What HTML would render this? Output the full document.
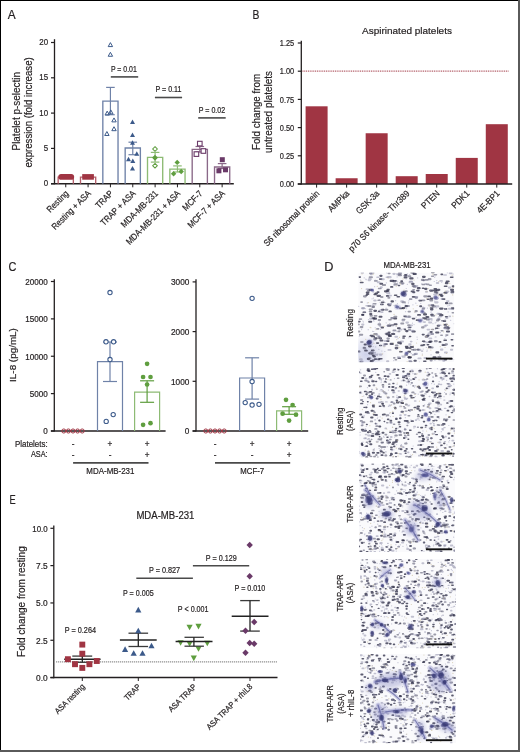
<!DOCTYPE html>
<html><head><meta charset="utf-8"><style>
html,body{margin:0;padding:0;background:#fff;}
svg{display:block;will-change:transform;}
text{font-family:"Liberation Sans", sans-serif;fill:#231f20;stroke:#231f20;stroke-width:0.2px;}
</style></head><body>
<svg width="520" height="752" viewBox="0 0 520 752">
<rect x="0" y="0" width="520" height="752" fill="#fff"/>
<text x="7.8" y="18.6" font-size="13.3" textLength="7.9" lengthAdjust="spacingAndGlyphs">A</text>
<line x1="54.5" y1="39.2" x2="54.5" y2="184.3" stroke="#231f20" stroke-width="1.3"/>
<line x1="51" y1="183.7" x2="54.5" y2="183.7" stroke="#231f20" stroke-width="1.2"/>
<text x="48.1" y="186.3" font-size="8.8" text-anchor="end" textLength="4.4" lengthAdjust="spacingAndGlyphs">0</text>
<line x1="51" y1="148.4" x2="54.5" y2="148.4" stroke="#231f20" stroke-width="1.2"/>
<text x="48.1" y="151" font-size="8.8" text-anchor="end" textLength="4.4" lengthAdjust="spacingAndGlyphs">5</text>
<line x1="51" y1="113.1" x2="54.5" y2="113.1" stroke="#231f20" stroke-width="1.2"/>
<text x="48.1" y="115.7" font-size="8.8" text-anchor="end" textLength="8.8" lengthAdjust="spacingAndGlyphs">10</text>
<line x1="51" y1="77.8" x2="54.5" y2="77.8" stroke="#231f20" stroke-width="1.2"/>
<text x="48.1" y="80.4" font-size="8.8" text-anchor="end" textLength="8.8" lengthAdjust="spacingAndGlyphs">15</text>
<line x1="51" y1="42.5" x2="54.5" y2="42.5" stroke="#231f20" stroke-width="1.2"/>
<text x="48.1" y="45.1" font-size="8.8" text-anchor="end" textLength="8.8" lengthAdjust="spacingAndGlyphs">20</text>
<text transform="translate(20.2 111.3) rotate(-90)" font-size="10.4" text-anchor="middle" textLength="78.4" lengthAdjust="spacingAndGlyphs">Platelet p-selectin</text>
<text transform="translate(32.4 112.4) rotate(-90)" font-size="10.4" text-anchor="middle" textLength="110.2" lengthAdjust="spacingAndGlyphs">expression (fold increase)</text>
<line x1="51" y1="183.7" x2="233.8" y2="183.7" stroke="#231f20" stroke-width="1.5"/>
<line x1="65.75" y1="183.7" x2="65.75" y2="187.3" stroke="#231f20" stroke-width="1"/>
<text transform="translate(69.15 194.1) rotate(-45)" font-size="9" text-anchor="end" textLength="26.85" lengthAdjust="spacingAndGlyphs">Resting</text>
<line x1="88.09" y1="183.7" x2="88.09" y2="187.3" stroke="#231f20" stroke-width="1"/>
<text transform="translate(91.49 194.1) rotate(-45)" font-size="9" text-anchor="end" textLength="51.29" lengthAdjust="spacingAndGlyphs">Resting + ASA</text>
<line x1="110.43" y1="183.7" x2="110.43" y2="187.3" stroke="#231f20" stroke-width="1"/>
<text transform="translate(113.83 194.1) rotate(-45)" font-size="9" text-anchor="end" textLength="21.12" lengthAdjust="spacingAndGlyphs">TRAP</text>
<line x1="132.77" y1="183.7" x2="132.77" y2="187.3" stroke="#231f20" stroke-width="1"/>
<text transform="translate(136.17 194.1) rotate(-45)" font-size="9" text-anchor="end" textLength="45.42" lengthAdjust="spacingAndGlyphs">TRAP + ASA</text>
<line x1="155.11" y1="183.7" x2="155.11" y2="187.3" stroke="#231f20" stroke-width="1"/>
<text transform="translate(158.51 194.1) rotate(-45)" font-size="9" text-anchor="end" textLength="47.97" lengthAdjust="spacingAndGlyphs">MDA-MB-231</text>
<line x1="177.45" y1="183.7" x2="177.45" y2="187.3" stroke="#231f20" stroke-width="1"/>
<text transform="translate(180.85 194.1) rotate(-45)" font-size="9" text-anchor="end" textLength="72.41" lengthAdjust="spacingAndGlyphs">MDA-MB-231 + ASA</text>
<line x1="199.79" y1="183.7" x2="199.79" y2="187.3" stroke="#231f20" stroke-width="1"/>
<text transform="translate(203.19 194.1) rotate(-45)" font-size="9" text-anchor="end" textLength="24.2" lengthAdjust="spacingAndGlyphs">MCF-7</text>
<line x1="222.13" y1="183.7" x2="222.13" y2="187.3" stroke="#231f20" stroke-width="1"/>
<text transform="translate(225.53 194.1) rotate(-45)" font-size="9" text-anchor="end" textLength="48.64" lengthAdjust="spacingAndGlyphs">MCF-7 + ASA</text>
<path d="M58.15 183.7 V177.1 H73.35 V183.7" fill="none" stroke="#b5606c" stroke-width="1.35"/>
<path d="M58.2 176.9 Q58.6 174.1 61 174.1 H71.4 Q73.8 174.1 74.2 176.9 Q73.8 179.7 71.4 179.7 H61 Q58.6 179.7 58.2 176.9Z" fill="#a03543"/>
<path d="M80.49 183.7 V177.1 H95.69 V183.7" fill="none" stroke="#b5606c" stroke-width="1.35"/>
<rect x="82.2" y="174.1" width="11.7" height="5.6" fill="#a03543"/>
<path d="M102.83 183.7 V101.1 H118.03 V183.7" fill="none" stroke="#6f82a8" stroke-width="1.35"/>
<line x1="110.43" y1="114.7" x2="110.43" y2="87.4" stroke="#6f82a8" stroke-width="1.2"/>
<line x1="106.13" y1="114.7" x2="114.73" y2="114.7" stroke="#6f82a8" stroke-width="1.2"/>
<line x1="106.13" y1="87.4" x2="114.73" y2="87.4" stroke="#6f82a8" stroke-width="1.2"/>
<polygon points="110.4,42.62 112.6,46.58 108.2,46.58" fill="none" stroke="#3c5a8a" stroke-width="1" stroke-linejoin="miter"/>
<polygon points="110.4,52.32 112.6,56.28 108.2,56.28" fill="none" stroke="#3c5a8a" stroke-width="1" stroke-linejoin="miter"/>
<polygon points="107.2,111.12 109.4,115.08 105,115.08" fill="none" stroke="#3c5a8a" stroke-width="1" stroke-linejoin="miter"/>
<polygon points="110.8,109.92 113,113.88 108.6,113.88" fill="none" stroke="#3c5a8a" stroke-width="1" stroke-linejoin="miter"/>
<polygon points="114,117.92 116.2,121.88 111.8,121.88" fill="none" stroke="#3c5a8a" stroke-width="1" stroke-linejoin="miter"/>
<polygon points="114,126.72 116.2,130.68 111.8,130.68" fill="none" stroke="#3c5a8a" stroke-width="1" stroke-linejoin="miter"/>
<polygon points="106.9,131.52 109.1,135.48 104.7,135.48" fill="none" stroke="#3c5a8a" stroke-width="1" stroke-linejoin="miter"/>
<path d="M125.17 183.7 V148 H140.37 V183.7" fill="none" stroke="#6f82a8" stroke-width="1.35"/>
<line x1="132.77" y1="154.7" x2="132.77" y2="142.2" stroke="#6f82a8" stroke-width="1.2"/>
<line x1="128.47" y1="154.7" x2="137.07" y2="154.7" stroke="#6f82a8" stroke-width="1.2"/>
<line x1="128.47" y1="142.2" x2="137.07" y2="142.2" stroke="#6f82a8" stroke-width="1.2"/>
<polygon points="132.5,119.4 135,123.9 130,123.9" fill="#3c5a8a"/>
<polygon points="132.5,132.5 135,137 130,137" fill="#3c5a8a"/>
<polygon points="132.5,140.3 135,144.8 130,144.8" fill="#3c5a8a"/>
<polygon points="136.8,151.3 139.3,155.8 134.3,155.8" fill="#3c5a8a"/>
<polygon points="128.5,156.7 131,161.2 126,161.2" fill="#3c5a8a"/>
<polygon points="132.8,158.5 135.3,163 130.3,163" fill="#3c5a8a"/>
<polygon points="132.5,166.1 135,170.6 130,170.6" fill="#3c5a8a"/>
<path d="M147.51 183.7 V157.4 H162.71 V183.7" fill="none" stroke="#8dbb74" stroke-width="1.35"/>
<line x1="155.11" y1="162.1" x2="155.11" y2="152.4" stroke="#8dbb74" stroke-width="1.2"/>
<line x1="150.81" y1="162.1" x2="159.41" y2="162.1" stroke="#8dbb74" stroke-width="1.2"/>
<line x1="150.81" y1="152.4" x2="159.41" y2="152.4" stroke="#8dbb74" stroke-width="1.2"/>
<polygon points="155,146.7 157.3,149 155,151.3 152.7,149" fill="#fff" stroke="#5f9e3f" stroke-width="1.05" stroke-linejoin="miter"/>
<polygon points="155,155.5 157.2,157.7 155,159.9 152.8,157.7" fill="#5f9e3f" stroke="#5f9e3f" stroke-width="1.05" stroke-linejoin="miter"/>
<polygon points="155,163.4 157.3,165.7 155,168 152.7,165.7" fill="#fff" stroke="#5f9e3f" stroke-width="1.05" stroke-linejoin="miter"/>
<path d="M169.85 183.7 V169.1 H185.05 V183.7" fill="none" stroke="#8dbb74" stroke-width="1.35"/>
<line x1="177.45" y1="172" x2="177.45" y2="165.9" stroke="#8dbb74" stroke-width="1.2"/>
<line x1="173.15" y1="172" x2="181.75" y2="172" stroke="#8dbb74" stroke-width="1.2"/>
<line x1="173.15" y1="165.9" x2="181.75" y2="165.9" stroke="#8dbb74" stroke-width="1.2"/>
<polygon points="177.2,159.7 179.9,162.4 177.2,165.1 174.5,162.4" fill="#5f9e3f"/>
<polygon points="173.6,171.1 176.3,173.8 173.6,176.5 170.9,173.8" fill="#5f9e3f"/>
<polygon points="181.2,168.8 183.9,171.5 181.2,174.2 178.5,171.5" fill="#5f9e3f"/>
<path d="M192.19 183.7 V149.3 H207.39 V183.7" fill="none" stroke="#8a6888" stroke-width="1.35"/>
<line x1="199.79" y1="152" x2="199.79" y2="146.5" stroke="#8a6888" stroke-width="1.2"/>
<line x1="195.49" y1="152" x2="204.09" y2="152" stroke="#8a6888" stroke-width="1.2"/>
<line x1="195.49" y1="146.5" x2="204.09" y2="146.5" stroke="#8a6888" stroke-width="1.2"/>
<rect x="197.5" y="141.3" width="4.6" height="4.6" fill="#fff" stroke="#6a3a68" stroke-width="1.1"/>
<rect x="201.1" y="148.7" width="4.6" height="4.6" fill="#fff" stroke="#6a3a68" stroke-width="1.1"/>
<rect x="194.1" y="151.8" width="4.6" height="4.6" fill="#fff" stroke="#6a3a68" stroke-width="1.1"/>
<path d="M214.53 183.7 V167 H229.73 V183.7" fill="none" stroke="#8a6888" stroke-width="1.35"/>
<line x1="222.13" y1="168.5" x2="222.13" y2="163.6" stroke="#8a6888" stroke-width="1.2"/>
<line x1="217.83" y1="168.5" x2="226.43" y2="168.5" stroke="#8a6888" stroke-width="1.2"/>
<line x1="217.83" y1="163.6" x2="226.43" y2="163.6" stroke="#8a6888" stroke-width="1.2"/>
<rect x="219.8" y="157.2" width="5" height="5" fill="#6a3a68"/>
<rect x="216.4" y="168.3" width="5" height="5" fill="#6a3a68"/>
<rect x="223" y="167.3" width="5" height="5" fill="#6a3a68"/>
<text x="110.9" y="71.5" font-size="8.4" fill="#2a2a2a" stroke="none" textLength="25.9" lengthAdjust="spacingAndGlyphs">P = 0.01</text>
<line x1="110.8" y1="76.9" x2="138.2" y2="76.9" stroke="#4a4a4a" stroke-width="1.6"/>
<text x="155.4" y="92.2" font-size="8.4" fill="#2a2a2a" stroke="none" textLength="26.1" lengthAdjust="spacingAndGlyphs">P = 0.11</text>
<line x1="154.9" y1="97.5" x2="182.1" y2="97.5" stroke="#4a4a4a" stroke-width="1.6"/>
<text x="198.7" y="112.7" font-size="8.4" fill="#2a2a2a" stroke="none" textLength="26.5" lengthAdjust="spacingAndGlyphs">P = 0.02</text>
<line x1="198.2" y1="117.9" x2="225.7" y2="117.9" stroke="#4a4a4a" stroke-width="1.6"/>
<text x="252.6" y="18.6" font-size="13.3" textLength="6.9" lengthAdjust="spacingAndGlyphs">B</text>
<text x="407" y="33.9" font-size="9.9" text-anchor="middle" textLength="89.9" lengthAdjust="spacingAndGlyphs">Aspirinated platelets</text>
<line x1="301.3" y1="40.8" x2="301.3" y2="184.6" stroke="#231f20" stroke-width="1.3"/>
<line x1="297.8" y1="184" x2="301.3" y2="184" stroke="#231f20" stroke-width="1.2"/>
<text x="294.2" y="187.1" font-size="8.6" text-anchor="end" textLength="14.4" lengthAdjust="spacingAndGlyphs">0.00</text>
<line x1="297.8" y1="155.8" x2="301.3" y2="155.8" stroke="#231f20" stroke-width="1.2"/>
<text x="294.2" y="158.9" font-size="8.6" text-anchor="end" textLength="14.4" lengthAdjust="spacingAndGlyphs">0.25</text>
<line x1="297.8" y1="127.6" x2="301.3" y2="127.6" stroke="#231f20" stroke-width="1.2"/>
<text x="294.2" y="130.7" font-size="8.6" text-anchor="end" textLength="14.4" lengthAdjust="spacingAndGlyphs">0.50</text>
<line x1="297.8" y1="99.4" x2="301.3" y2="99.4" stroke="#231f20" stroke-width="1.2"/>
<text x="294.2" y="102.5" font-size="8.6" text-anchor="end" textLength="14.4" lengthAdjust="spacingAndGlyphs">0.75</text>
<line x1="297.8" y1="71.2" x2="301.3" y2="71.2" stroke="#231f20" stroke-width="1.2"/>
<text x="294.2" y="74.3" font-size="8.6" text-anchor="end" textLength="14.4" lengthAdjust="spacingAndGlyphs">1.00</text>
<line x1="297.8" y1="43" x2="301.3" y2="43" stroke="#231f20" stroke-width="1.2"/>
<text x="294.2" y="46.1" font-size="8.6" text-anchor="end" textLength="14.4" lengthAdjust="spacingAndGlyphs">1.25</text>
<text transform="translate(259.8 112) rotate(-90)" font-size="10.4" text-anchor="middle" textLength="76.2" lengthAdjust="spacingAndGlyphs">Fold change from</text>
<text transform="translate(271.7 112) rotate(-90)" font-size="10.4" text-anchor="middle" textLength="82" lengthAdjust="spacingAndGlyphs">untreated platelets</text>
<line x1="302.5" y1="71.2" x2="508.5" y2="71.2" stroke="#a03543" stroke-width="1.3" stroke-dasharray="1 0.8" opacity="0.85"/>
<rect x="305.6" y="106.3" width="22" height="77.7" fill="#a03543"/>
<line x1="316.6" y1="184" x2="316.6" y2="187.6" stroke="#231f20" stroke-width="1"/>
<text transform="translate(320 194) rotate(-45)" font-size="9" text-anchor="end" textLength="74.7" lengthAdjust="spacingAndGlyphs">S6 ribosomal protein</text>
<rect x="335.63" y="178.25" width="22" height="5.75" fill="#a03543"/>
<line x1="346.63" y1="184" x2="346.63" y2="187.6" stroke="#231f20" stroke-width="1"/>
<text transform="translate(350.03 194) rotate(-45)" font-size="9" text-anchor="end" textLength="26.25" lengthAdjust="spacingAndGlyphs">AMPka</text>
<rect x="365.66" y="133.25" width="22" height="50.75" fill="#a03543"/>
<line x1="376.66" y1="184" x2="376.66" y2="187.6" stroke="#231f20" stroke-width="1"/>
<text transform="translate(380.06 194) rotate(-45)" font-size="9" text-anchor="end" textLength="28.97" lengthAdjust="spacingAndGlyphs">GSK-3a</text>
<rect x="395.69" y="176.2" width="22" height="7.8" fill="#a03543"/>
<line x1="406.69" y1="184" x2="406.69" y2="187.6" stroke="#231f20" stroke-width="1"/>
<text transform="translate(410.09 194) rotate(-45)" font-size="9" text-anchor="end" textLength="82.26" lengthAdjust="spacingAndGlyphs">p70 S6 kinase- Thr389</text>
<rect x="425.72" y="174" width="22" height="10" fill="#a03543"/>
<line x1="436.72" y1="184" x2="436.72" y2="187.6" stroke="#231f20" stroke-width="1"/>
<text transform="translate(440.12 194) rotate(-45)" font-size="9" text-anchor="end" textLength="21.72" lengthAdjust="spacingAndGlyphs">PTEN</text>
<rect x="455.75" y="157.9" width="22" height="26.1" fill="#a03543"/>
<line x1="466.75" y1="184" x2="466.75" y2="187.6" stroke="#231f20" stroke-width="1"/>
<text transform="translate(470.15 194) rotate(-45)" font-size="9" text-anchor="end" textLength="21.28" lengthAdjust="spacingAndGlyphs">PDK1</text>
<rect x="485.78" y="124.2" width="22" height="59.8" fill="#a03543"/>
<line x1="496.78" y1="184" x2="496.78" y2="187.6" stroke="#231f20" stroke-width="1"/>
<text transform="translate(500.18 194) rotate(-45)" font-size="9" text-anchor="end" textLength="28.07" lengthAdjust="spacingAndGlyphs">4E-BP1</text>
<line x1="297.8" y1="184" x2="512.2" y2="184" stroke="#231f20" stroke-width="1.5"/>
<text x="8.4" y="270.6" font-size="13.3" textLength="7.9" lengthAdjust="spacingAndGlyphs">C</text>
<text transform="translate(16.3 355) rotate(-90)" font-size="9.6" text-anchor="middle" textLength="53.8" lengthAdjust="spacingAndGlyphs">IL-8 (pg/mL)</text>
<text x="47.6" y="446.5" font-size="8.6" text-anchor="end" textLength="32.6" lengthAdjust="spacingAndGlyphs">Platelets:</text>
<text x="47.6" y="457.4" font-size="8.6" text-anchor="end" textLength="16.7" lengthAdjust="spacingAndGlyphs">ASA:</text>
<line x1="54.3" y1="279.2" x2="54.3" y2="431.6" stroke="#231f20" stroke-width="1.3"/>
<line x1="50.9" y1="431" x2="54.3" y2="431" stroke="#231f20" stroke-width="1.2"/>
<text x="47.7" y="434.4" font-size="8.4" text-anchor="end" textLength="4.5" lengthAdjust="spacingAndGlyphs">0</text>
<line x1="50.9" y1="393.62" x2="54.3" y2="393.62" stroke="#231f20" stroke-width="1.2"/>
<text x="47.7" y="397.02" font-size="8.4" text-anchor="end" textLength="18" lengthAdjust="spacingAndGlyphs">5000</text>
<line x1="50.9" y1="356.25" x2="54.3" y2="356.25" stroke="#231f20" stroke-width="1.2"/>
<text x="47.7" y="359.65" font-size="8.4" text-anchor="end" textLength="22.5" lengthAdjust="spacingAndGlyphs">10000</text>
<line x1="50.9" y1="318.88" x2="54.3" y2="318.88" stroke="#231f20" stroke-width="1.2"/>
<text x="47.7" y="322.27" font-size="8.4" text-anchor="end" textLength="22.5" lengthAdjust="spacingAndGlyphs">15000</text>
<line x1="50.9" y1="281.5" x2="54.3" y2="281.5" stroke="#231f20" stroke-width="1.2"/>
<text x="47.7" y="284.9" font-size="8.4" text-anchor="end" textLength="22.5" lengthAdjust="spacingAndGlyphs">20000</text>
<line x1="50.9" y1="431" x2="165.6" y2="431" stroke="#231f20" stroke-width="1.5"/>
<circle cx="63.8" cy="431" r="2.05" fill="none" stroke="#a03543" stroke-width="1"/>
<circle cx="68.4" cy="431" r="2.05" fill="none" stroke="#a03543" stroke-width="1"/>
<circle cx="73" cy="431" r="2.05" fill="none" stroke="#a03543" stroke-width="1"/>
<circle cx="77.6" cy="431" r="2.05" fill="none" stroke="#a03543" stroke-width="1"/>
<circle cx="82.2" cy="431" r="2.05" fill="none" stroke="#a03543" stroke-width="1"/>
<path d="M97.5 431 V361.7 H122.5 V431" fill="none" stroke="#6f82a8" stroke-width="1.2"/>
<line x1="110" y1="381.5" x2="110" y2="342" stroke="#6f82a8" stroke-width="1.2"/>
<line x1="103" y1="381.5" x2="117" y2="381.5" stroke="#6f82a8" stroke-width="1.2"/>
<line x1="103" y1="342" x2="117" y2="342" stroke="#6f82a8" stroke-width="1.2"/>
<circle cx="110" cy="292.5" r="2.15" fill="#fff" stroke="#3c5a8a" stroke-width="1.05"/>
<circle cx="106" cy="341.75" r="2.15" fill="#fff" stroke="#3c5a8a" stroke-width="1.05"/>
<circle cx="113.6" cy="341.75" r="2.15" fill="#fff" stroke="#3c5a8a" stroke-width="1.05"/>
<circle cx="110" cy="359.5" r="2.15" fill="#fff" stroke="#3c5a8a" stroke-width="1.05"/>
<circle cx="106.2" cy="421.4" r="2.15" fill="#fff" stroke="#3c5a8a" stroke-width="1.05"/>
<circle cx="113.2" cy="414.6" r="2.15" fill="#fff" stroke="#3c5a8a" stroke-width="1.05"/>
<path d="M134.6 431 V392.2 H159.6 V431" fill="none" stroke="#8dbb74" stroke-width="1.2"/>
<line x1="147.1" y1="402.3" x2="147.1" y2="380.8" stroke="#5f9e3f" stroke-width="1.2"/>
<line x1="140.1" y1="402.3" x2="154.1" y2="402.3" stroke="#5f9e3f" stroke-width="1.2"/>
<line x1="140.1" y1="380.8" x2="154.1" y2="380.8" stroke="#5f9e3f" stroke-width="1.2"/>
<circle cx="147.1" cy="363.8" r="2.35" fill="#5f9e3f"/>
<circle cx="143.1" cy="377" r="2.35" fill="#5f9e3f"/>
<circle cx="150.5" cy="377" r="2.35" fill="#5f9e3f"/>
<circle cx="147.1" cy="384.5" r="2.35" fill="#5f9e3f"/>
<circle cx="143.1" cy="424.8" r="2.35" fill="#5f9e3f"/>
<circle cx="150.5" cy="423.2" r="2.35" fill="#5f9e3f"/>
<text x="73" y="447.3" font-size="8.2" text-anchor="middle">-</text>
<text x="73" y="457.5" font-size="8.2" text-anchor="middle">-</text>
<text x="110" y="447.3" font-size="8.2" text-anchor="middle">+</text>
<text x="110" y="457.5" font-size="8.2" text-anchor="middle">-</text>
<text x="147.1" y="447.3" font-size="8.2" text-anchor="middle">+</text>
<text x="147.1" y="457.5" font-size="8.2" text-anchor="middle">+</text>
<line x1="73.1" y1="462.9" x2="148.5" y2="462.9" stroke="#4a4a4a" stroke-width="1.6"/>
<text x="110.4" y="473.9" font-size="8.4" text-anchor="middle" textLength="48.06" lengthAdjust="spacingAndGlyphs">MDA-MB-231</text>
<line x1="196" y1="279.2" x2="196" y2="431.6" stroke="#231f20" stroke-width="1.3"/>
<line x1="192.6" y1="431" x2="196" y2="431" stroke="#231f20" stroke-width="1.2"/>
<text x="189.4" y="434.4" font-size="8.4" text-anchor="end" textLength="4.6" lengthAdjust="spacingAndGlyphs">0</text>
<line x1="192.6" y1="381.3" x2="196" y2="381.3" stroke="#231f20" stroke-width="1.2"/>
<text x="189.4" y="384.7" font-size="8.4" text-anchor="end" textLength="18.4" lengthAdjust="spacingAndGlyphs">1000</text>
<line x1="192.6" y1="331.6" x2="196" y2="331.6" stroke="#231f20" stroke-width="1.2"/>
<text x="189.4" y="335" font-size="8.4" text-anchor="end" textLength="18.4" lengthAdjust="spacingAndGlyphs">2000</text>
<line x1="192.6" y1="281.9" x2="196" y2="281.9" stroke="#231f20" stroke-width="1.2"/>
<text x="189.4" y="285.3" font-size="8.4" text-anchor="end" textLength="18.4" lengthAdjust="spacingAndGlyphs">3000</text>
<line x1="192.6" y1="431" x2="308.2" y2="431" stroke="#231f20" stroke-width="1.5"/>
<circle cx="205.8" cy="431" r="2.05" fill="none" stroke="#a03543" stroke-width="1"/>
<circle cx="210.4" cy="431" r="2.05" fill="none" stroke="#a03543" stroke-width="1"/>
<circle cx="215" cy="431" r="2.05" fill="none" stroke="#a03543" stroke-width="1"/>
<circle cx="219.6" cy="431" r="2.05" fill="none" stroke="#a03543" stroke-width="1"/>
<circle cx="224.2" cy="431" r="2.05" fill="none" stroke="#a03543" stroke-width="1"/>
<path d="M239.6 431 V378 H264.6 V431" fill="none" stroke="#6f82a8" stroke-width="1.2"/>
<line x1="252.1" y1="399.1" x2="252.1" y2="357.8" stroke="#6f82a8" stroke-width="1.2"/>
<line x1="245.1" y1="399.1" x2="259.1" y2="399.1" stroke="#6f82a8" stroke-width="1.2"/>
<line x1="245.1" y1="357.8" x2="259.1" y2="357.8" stroke="#6f82a8" stroke-width="1.2"/>
<circle cx="252.1" cy="298.3" r="2.15" fill="#fff" stroke="#3c5a8a" stroke-width="1.05"/>
<circle cx="252.1" cy="381.5" r="2.15" fill="#fff" stroke="#3c5a8a" stroke-width="1.05"/>
<circle cx="245.2" cy="402.6" r="2.15" fill="#fff" stroke="#3c5a8a" stroke-width="1.05"/>
<circle cx="252.1" cy="405" r="2.15" fill="#fff" stroke="#3c5a8a" stroke-width="1.05"/>
<circle cx="259" cy="404.3" r="2.15" fill="#fff" stroke="#3c5a8a" stroke-width="1.05"/>
<path d="M276.6 431 V410.9 H301.6 V431" fill="none" stroke="#8dbb74" stroke-width="1.2"/>
<line x1="289.1" y1="414.3" x2="289.1" y2="406.7" stroke="#5f9e3f" stroke-width="1.2"/>
<line x1="282.1" y1="414.3" x2="296.1" y2="414.3" stroke="#5f9e3f" stroke-width="1.2"/>
<line x1="282.1" y1="406.7" x2="296.1" y2="406.7" stroke="#5f9e3f" stroke-width="1.2"/>
<circle cx="286" cy="399.8" r="2.35" fill="#5f9e3f"/>
<circle cx="292.6" cy="405" r="2.35" fill="#5f9e3f"/>
<circle cx="282.6" cy="413.7" r="2.35" fill="#5f9e3f"/>
<circle cx="296" cy="414.7" r="2.35" fill="#5f9e3f"/>
<circle cx="289.1" cy="420.6" r="2.35" fill="#5f9e3f"/>
<text x="215" y="447.3" font-size="8.2" text-anchor="middle">-</text>
<text x="215" y="457.5" font-size="8.2" text-anchor="middle">-</text>
<text x="252.1" y="447.3" font-size="8.2" text-anchor="middle">+</text>
<text x="252.1" y="457.5" font-size="8.2" text-anchor="middle">-</text>
<text x="289.1" y="447.3" font-size="8.2" text-anchor="middle">+</text>
<text x="289.1" y="457.5" font-size="8.2" text-anchor="middle">+</text>
<line x1="215" y1="462.9" x2="290.2" y2="462.9" stroke="#4a4a4a" stroke-width="1.6"/>
<text x="252.2" y="473.9" font-size="8.4" text-anchor="middle" textLength="23.74" lengthAdjust="spacingAndGlyphs">MCF-7</text>
<text x="9.6" y="504" font-size="13.3" textLength="6.2" lengthAdjust="spacingAndGlyphs">E</text>
<text x="165.4" y="519.3" font-size="10.2" text-anchor="middle" textLength="58" lengthAdjust="spacingAndGlyphs">MDA-MB-231</text>
<text transform="translate(25 601.6) rotate(-90)" font-size="10" text-anchor="middle" textLength="110.6" lengthAdjust="spacingAndGlyphs">Fold change from resting</text>
<line x1="53.8" y1="525.6" x2="53.8" y2="678.2" stroke="#231f20" stroke-width="1.3"/>
<line x1="50.4" y1="677.6" x2="53.8" y2="677.6" stroke="#231f20" stroke-width="1.2"/>
<text x="47.7" y="680.9" font-size="8.4" text-anchor="end" textLength="11.6" lengthAdjust="spacingAndGlyphs">0.0</text>
<line x1="50.4" y1="640.27" x2="53.8" y2="640.27" stroke="#231f20" stroke-width="1.2"/>
<text x="47.7" y="643.57" font-size="8.4" text-anchor="end" textLength="11.6" lengthAdjust="spacingAndGlyphs">2.5</text>
<line x1="50.4" y1="602.95" x2="53.8" y2="602.95" stroke="#231f20" stroke-width="1.2"/>
<text x="47.7" y="606.25" font-size="8.4" text-anchor="end" textLength="11.6" lengthAdjust="spacingAndGlyphs">5.0</text>
<line x1="50.4" y1="565.62" x2="53.8" y2="565.62" stroke="#231f20" stroke-width="1.2"/>
<text x="47.7" y="568.92" font-size="8.4" text-anchor="end" textLength="11.6" lengthAdjust="spacingAndGlyphs">7.5</text>
<line x1="50.4" y1="528.3" x2="53.8" y2="528.3" stroke="#231f20" stroke-width="1.2"/>
<text x="47.7" y="531.6" font-size="8.4" text-anchor="end" textLength="15.4" lengthAdjust="spacingAndGlyphs">10.0</text>
<line x1="50.4" y1="677.6" x2="277.5" y2="677.6" stroke="#231f20" stroke-width="1.5"/>
<line x1="56.2" y1="661.9" x2="277" y2="661.9" stroke="#777" stroke-width="1.1" stroke-dasharray="1 1"/>
<line x1="82.3" y1="677.6" x2="82.3" y2="681" stroke="#231f20" stroke-width="1"/>
<text transform="translate(85.3 687.2) rotate(-45)" font-size="8.2" text-anchor="end" textLength="38.56" lengthAdjust="spacingAndGlyphs">ASA resting</text>
<line x1="138.3" y1="677.6" x2="138.3" y2="681" stroke="#231f20" stroke-width="1"/>
<text transform="translate(141.3 687.2) rotate(-45)" font-size="8.2" text-anchor="end" textLength="19.68" lengthAdjust="spacingAndGlyphs">TRAP</text>
<line x1="194" y1="677.6" x2="194" y2="681" stroke="#231f20" stroke-width="1"/>
<text transform="translate(197 687.2) rotate(-45)" font-size="8.2" text-anchor="end" textLength="35.96" lengthAdjust="spacingAndGlyphs">ASA TRAP</text>
<line x1="250" y1="677.6" x2="250" y2="681" stroke="#231f20" stroke-width="1"/>
<text transform="translate(253 687.2) rotate(-45)" font-size="8.2" text-anchor="end" textLength="61.06" lengthAdjust="spacingAndGlyphs">ASA TRAP + rhIL8</text>
<line x1="72.3" y1="656.1" x2="92.2" y2="656.1" stroke="#3a3a3a" stroke-width="1.3"/>
<line x1="72.3" y1="662.3" x2="92.2" y2="662.3" stroke="#3a3a3a" stroke-width="1.3"/>
<line x1="82.3" y1="656.1" x2="82.3" y2="662.3" stroke="#222" stroke-width="1.3"/>
<line x1="64.2" y1="659.2" x2="100.6" y2="659.2" stroke="#222" stroke-width="1.5"/>
<rect x="79.35" y="641.65" width="5.9" height="5.9" fill="#a03543"/>
<rect x="79.35" y="650.75" width="5.9" height="5.9" fill="#a03543"/>
<rect x="64.95" y="656.25" width="5.9" height="5.9" fill="#a03543"/>
<rect x="93.85" y="658.05" width="5.9" height="5.9" fill="#a03543"/>
<rect x="72.05" y="661.25" width="5.9" height="5.9" fill="#a03543"/>
<rect x="86.45" y="661.25" width="5.9" height="5.9" fill="#a03543"/>
<rect x="79.35" y="664.95" width="5.9" height="5.9" fill="#a03543"/>
<line x1="128.5" y1="633.2" x2="148.1" y2="633.2" stroke="#3a3a3a" stroke-width="1.3"/>
<line x1="128.5" y1="646.5" x2="148.1" y2="646.5" stroke="#3a3a3a" stroke-width="1.3"/>
<line x1="138.3" y1="633.2" x2="138.3" y2="646.5" stroke="#222" stroke-width="1.3"/>
<line x1="119.9" y1="640" x2="156.7" y2="640" stroke="#222" stroke-width="1.5"/>
<polygon points="138.3,606.85 141.4,612.43 135.2,612.43" fill="#3c5a8a"/>
<polygon points="138.3,627.65 141.4,633.23 135.2,633.23" fill="#3c5a8a"/>
<polygon points="151.5,642.65 154.6,648.23 148.4,648.23" fill="#3c5a8a"/>
<polygon points="125.1,646.35 128.2,651.93 122,651.93" fill="#3c5a8a"/>
<polygon points="133.7,650.15 136.8,655.73 130.6,655.73" fill="#3c5a8a"/>
<polygon points="142.5,650.15 145.6,655.73 139.4,655.73" fill="#3c5a8a"/>
<polygon points="189.6,630.35 192.7,624.77 186.5,624.77" fill="#5f9e3f"/>
<polygon points="198.5,629.45 201.6,623.87 195.4,623.87" fill="#5f9e3f"/>
<polygon points="180.6,645.85 183.7,640.27 177.5,640.27" fill="#5f9e3f"/>
<polygon points="189.6,646.75 192.7,641.17 186.5,641.17" fill="#5f9e3f"/>
<polygon points="207.3,646.35 210.4,640.77 204.2,640.77" fill="#5f9e3f"/>
<polygon points="198.5,651.75 201.6,646.17 195.4,646.17" fill="#5f9e3f"/>
<polygon points="193.8,661.15 196.9,655.57 190.7,655.57" fill="#5f9e3f"/>
<line x1="184.5" y1="637.3" x2="203.9" y2="637.3" stroke="#3a3a3a" stroke-width="1.3"/>
<line x1="184.5" y1="646.2" x2="203.9" y2="646.2" stroke="#3a3a3a" stroke-width="1.3"/>
<line x1="193.9" y1="637.3" x2="193.9" y2="646.2" stroke="#222" stroke-width="1.3"/>
<line x1="175.6" y1="641.5" x2="212.5" y2="641.5" stroke="#222" stroke-width="1.5"/>
<line x1="240.2" y1="600.6" x2="259.8" y2="600.6" stroke="#3a3a3a" stroke-width="1.3"/>
<line x1="240.2" y1="631.1" x2="259.8" y2="631.1" stroke="#3a3a3a" stroke-width="1.3"/>
<line x1="250" y1="600.6" x2="250" y2="631.1" stroke="#222" stroke-width="1.3"/>
<line x1="231.7" y1="616.2" x2="268.5" y2="616.2" stroke="#222" stroke-width="1.5"/>
<polygon points="249.7,541.8 252.9,545 249.7,548.2 246.5,545" fill="#6a3a68"/>
<polygon points="249.7,573.1 252.9,576.3 249.7,579.5 246.5,576.3" fill="#6a3a68"/>
<polygon points="254.2,618.8 257.4,622 254.2,625.2 251,622" fill="#6a3a68"/>
<polygon points="245.5,627.5 248.7,630.7 245.5,633.9 242.3,630.7" fill="#6a3a68"/>
<polygon points="249.7,639.8 252.9,643 249.7,646.2 246.5,643" fill="#6a3a68"/>
<polygon points="254.2,640.6 257.4,643.8 254.2,647 251,643.8" fill="#6a3a68"/>
<polygon points="245.5,649.5 248.7,652.7 245.5,655.9 242.3,652.7" fill="#6a3a68"/>
<text x="64.8" y="632.5" font-size="8.4" fill="#2a2a2a" stroke="none" textLength="31.2" lengthAdjust="spacingAndGlyphs">P = 0.264</text>
<text x="123" y="596" font-size="8.4" fill="#2a2a2a" stroke="none" textLength="30.6" lengthAdjust="spacingAndGlyphs">P = 0.005</text>
<text x="177.8" y="612.3" font-size="8.4" fill="#2a2a2a" stroke="none" textLength="30.8" lengthAdjust="spacingAndGlyphs">P &lt; 0.001</text>
<text x="234.5" y="591.1" font-size="8.4" fill="#2a2a2a" stroke="none" textLength="30.8" lengthAdjust="spacingAndGlyphs">P = 0.010</text>
<text x="148.9" y="573" font-size="8.4" fill="#2a2a2a" stroke="none" textLength="31.2" lengthAdjust="spacingAndGlyphs">P = 0.827</text>
<line x1="136.3" y1="578.2" x2="192.9" y2="578.2" stroke="#4a4a4a" stroke-width="1.5"/>
<text x="205.8" y="560.5" font-size="8.4" fill="#2a2a2a" stroke="none" textLength="30.9" lengthAdjust="spacingAndGlyphs">P = 0.129</text>
<line x1="192.9" y1="565.7" x2="249.2" y2="565.7" stroke="#4a4a4a" stroke-width="1.5"/>
<text x="324.2" y="271.4" font-size="13.3" textLength="9.2" lengthAdjust="spacingAndGlyphs">D</text>
<text x="407" y="267.6" font-size="8.6" text-anchor="middle" textLength="47.2" lengthAdjust="spacingAndGlyphs">MDA-MB-231</text>
<defs><filter id="fb" x="-5%" y="-5%" width="110%" height="110%"><feGaussianBlur stdDeviation="0.5"/></filter><filter id="fh" x="-50%" y="-50%" width="200%" height="200%"><feGaussianBlur stdDeviation="2.2"/></filter><filter id="fc" x="-50%" y="-50%" width="200%" height="200%"><feGaussianBlur stdDeviation="0.65"/></filter><radialGradient id="haze" cx="0.5" cy="0.5" r="0.5"><stop offset="0" stop-color="#aab0dc" stop-opacity="0.55"/><stop offset="1" stop-color="#aab0dc" stop-opacity="0"/></radialGradient></defs>
<clipPath id="cp1"><rect x="358.2" y="272.4" width="96" height="89.8"/></clipPath>
<g clip-path="url(#cp1)">
<rect x="358.2" y="272.4" width="96" height="89.8" fill="#fafafc"/>
<ellipse cx="366.2" cy="354.2" rx="22" ry="20" fill="url(#haze)"/>
<g filter="url(#fb)">
<path d="M408.5 327.5h2.2M388.8 336.1h2.4M422.4 334.6h1.6M379.7 279.1h2.0M374.2 294.4h1.9M359.3 277.1h1.0M398.3 358.3h2.0M450.6 277.3h2.2M452.0 345.8h1.2M390.1 336.1h1.0M435.6 328.2h2.3M366.1 295.3h1.0M400.1 343.7h1.0M381.6 302.2h2.3M360.5 282.5h2.4M430.5 308.0h2.3M417.4 349.6h1.5M363.2 312.2h2.2M427.4 299.2h1.7M409.6 336.5h1.0M423.5 344.9h1.0M443.4 321.1h2.1M362.0 314.9h1.6M398.4 285.5h1.1M422.6 341.3h1.8M372.6 355.4h1.5M405.6 346.6h2.0M446.4 281.4h2.5M444.3 324.9h2.1M386.9 341.1h1.9M404.5 329.4h0.9M444.5 286.3h2.3M379.7 345.5h1.7M423.8 361.2h2.0M376.7 343.1h1.7M394.6 295.3h2.1M447.8 328.7h0.9M447.4 327.7h2.1M393.4 280.8h2.2M422.5 288.3h1.2M397.2 296.7h2.1M403.1 336.3h2.0M444.1 340.2h2.2M378.7 311.4h1.0M364.9 350.8h2.2M388.4 332.3h1.5M445.6 316.8h1.6M412.6 296.9h2.2M424.2 318.8h1.9M412.5 318.6h2.0M399.9 308.4h2.4M419.2 300.6h2.3M399.8 351.8h2.2M430.8 309.6h1.9M402.9 338.0h1.3M451.3 339.7h1.2M371.7 350.4h2.1M387.2 289.6h1.8M431.8 272.5h2.1M416.9 290.6h1.9M387.8 304.2h1.0M441.2 274.4h1.2M357.6 321.6h2.3M449.9 358.8h2.3M404.2 316.4h1.9M379.5 358.8h2.4M422.9 318.0h1.9M380.8 304.4h2.2M427.3 344.8h1.3M360.1 362.0h1.9" stroke="#34344c" stroke-width="1.6" stroke-linecap="round" opacity="0.8" fill="none"/>
<path d="M418.0 314.9h2.1M409.3 348.1h1.3M371.9 336.4h2.2M420.1 306.3h1.1M408.2 351.8h1.9M444.9 308.9h1.5M413.1 292.3h1.3M444.7 327.5h2.3M437.6 325.8h1.5M369.1 321.8h2.2M444.4 292.8h2.3M394.5 324.2h2.1M421.2 345.4h1.5M391.0 286.9h1.4M439.6 294.6h2.0M401.2 281.2h1.0M414.4 360.7h1.5M431.1 314.8h1.7M429.0 342.0h1.5M402.8 308.0h1.6M385.0 344.1h1.9M373.4 356.5h1.6M372.5 318.2h2.0M442.6 299.1h1.9M436.1 332.5h2.3M437.9 289.7h1.5M428.2 296.4h1.8M378.2 359.2h1.2M411.6 291.4h1.9M381.6 327.5h1.5M381.9 309.7h1.7M374.5 338.3h2.3M387.0 291.0h1.5M380.4 340.5h2.0M386.8 295.9h1.5M379.5 316.7h2.1M413.5 273.5h1.3M410.6 347.0h2.5M416.6 320.1h2.2M397.9 328.3h1.9M379.2 338.2h1.9M375.4 293.4h1.8M388.7 335.5h1.8M442.5 345.0h1.5M451.8 291.9h2.4M439.5 341.9h1.0M436.6 290.3h1.9M374.8 359.1h1.5M389.4 311.4h1.5M408.4 357.2h2.5M380.3 283.7h1.9M377.5 292.1h1.1M403.6 291.7h1.5M446.9 331.5h2.2M362.2 314.8h1.0M357.7 351.5h1.7M370.5 335.6h2.2" stroke="#34344c" stroke-width="1.9" stroke-linecap="round" opacity="0.8" fill="none"/>
<path d="M424.1 314.4h1.9M394.2 318.5h1.9M441.1 295.8h1.3M429.9 341.5h1.6M440.2 315.2h2.2M369.5 289.8h1.7M434.3 290.6h1.8M388.0 325.7h2.3M452.8 286.3h1.2M395.7 348.1h1.6M451.1 289.9h1.9M367.0 293.9h1.3M385.0 291.3h1.7M392.0 334.0h2.2M405.6 306.2h1.3M388.3 334.4h1.2M406.2 347.8h1.6M370.7 361.1h2.0M426.4 317.2h1.8M430.8 298.7h1.4M430.6 332.0h1.1M413.7 274.0h2.1M431.8 305.3h1.5M390.7 343.9h2.1M390.7 280.9h2.5M412.6 331.5h2.1M417.9 288.2h1.7M445.9 283.2h1.5M398.2 342.7h2.4M429.0 347.2h1.5M434.5 289.0h1.6M391.6 301.4h1.3M374.4 310.8h1.6M406.2 331.1h1.2M436.5 352.4h1.7M369.3 353.3h2.5M364.7 344.5h1.1M405.2 275.0h1.1M377.5 295.8h2.4M367.9 358.9h1.1M412.2 283.9h1.3M410.3 278.4h2.2M444.8 359.4h1.3M423.0 276.8h1.7M425.1 288.8h1.4M370.2 314.1h1.1M369.2 346.2h1.3M374.0 318.7h2.0M451.9 308.3h1.9M440.1 308.6h2.4M433.5 357.4h2.0M404.7 277.4h1.7M430.2 290.6h2.3M380.4 275.8h1.1M386.7 334.2h0.9M408.8 357.4h1.6M446.0 303.2h1.2M427.5 335.5h1.0M366.8 292.6h1.6" stroke="#34344c" stroke-width="2.2" stroke-linecap="round" opacity="0.8" fill="none"/>
<path d="M440.9 335.2h1.3M423.4 341.6h1.6M372.2 307.2h1.9M431.7 276.3h1.7M378.6 288.5h2.3M389.0 319.8h2.0M360.9 342.0h1.9M411.6 349.7h1.6M395.3 359.7h1.2M426.8 284.4h1.9M374.7 280.9h2.3M400.0 282.9h1.9M398.2 331.4h1.4M444.0 345.2h1.6M429.6 285.2h1.6M378.1 300.3h1.9M393.8 357.9h1.0M388.4 273.4h1.4M446.0 335.1h1.7M398.8 343.0h2.2M365.0 350.1h1.5M423.2 280.4h0.9M434.2 274.7h2.3M369.5 309.4h2.5M373.9 339.6h2.0M434.6 292.4h2.2M452.3 312.7h1.2M426.1 335.9h2.2M441.3 330.7h1.5M441.7 320.8h1.6M378.3 336.9h1.6M363.5 347.5h1.5M422.3 300.4h2.0M374.4 315.9h2.2M422.2 284.5h2.5M409.4 361.6h2.3M446.5 326.8h1.9M431.8 329.5h1.6M373.5 303.8h2.3M402.4 319.6h2.3M445.1 324.4h1.9M388.3 305.4h2.2M376.9 328.9h1.7M393.1 281.7h2.2M413.0 289.8h1.3" stroke="#5a5a72" stroke-width="1.6" stroke-linecap="round" opacity="0.6" fill="none"/>
<path d="M408.4 276.2h2.0M361.1 302.1h1.0M425.2 279.9h2.4M412.6 286.0h2.1M357.7 324.4h1.1M411.3 272.7h2.0M363.6 348.3h1.8M401.2 323.5h2.1M359.6 319.1h1.7M431.7 315.7h2.4M430.6 360.6h1.1M394.3 316.8h2.1M369.6 277.3h2.4M395.8 345.5h1.7M370.4 315.7h1.6M398.8 275.3h2.3M431.1 347.5h1.6M413.6 349.8h2.3M402.4 283.3h1.1M402.5 302.2h2.4M395.0 280.9h1.3M378.6 320.0h1.6M451.8 334.1h2.0M385.6 333.8h1.5M389.2 305.2h1.0M388.3 297.7h1.1M408.8 329.9h1.5M370.6 352.4h2.3M382.8 285.0h2.4M408.5 311.6h1.5M404.3 275.6h2.1M446.3 327.5h1.5M438.5 319.4h1.0M369.9 273.3h1.5M359.9 334.8h2.4M385.4 309.7h2.0M414.5 354.1h1.4M449.3 303.4h2.4M446.8 328.4h1.8M405.9 291.3h0.9M393.4 330.4h2.1M422.7 308.7h1.4M436.4 293.0h1.2M409.8 299.1h1.7" stroke="#5a5a72" stroke-width="1.9" stroke-linecap="round" opacity="0.6" fill="none"/>
<path d="M399.3 273.4h1.4M406.7 306.0h2.1M438.3 357.1h2.1M357.1 331.5h2.2M394.5 284.4h2.2M391.9 325.2h1.3M391.4 318.2h1.4M360.8 327.1h1.5M413.7 286.7h1.8M378.6 324.4h1.5M430.4 300.5h1.7M398.6 274.1h1.9M435.3 291.9h1.3M426.8 319.5h1.8M387.5 338.6h1.3M431.5 334.0h1.5M368.0 290.7h1.3M372.9 360.0h1.1M372.9 306.4h1.0M422.1 327.4h1.3M371.6 353.6h1.1M445.7 344.3h1.2M423.5 312.8h1.1M434.9 341.2h1.8M425.7 336.8h1.8M421.9 279.9h1.4M439.2 314.1h1.8M415.6 311.2h1.1M369.0 346.3h1.6M381.1 297.0h1.3M405.3 354.9h1.7M428.8 279.2h1.6M415.7 297.7h1.1M369.8 311.5h1.4M433.1 306.4h1.8M451.3 292.3h2.2M424.3 296.3h2.3M408.5 316.7h1.1M368.4 306.0h2.2M374.3 334.2h2.4M387.4 333.3h1.6M364.0 296.3h1.8M369.2 358.4h1.1M408.2 325.3h1.3M437.0 320.3h1.5" stroke="#5a5a72" stroke-width="2.2" stroke-linecap="round" opacity="0.6" fill="none"/>
<path d="M401.6 284.2h1.2M410.6 341.6h1.1M438.5 325.2h2.3M423.7 322.1h1.5M410.6 325.4h1.6M443.8 275.0h2.4M439.7 316.6h1.6M386.3 277.3h1.7M421.6 351.1h1.0M409.9 281.2h2.2M449.1 316.4h1.2M366.1 305.7h1.9M391.5 317.7h1.9M389.0 295.6h2.2M379.5 325.9h1.0M377.0 277.2h1.7M425.2 325.3h2.2M409.5 317.0h1.2M362.0 308.4h1.9M446.6 301.1h2.2M402.2 320.6h1.9M387.4 325.8h2.0M412.6 354.9h2.0M397.0 274.6h1.4M363.9 312.4h1.0M395.2 305.3h1.6" stroke="#8a8aa6" stroke-width="1.6" stroke-linecap="round" opacity="0.5" fill="none"/>
<path d="M418.4 358.4h2.3M444.9 352.5h2.0M373.5 352.8h1.6M425.3 283.9h0.9M368.8 279.3h2.0M443.2 360.8h1.2M409.2 344.1h1.4M450.9 349.8h1.3M427.5 329.6h2.0M377.1 335.6h1.8M446.4 318.0h1.1M425.9 291.8h1.2M448.9 308.8h2.4M388.4 349.9h2.2M361.6 272.7h1.5M380.5 309.9h1.6M370.8 274.3h1.1M366.5 289.2h1.8M429.1 322.5h2.1M426.3 342.4h1.0M443.9 328.1h0.9M383.6 345.9h1.2M381.5 279.2h2.3M399.7 329.6h1.7M395.3 336.7h1.8M436.8 283.0h1.5M409.2 360.9h1.7M380.8 287.2h1.1M437.3 313.7h1.9M440.2 280.9h1.8M381.0 312.1h1.6M429.4 338.4h1.9M424.3 326.3h1.5M400.9 341.5h2.1M409.2 344.9h1.4M411.6 330.8h1.9M441.9 359.5h1.7M367.7 344.9h2.3M384.5 341.0h2.1M422.6 307.9h1.9M375.6 354.7h1.8M424.4 358.0h1.7M368.6 280.2h1.4M377.7 282.2h1.8M437.7 318.8h1.6" stroke="#8a8aa6" stroke-width="1.9" stroke-linecap="round" opacity="0.5" fill="none"/>
<path d="M379.9 354.6h1.6M449.8 273.1h1.8M429.2 319.2h2.4M446.3 291.7h1.7M402.9 356.7h1.7M362.2 324.6h1.1M406.3 316.9h1.6M361.0 361.7h1.7M439.1 359.4h1.1M393.5 273.8h1.1M415.1 297.1h2.1M436.1 306.4h2.1M428.6 333.5h2.3M441.7 298.9h0.9M383.8 344.3h2.2M441.0 349.7h1.3M414.3 286.4h1.8M387.3 293.2h1.9M388.2 277.2h2.4M370.2 318.7h1.4M397.9 357.4h1.8M435.3 302.3h2.2M387.1 361.3h1.1M445.1 328.5h2.2M415.1 353.9h1.9M415.0 286.0h2.3M362.3 308.2h1.7M370.8 352.4h0.9M418.2 349.8h2.1M399.0 272.7h2.1M371.5 272.9h1.9M406.5 322.6h1.4M434.2 294.6h2.4M409.6 282.2h2.4M360.0 359.4h1.7M401.3 301.4h1.6M389.1 304.0h1.9M374.3 300.5h1.3M449.0 287.7h1.3M428.8 305.3h2.1" stroke="#8a8aa6" stroke-width="2.2" stroke-linecap="round" opacity="0.5" fill="none"/>
<path d="M363.4 322.0h0.1M454.1 323.7h0.1M408.8 300.8h0.1M436.7 280.6h0.1M446.6 326.9h0.1M368.8 360.5h0.1M414.0 324.6h0.1M445.4 308.6h0.1M420.7 303.5h0.1M365.3 308.6h0.1M386.3 282.9h0.1M403.1 328.9h0.1M386.1 322.8h0.1M414.9 273.1h0.1M442.1 293.4h0.1M368.2 329.7h0.1M421.7 283.6h0.1M411.0 326.7h0.1M373.4 298.1h0.1M403.9 315.4h0.1M373.3 351.2h0.1M412.4 323.2h0.1M434.2 281.5h0.1M375.6 346.9h0.1M450.6 320.3h0.1M375.2 327.8h0.1M453.1 274.0h0.1M378.8 349.4h0.1M377.9 353.8h0.1M432.9 323.7h0.1M380.1 338.2h0.1M395.6 300.7h0.1M430.9 312.2h0.1M409.5 274.7h0.1M373.5 320.5h0.1M386.7 272.8h0.1M442.7 344.1h0.1M415.8 303.2h0.1M447.3 272.7h0.1M406.2 288.5h0.1M423.5 312.7h0.1M396.3 349.2h0.1M373.7 331.5h0.1M386.1 308.2h0.1M409.8 348.1h0.1M375.6 304.9h0.1M372.5 304.2h0.1M384.8 351.5h0.1M373.2 346.5h0.1M397.1 276.9h0.1M440.3 332.6h0.1M429.9 335.2h0.1M445.7 336.4h0.1M427.4 308.1h0.1M426.3 347.5h0.1M431.9 320.7h0.1M372.9 361.8h0.1M419.4 362.0h0.1M448.0 332.6h0.1M397.6 281.9h0.1M370.1 353.9h0.1M454.0 339.7h0.1M441.7 282.5h0.1M374.4 338.5h0.1M435.6 329.5h0.1M385.0 302.5h0.1M427.1 350.1h0.1M432.2 334.2h0.1M431.9 313.4h0.1M408.4 302.9h0.1M408.2 327.7h0.1M371.6 344.4h0.1M407.3 273.8h0.1M419.1 315.8h0.1M396.8 273.6h0.1M360.6 351.8h0.1M383.1 300.7h0.1M373.6 291.5h0.1M428.9 317.0h0.1M380.7 345.6h0.1M407.5 275.7h0.1M380.4 326.8h0.1M449.6 305.3h0.1M396.9 331.7h0.1M371.4 290.0h0.1M386.9 325.6h0.1M435.9 336.9h0.1M377.6 312.1h0.1M452.4 358.9h0.1M417.0 337.1h0.1M423.0 306.9h0.1M448.1 311.9h0.1M361.5 329.6h0.1M374.6 286.7h0.1M401.8 356.1h0.1M408.4 330.3h0.1M379.4 322.1h0.1M417.6 277.9h0.1M430.4 289.8h0.1M428.9 320.8h0.1M394.1 285.4h0.1M431.9 304.9h0.1M454.1 359.6h0.1M412.9 304.8h0.1M358.6 306.4h0.1M381.8 351.0h0.1M394.7 330.9h0.1M450.2 291.4h0.1M434.6 277.5h0.1M431.5 360.2h0.1M361.5 361.5h0.1M366.2 279.7h0.1M402.1 292.1h0.1M408.4 306.2h0.1M368.4 319.7h0.1M450.6 290.6h0.1M372.6 331.3h0.1M425.0 300.4h0.1M369.7 277.9h0.1M423.1 349.1h0.1M366.0 343.4h0.1M449.5 327.4h0.1M407.3 284.3h0.1M408.5 352.7h0.1M391.2 303.5h0.1M405.2 303.8h0.1M411.2 353.4h0.1M422.8 311.4h0.1M362.8 321.0h0.1M435.2 322.9h0.1M398.9 341.6h0.1M404.1 328.8h0.1M373.1 292.4h0.1M379.5 299.7h0.1M435.1 276.0h0.1M373.6 339.2h0.1M358.8 328.0h0.1M390.7 303.8h0.1M410.3 330.3h0.1M380.5 329.3h0.1M443.8 360.6h0.1M359.3 336.2h0.1M406.1 279.0h0.1M374.6 354.7h0.1M447.7 305.9h0.1M359.4 352.2h0.1M438.5 316.9h0.1M415.0 312.5h0.1M365.8 279.2h0.1M405.5 311.7h0.1M431.0 354.8h0.1M439.1 328.4h0.1M436.2 322.0h0.1M393.2 332.2h0.1M439.5 355.0h0.1M397.4 303.7h0.1M364.2 277.8h0.1M408.8 337.8h0.1M431.4 310.7h0.1M417.2 339.3h0.1M360.5 280.1h0.1M395.1 282.8h0.1M393.7 360.6h0.1M398.0 338.6h0.1M434.6 301.1h0.1M367.3 302.9h0.1M446.1 336.0h0.1M422.3 354.0h0.1M436.2 307.9h0.1M389.7 323.7h0.1M381.3 304.2h0.1M409.8 326.6h0.1M406.6 308.7h0.1M373.9 321.1h0.1M416.0 317.2h0.1M359.8 351.7h0.1M429.6 340.6h0.1M375.1 280.0h0.1M367.7 342.2h0.1M410.1 299.3h0.1M397.5 283.7h0.1M434.9 360.3h0.1M394.0 305.5h0.1M372.0 298.8h0.1M444.8 338.5h0.1M380.0 302.3h0.1M445.0 319.3h0.1M419.1 300.1h0.1M426.9 351.3h0.1M448.8 305.0h0.1M396.0 326.5h0.1M452.9 276.2h0.1M435.2 337.0h0.1" stroke="#a7a7c0" stroke-width="1.2" stroke-linecap="round" opacity="0.6" fill="none"/>
<path d="M370.1 327.3h0.1M452.8 316.2h0.1M432.0 329.5h0.1M445.2 291.2h0.1M452.7 287.8h0.1M443.5 331.8h0.1M430.8 350.1h0.1M403.0 278.9h0.1M373.2 274.2h0.1M429.3 305.7h0.1M362.0 274.0h0.1M438.6 281.5h0.1M440.2 346.7h0.1M410.9 356.5h0.1M377.2 286.3h0.1M396.7 339.6h0.1M359.9 357.0h0.1M446.5 353.4h0.1M400.5 284.1h0.1M373.9 343.4h0.1M374.0 334.3h0.1M413.1 345.7h0.1M388.0 277.9h0.1M428.2 288.6h0.1M361.1 281.0h0.1M396.2 286.2h0.1M400.1 350.9h0.1M448.7 325.4h0.1M426.7 298.7h0.1M416.5 343.0h0.1M398.9 347.3h0.1M394.0 314.4h0.1M428.2 348.2h0.1M426.8 291.3h0.1M444.4 293.7h0.1M375.9 329.6h0.1M446.8 324.4h0.1M399.4 337.4h0.1M432.8 274.2h0.1M435.8 315.1h0.1M417.1 305.5h0.1M384.1 346.8h0.1M443.4 324.2h0.1M383.9 326.4h0.1M414.0 280.0h0.1M407.1 361.7h0.1M438.6 295.3h0.1M404.0 290.2h0.1M403.5 309.5h0.1M449.7 283.4h0.1M410.2 349.3h0.1M382.6 353.8h0.1M396.6 325.8h0.1M445.0 347.5h0.1M365.7 339.4h0.1M422.3 355.2h0.1M414.4 312.0h0.1M426.2 336.7h0.1M368.5 302.7h0.1M361.5 288.6h0.1M452.1 275.2h0.1M393.5 343.0h0.1M452.6 294.9h0.1M413.2 308.8h0.1M370.8 327.7h0.1" stroke="#c9bd98" stroke-width="1.2" stroke-linecap="round" opacity="0.6" fill="none"/>
</g>
<g filter="url(#fc)">
</g><g filter="url(#fh)">
</g><g filter="url(#fc)">
<ellipse cx="403.5" cy="293.8" rx="3.78" ry="3.51" fill="#9a9ccc" opacity="0.3"/>
<ellipse cx="369.9" cy="342.3" rx="3.78" ry="3.51" fill="#9a9ccc" opacity="0.3"/>
<ellipse cx="397.6" cy="307.2" rx="3.51" ry="2.7" fill="#9a9ccc" opacity="0.3"/>
<ellipse cx="420.3" cy="320.5" rx="3.24" ry="2.7" fill="#9a9ccc" opacity="0.3"/>
<ellipse cx="436.2" cy="297.7" rx="2.97" ry="2.43" fill="#9a9ccc" opacity="0.3"/>
<ellipse cx="422.3" cy="311.6" rx="2.43" ry="2.16" fill="#9a9ccc" opacity="0.3"/>
<ellipse cx="406.5" cy="353.2" rx="2.43" ry="2.16" fill="#9a9ccc" opacity="0.3"/>
<ellipse cx="372" cy="290" rx="2.16" ry="1.89" fill="#9a9ccc" opacity="0.3"/>
<ellipse cx="404.23" cy="294.62" rx="2.47" ry="2.3" fill="#363873" opacity="0.54"/>
<ellipse cx="403.24" cy="293.42" rx="2.46" ry="2.28" fill="#363873" opacity="0.54"/>
<ellipse cx="402.67" cy="293.96" rx="2.17" ry="2.02" fill="#363873" opacity="0.54"/>
<ellipse cx="368.88" cy="342.77" rx="2.43" ry="2.25" fill="#363873" opacity="0.54"/>
<ellipse cx="369.84" cy="341.9" rx="2.37" ry="2.2" fill="#363873" opacity="0.54"/>
<ellipse cx="369" cy="342.45" rx="2.33" ry="2.16" fill="#363873" opacity="0.54"/>
<ellipse cx="396.67" cy="306.45" rx="1.96" ry="1.51" fill="#4d4f90" opacity="0.41"/>
<ellipse cx="397.62" cy="307.35" rx="1.87" ry="1.44" fill="#4d4f90" opacity="0.41"/>
<ellipse cx="397.6" cy="307.23" rx="1.86" ry="1.43" fill="#4d4f90" opacity="0.41"/>
<ellipse cx="419.82" cy="320.78" rx="1.8" ry="1.5" fill="#4d4f90" opacity="0.43"/>
<ellipse cx="420.32" cy="321.08" rx="1.57" ry="1.31" fill="#4d4f90" opacity="0.43"/>
<ellipse cx="421.11" cy="319.98" rx="1.62" ry="1.35" fill="#4d4f90" opacity="0.43"/>
<ellipse cx="435.42" cy="297.06" rx="2.04" ry="1.67" fill="#4d4f90" opacity="0.43"/>
<ellipse cx="436.38" cy="298.25" rx="2.15" ry="1.76" fill="#4d4f90" opacity="0.43"/>
<ellipse cx="435.42" cy="297.76" rx="2.1" ry="1.71" fill="#4d4f90" opacity="0.43"/>
<ellipse cx="421.89" cy="312.11" rx="1.62" ry="1.44" fill="#4d4f90" opacity="0.43"/>
<ellipse cx="422.13" cy="311.04" rx="1.59" ry="1.42" fill="#4d4f90" opacity="0.43"/>
<ellipse cx="422.71" cy="311.26" rx="1.27" ry="1.13" fill="#4d4f90" opacity="0.43"/>
<ellipse cx="406.28" cy="353.15" rx="1.47" ry="1.3" fill="#4d4f90" opacity="0.43"/>
<ellipse cx="406.6" cy="353.58" rx="1.69" ry="1.5" fill="#4d4f90" opacity="0.43"/>
<ellipse cx="407.1" cy="353.1" rx="1.24" ry="1.11" fill="#4d4f90" opacity="0.43"/>
<ellipse cx="372.21" cy="290.26" rx="1.49" ry="1.31" fill="#4d4f90" opacity="0.46"/>
<ellipse cx="372.37" cy="290.2" rx="1.52" ry="1.33" fill="#4d4f90" opacity="0.46"/>
<ellipse cx="372.02" cy="289.94" rx="1.19" ry="1.04" fill="#4d4f90" opacity="0.46"/>
</g>
</g>
<rect x="425.9" y="357.65" width="26.3" height="1.9" fill="#111"/>
<text transform="translate(353.3 322.9) rotate(-90)" font-size="9" text-anchor="middle" textLength="27.6" lengthAdjust="spacingAndGlyphs">Resting</text>
<clipPath id="cp2"><rect x="359" y="368" width="96" height="89.5"/></clipPath>
<g clip-path="url(#cp2)">
<rect x="359" y="368" width="96" height="89.5" fill="#fafafc"/>
<g filter="url(#fb)">
<path d="M398.0 369.8h0.8M379.4 436.7h0.5M451.3 412.6h1.3M436.3 393.8h1.0M444.7 448.0h1.1M364.0 407.4h0.5M390.7 447.2h1.5M434.9 431.7h0.6M432.9 420.8h1.5M367.9 453.3h1.6M437.2 417.0h1.6M435.7 434.6h1.7M452.8 456.1h0.5M422.2 450.8h1.0M404.5 393.6h1.5M451.2 381.3h1.5M366.5 424.5h0.7M394.7 408.6h1.3M384.9 381.4h0.7M418.0 414.7h0.7M362.0 445.2h0.7M375.4 423.5h0.5M442.7 454.7h0.9M371.5 369.3h1.7M421.1 417.8h1.5M449.3 406.9h1.1M448.5 438.1h1.0M437.5 397.6h0.5M370.2 432.0h0.7M429.3 412.2h1.0M411.5 448.8h1.1M412.7 397.6h1.4M372.8 406.8h1.6M390.7 449.3h1.4M375.7 381.5h0.9M387.0 437.3h1.0M436.1 420.5h0.8M392.9 383.5h1.0M385.7 379.0h0.5M431.6 392.3h0.8M390.0 455.6h1.1M389.8 432.2h1.5M435.6 375.9h1.3M431.6 443.5h1.5M432.6 401.3h0.9M393.9 369.2h1.4M408.0 439.3h0.7M411.0 397.8h1.6M440.8 445.2h1.3M420.7 454.6h1.4M399.5 426.7h1.1M384.2 421.5h0.4M358.7 372.1h0.9M382.8 405.8h1.4M440.1 439.6h1.3M408.4 381.5h0.8M359.8 392.8h0.9M422.5 438.6h1.0M451.5 449.7h0.5M419.0 388.1h1.4M394.4 407.4h1.4M409.6 430.3h1.4M378.8 378.0h1.2M447.1 453.7h1.4M369.4 430.6h0.8M382.3 384.9h1.3M419.0 436.8h1.3M420.9 427.5h1.6M379.4 406.2h1.5M373.5 414.8h0.9M371.3 375.5h1.2M382.6 404.1h0.5M362.8 401.6h0.5M407.7 435.1h1.1M367.5 401.8h0.6M408.5 410.3h0.8M422.2 399.6h1.1M360.6 381.2h1.4M405.2 453.3h0.9M395.8 456.7h0.4M448.6 417.0h1.3" stroke="#34344c" stroke-width="1.4" stroke-linecap="round" opacity="0.8" fill="none"/>
<path d="M438.8 393.6h1.7M423.0 399.9h1.3M377.1 452.8h1.6M366.3 446.2h1.0M454.2 443.1h1.4M362.1 417.2h0.4M422.1 415.9h0.5M418.5 432.5h1.6M447.0 403.0h0.8M430.8 413.0h0.6M367.6 369.2h1.4M448.8 373.3h0.7M395.1 430.5h0.9M432.7 392.6h1.0M442.9 423.9h1.5M395.9 428.6h0.6M383.8 414.4h1.2M382.7 414.7h0.9M377.5 374.8h1.2M384.5 376.2h1.4M406.3 448.9h0.6M431.4 429.5h0.5M423.1 439.2h1.2M369.8 391.8h1.6M403.4 380.4h0.5M453.3 375.6h0.7M376.4 433.0h1.5M430.8 455.0h1.3M451.9 435.9h0.9M388.9 386.9h0.6M395.9 440.1h1.6M423.6 421.6h0.8M361.6 444.6h1.0M452.4 393.1h1.4M404.6 420.8h0.7M393.9 446.4h0.7M446.5 388.3h0.6M414.3 407.5h1.5M390.3 420.5h1.1M447.4 410.7h1.1M383.2 452.7h0.7M365.9 407.3h0.8M377.8 396.4h1.5M422.5 436.5h0.8M382.0 403.7h1.1M425.3 455.4h1.3M445.8 375.9h1.0M392.2 444.1h1.5M367.4 370.3h1.3M423.4 398.6h1.4M398.8 397.1h1.5M371.7 394.1h0.7M442.0 436.1h1.0M411.4 421.2h1.7M418.0 386.8h1.4M388.9 442.4h1.3M395.5 453.2h1.3M426.2 391.8h1.5M441.4 369.7h1.2M390.9 453.5h0.9M404.7 450.9h1.2M387.7 419.3h0.9M398.9 431.1h1.6M421.9 435.7h1.3M402.3 403.2h0.9M378.5 434.3h0.8M425.6 425.5h0.9M429.4 368.0h1.5M410.1 371.4h0.5M392.0 390.2h1.1M390.8 454.3h1.3M360.9 403.5h1.6M426.2 387.8h1.1M406.3 378.3h1.0M392.3 390.4h1.5M392.7 413.2h0.5M428.9 374.3h0.7M431.3 454.3h1.3M432.7 381.3h0.7M431.3 427.6h0.8M364.7 391.5h1.3M436.6 410.8h1.3M381.4 455.2h1.3M443.9 443.3h0.7M405.1 375.9h1.5M428.2 390.4h0.5" stroke="#34344c" stroke-width="1.7" stroke-linecap="round" opacity="0.8" fill="none"/>
<path d="M372.8 452.7h1.2M370.4 396.9h0.7M442.3 455.5h1.5M400.0 386.4h1.4M403.0 377.3h1.4M398.5 422.2h1.1M429.2 449.9h0.9M435.4 395.0h0.6M364.5 430.7h1.5M365.8 412.3h1.5M372.8 405.6h1.3M369.5 395.8h0.9M406.7 432.9h1.5M361.8 429.7h1.4M374.3 368.9h1.0M450.8 401.1h1.5M437.2 402.5h1.6M361.7 443.6h0.4M410.4 395.8h1.2M451.6 428.5h0.5M367.9 432.2h0.8M453.2 453.8h0.5M396.5 375.1h1.3M392.3 387.1h1.2M400.0 418.3h0.6M443.0 437.6h0.5M371.5 410.7h1.2M401.2 402.7h1.5M362.2 377.9h1.1M360.2 414.4h1.0M376.5 368.2h0.7M403.2 371.5h0.5M445.9 420.6h0.6M366.2 457.3h1.1M422.1 441.1h1.5M417.5 406.5h1.5M396.9 402.4h1.6M382.5 432.7h1.0M402.6 368.0h1.4M448.3 433.6h1.0M417.3 408.8h1.3M422.4 454.7h0.7M444.5 373.5h0.5M434.7 395.2h1.2M396.0 419.1h0.7M419.6 410.4h0.7M393.1 442.4h1.6M371.1 417.5h1.4M452.5 378.3h0.8M379.2 420.5h0.5M395.7 441.8h1.1M378.2 431.7h0.6M428.4 446.9h1.3M436.9 386.6h1.1M438.7 409.2h1.6M375.4 414.9h1.5M396.6 400.5h0.6M367.4 411.9h0.6M439.1 396.2h1.7M367.9 455.1h1.6M401.6 411.7h1.3M420.4 445.0h0.9M424.0 449.3h1.6M387.9 376.5h0.6M447.6 451.6h1.4M431.1 438.2h0.5M371.6 435.9h1.7M422.1 395.8h1.7M407.7 373.9h0.9M419.3 370.7h1.4M453.4 389.8h1.4M450.4 378.6h0.7M372.2 381.2h1.6M427.6 448.2h0.5M450.6 406.3h1.3M408.9 457.3h1.6M453.4 369.1h0.4M370.2 444.2h1.2M376.7 398.4h0.6M403.9 437.9h0.6M369.8 377.1h1.5M386.9 440.6h0.8M369.5 441.6h0.7M406.4 421.0h1.3M379.3 426.4h1.0M368.4 371.1h1.2M442.2 372.7h1.1M435.1 450.9h1.7M420.3 449.2h0.5M366.3 394.2h0.5M380.8 451.5h1.1M369.2 385.7h0.5M413.2 378.9h1.0M375.7 434.2h1.7M400.9 449.3h0.6M408.3 374.0h1.0M443.3 369.1h0.8" stroke="#34344c" stroke-width="2" stroke-linecap="round" opacity="0.8" fill="none"/>
<path d="M377.5 457.2h0.6M435.1 374.0h0.9M425.3 427.2h0.6M405.2 411.1h1.7M361.4 425.5h1.4M376.5 389.1h0.7M366.3 442.2h1.1M393.1 370.2h0.9M426.1 448.7h1.2M403.8 432.8h1.2M437.1 408.3h1.0M408.1 415.7h1.6M445.8 394.0h0.6M416.5 434.3h0.8M443.5 420.1h1.4M373.2 411.1h1.2M386.7 422.8h1.2M426.5 368.7h0.6M421.8 391.1h1.3M430.7 416.9h1.4M388.4 443.6h0.4M389.7 439.5h1.3M431.9 373.0h0.6M392.7 396.9h1.0M372.2 433.7h1.5M417.5 427.3h0.8M381.7 442.6h1.0M371.3 439.5h0.5M407.9 379.9h0.8M415.1 377.5h1.0M434.6 420.1h1.1M399.4 401.6h0.5M434.1 397.0h1.6M381.0 438.2h0.8M384.9 382.2h1.5M407.0 425.5h0.7M373.3 449.9h0.8M428.1 454.1h0.7M365.1 446.4h1.7M393.5 424.3h1.2M432.8 411.5h1.2M401.3 387.8h0.6M438.3 403.5h0.6M390.3 379.9h0.7M447.2 383.7h1.6M403.5 406.6h0.9M384.0 371.7h0.4M404.1 433.5h0.7M381.0 401.9h1.2M397.5 378.3h1.3M377.3 431.0h0.4M421.0 427.8h1.3M403.7 389.2h1.3" stroke="#5a5a72" stroke-width="1.4" stroke-linecap="round" opacity="0.6" fill="none"/>
<path d="M374.4 368.5h0.5M452.0 371.2h1.2M399.0 424.5h0.7M367.6 413.1h1.5M454.1 394.6h1.6M404.8 429.4h0.9M422.0 433.9h0.4M374.3 412.4h0.7M388.9 384.2h0.8M454.6 379.3h0.5M454.0 409.2h0.4M370.6 421.4h1.7M404.4 408.0h1.1M427.7 439.3h0.5M453.4 420.0h0.8M411.4 382.8h0.8M446.1 419.3h1.4M448.8 386.4h1.0M425.0 454.5h0.7M404.8 435.5h0.8M359.7 386.3h1.4M380.3 439.7h1.1M399.8 431.8h1.1M410.7 409.9h1.5M372.3 392.9h1.6M383.9 406.4h0.4M443.9 419.2h0.8M437.0 449.5h1.3M417.7 416.4h1.5M396.0 418.4h0.7M368.2 451.4h0.4M382.8 386.8h0.6M391.3 402.2h0.8M395.7 387.9h0.7M428.6 390.1h0.7M383.6 392.0h1.2M362.8 417.3h0.7M421.1 395.2h1.4M437.5 424.9h1.0M418.1 445.2h0.7M370.2 456.5h1.3M423.4 405.8h0.4M406.0 456.7h1.3M434.5 392.3h0.7M385.2 434.6h1.3M375.1 428.9h1.4M414.8 374.0h1.0M426.9 379.0h0.6M367.8 397.5h1.3M450.2 378.8h0.9M394.8 432.3h0.8M440.5 377.7h0.9M376.2 426.2h1.6M432.4 400.2h1.0M431.9 416.9h1.0M412.6 371.3h0.4M412.1 392.4h1.6M413.0 385.8h0.6M360.6 420.9h1.4M427.5 406.9h1.2M438.4 425.1h1.2M363.2 455.6h0.7" stroke="#5a5a72" stroke-width="1.7" stroke-linecap="round" opacity="0.6" fill="none"/>
<path d="M368.3 381.9h0.5M365.2 380.5h1.4M430.2 456.2h1.3M390.4 421.9h0.9M399.0 448.7h1.4M413.9 452.1h1.2M376.1 455.1h0.5M443.8 423.9h0.9M362.6 431.1h0.8M378.4 439.3h1.1M380.4 397.1h0.5M407.9 422.4h0.7M380.4 450.4h0.6M381.1 447.0h1.2M405.1 443.6h1.5M453.5 428.4h0.6M361.0 400.0h1.2M386.5 369.1h1.2M383.7 447.0h1.5M393.7 403.4h0.9M395.3 435.5h1.5M418.2 386.4h0.8M452.8 410.8h1.4M428.3 404.7h0.9M374.1 456.8h0.9M387.7 397.6h1.1M419.6 388.2h0.4M399.5 435.1h1.7M428.5 434.9h0.7M367.2 392.5h1.6M442.5 372.3h1.6M387.4 442.7h1.6M364.0 375.5h1.0M423.3 384.0h0.8M392.6 432.3h0.6M379.1 445.9h0.7M435.9 402.5h1.1M405.8 404.6h1.0M363.0 422.2h1.4M427.4 375.4h1.1M385.3 455.6h1.0M387.2 370.0h1.6M441.8 425.0h1.5M427.7 454.6h0.6M449.5 447.1h1.0M422.0 449.6h1.0M381.4 442.5h1.7M444.8 368.3h0.8M437.7 403.4h1.6M453.2 379.1h1.4M373.6 385.3h0.7M385.4 393.6h1.0M431.5 447.1h1.6M386.7 415.3h1.6M430.0 428.4h1.5" stroke="#5a5a72" stroke-width="2" stroke-linecap="round" opacity="0.6" fill="none"/>
<path d="M385.6 401.9h1.5M397.9 431.6h1.1M398.3 391.0h0.9M444.5 408.4h1.3M444.4 441.6h1.1M429.2 396.5h0.6M414.3 393.7h1.4M383.8 447.1h0.6M362.1 424.5h0.8M407.8 373.2h0.5M365.1 438.1h1.3M392.1 430.6h1.6M404.2 397.1h0.8M428.5 416.7h0.9M447.9 386.4h1.2M414.5 401.0h1.4M374.8 419.9h0.7M392.9 432.5h0.8M440.6 384.5h1.0M395.1 388.7h0.8M359.9 373.1h1.1M417.2 418.9h1.6M427.0 440.8h0.9M403.5 447.3h0.5M399.6 453.8h1.5M430.5 438.3h1.6M433.4 423.6h0.7M410.1 380.0h1.4M450.8 385.7h0.6M429.6 441.6h1.5M400.3 432.8h1.0M393.8 391.9h0.6M443.9 427.6h1.2M440.1 373.2h1.1M443.9 400.1h0.9M424.6 393.9h1.4M362.4 452.8h1.5M404.5 398.0h1.0M365.2 429.0h0.4M385.6 451.9h0.5M380.9 389.6h1.1M409.5 411.3h0.8M367.7 443.5h0.5M427.3 372.5h0.7M424.8 379.7h1.6M360.1 391.8h0.7M365.7 378.4h1.0" stroke="#8a8aa6" stroke-width="1.4" stroke-linecap="round" opacity="0.5" fill="none"/>
<path d="M369.3 377.8h1.2M388.0 441.1h0.9M363.7 430.5h1.0M393.8 392.5h0.9M445.3 436.7h0.7M408.1 405.7h0.7M404.6 414.8h1.2M404.9 399.0h1.5M414.0 426.7h1.2M392.7 457.0h0.7M419.4 371.9h1.1M375.5 423.8h1.3M391.5 402.1h1.4M433.7 425.3h0.7M406.6 398.5h0.8M432.9 377.1h0.4M411.5 370.3h1.1M418.8 455.7h1.2M449.4 368.9h1.0M392.5 372.1h1.6M423.1 415.5h1.3M432.1 388.3h1.1M438.6 384.2h0.6M389.5 373.8h0.9M401.1 412.0h1.3M408.8 376.1h0.6M440.8 404.6h0.5M385.3 428.4h0.9M454.1 445.7h1.1M371.8 389.7h0.5M402.1 446.8h0.9M407.8 452.3h0.8M399.9 406.4h1.2M415.6 420.1h0.8M444.4 376.3h1.1M452.2 440.6h1.3M451.9 372.9h1.2M430.4 423.6h0.6M368.3 438.9h0.9M401.5 400.5h1.2M367.1 381.2h1.2M364.1 438.3h1.4M388.3 368.8h0.9M379.1 394.0h0.4M400.8 445.7h0.8M377.5 398.6h0.6M378.8 402.3h1.3M365.6 434.5h1.1" stroke="#8a8aa6" stroke-width="1.7" stroke-linecap="round" opacity="0.5" fill="none"/>
<path d="M426.6 437.4h1.5M429.6 408.3h0.8M432.5 433.7h1.7M422.5 410.1h1.3M407.1 374.5h1.4M368.2 435.5h1.6M407.2 382.0h1.7M422.7 379.7h1.5M449.3 401.2h1.1M448.5 384.1h0.9M389.5 405.5h0.7M435.8 411.5h1.3M397.4 397.8h0.9M442.3 429.1h0.7M390.9 437.1h0.7M376.7 441.7h1.1M403.0 375.9h1.5M362.0 422.4h0.8M382.3 391.0h0.8M404.7 429.6h0.6M441.5 378.2h0.9M373.5 368.7h1.0M390.5 423.1h1.1M452.8 377.6h1.1M405.2 437.3h1.2M379.8 379.3h1.5M391.6 450.3h0.5M420.4 391.9h1.4M400.2 415.3h0.6M419.1 441.3h1.5M441.4 451.0h1.7M439.1 442.4h1.3M429.2 403.6h1.4M435.4 456.5h0.6M454.2 431.1h0.9M442.4 379.0h1.2M435.4 408.1h0.8M393.0 392.4h0.5" stroke="#8a8aa6" stroke-width="2" stroke-linecap="round" opacity="0.5" fill="none"/>
<path d="M359.0 453.3h0.1M400.5 430.7h0.1M402.5 431.1h0.1M384.2 449.3h0.1M381.8 443.4h0.1M432.7 422.5h0.1M375.7 372.4h0.1M396.9 395.4h0.1M375.6 431.5h0.1M450.2 455.3h0.1M392.4 427.2h0.1M401.4 444.7h0.1M376.9 428.8h0.1M367.5 404.7h0.1M437.4 368.7h0.1M367.3 413.4h0.1M424.6 404.8h0.1M405.5 380.8h0.1M383.6 436.4h0.1M361.9 423.0h0.1M415.7 385.8h0.1M385.7 454.2h0.1M380.0 390.8h0.1M414.5 378.4h0.1M421.7 416.1h0.1M367.4 387.6h0.1M389.6 413.2h0.1M388.3 443.4h0.1M415.3 396.6h0.1M446.6 380.3h0.1M429.1 428.1h0.1M441.3 431.7h0.1M397.7 368.2h0.1M387.2 446.7h0.1M394.6 437.1h0.1M383.7 382.0h0.1M374.2 448.6h0.1M397.0 384.5h0.1M410.3 455.0h0.1M383.4 402.0h0.1M443.8 447.5h0.1M408.0 434.9h0.1M388.4 390.1h0.1M404.6 428.4h0.1M401.0 454.5h0.1M410.7 384.6h0.1M438.0 403.8h0.1M418.2 394.2h0.1M398.2 427.9h0.1M384.0 437.4h0.1M439.0 418.6h0.1M453.9 406.4h0.1M367.2 439.6h0.1M423.1 383.8h0.1M418.5 436.7h0.1M413.0 421.0h0.1M410.9 419.9h0.1M396.6 444.7h0.1M377.3 418.6h0.1M439.1 381.6h0.1M371.5 434.1h0.1M390.3 416.6h0.1M445.8 371.0h0.1M438.0 400.5h0.1M409.6 405.0h0.1M374.8 395.3h0.1M428.5 372.4h0.1M413.9 428.1h0.1M406.5 399.2h0.1M439.2 406.1h0.1M442.2 380.2h0.1M441.9 410.5h0.1M381.4 380.9h0.1M374.2 406.3h0.1M413.1 446.0h0.1M360.1 432.4h0.1M383.4 387.6h0.1M448.8 441.9h0.1M424.7 451.6h0.1M362.9 415.5h0.1M440.8 446.6h0.1M453.6 389.2h0.1M386.3 416.4h0.1M361.6 393.1h0.1M412.9 373.7h0.1M420.9 440.7h0.1M444.0 396.7h0.1M448.8 388.6h0.1M448.8 425.5h0.1M380.1 416.8h0.1M360.6 369.8h0.1M402.8 380.1h0.1M406.4 442.3h0.1M429.2 417.8h0.1M442.0 371.8h0.1M359.4 451.8h0.1M408.8 383.8h0.1M403.9 451.3h0.1M363.7 396.1h0.1M401.3 380.8h0.1M439.2 398.0h0.1M419.2 371.9h0.1M434.3 384.2h0.1M415.9 452.8h0.1M442.9 430.3h0.1M406.5 385.2h0.1M391.6 404.5h0.1M438.7 412.0h0.1M367.0 454.7h0.1M405.8 435.4h0.1M405.3 417.7h0.1M380.4 453.7h0.1M444.8 389.7h0.1M393.8 449.8h0.1M364.4 415.9h0.1M427.1 420.7h0.1M383.4 378.6h0.1M437.1 456.9h0.1M440.8 398.6h0.1M425.2 400.4h0.1M439.1 411.7h0.1M453.2 407.7h0.1M381.6 448.6h0.1M406.9 422.8h0.1M366.8 457.5h0.1M360.1 435.0h0.1M411.9 383.2h0.1M366.2 426.5h0.1M440.9 378.8h0.1M422.9 430.9h0.1M424.5 455.9h0.1M422.9 444.5h0.1M371.6 380.9h0.1M449.5 440.5h0.1M373.2 375.0h0.1M372.1 379.7h0.1M396.5 432.3h0.1M394.4 378.6h0.1M427.2 440.8h0.1M362.9 442.1h0.1M446.0 414.8h0.1M409.5 378.5h0.1M411.4 455.5h0.1M444.5 392.5h0.1M395.5 371.1h0.1M419.1 420.3h0.1M400.7 446.2h0.1M388.4 406.4h0.1M381.1 382.6h0.1M384.0 393.5h0.1M388.7 436.0h0.1M450.2 393.1h0.1M453.7 384.1h0.1M441.2 409.9h0.1M432.8 392.0h0.1M406.1 377.2h0.1M450.0 394.7h0.1M384.9 393.0h0.1M437.9 405.9h0.1M414.5 387.1h0.1M377.1 435.5h0.1M380.7 433.9h0.1M396.7 397.1h0.1M446.9 444.8h0.1M430.5 414.6h0.1M377.7 417.2h0.1M362.0 457.1h0.1M450.2 384.7h0.1M434.1 392.6h0.1M372.7 453.7h0.1M379.1 448.4h0.1M431.6 383.6h0.1M434.8 414.4h0.1M389.9 439.3h0.1M443.6 378.2h0.1M426.2 391.1h0.1" stroke="#a7a7c0" stroke-width="1.2" stroke-linecap="round" opacity="0.6" fill="none"/>
<path d="M428.5 406.7h0.1M402.9 402.5h0.1M362.2 396.5h0.1M425.1 410.0h0.1M409.4 372.0h0.1M448.5 416.4h0.1M430.9 442.5h0.1M398.0 456.1h0.1M422.6 456.1h0.1M390.7 412.6h0.1M412.1 410.0h0.1M376.9 442.1h0.1M450.5 429.9h0.1M397.2 383.1h0.1M445.6 390.2h0.1M452.3 454.0h0.1M432.7 427.3h0.1M376.1 387.8h0.1M386.4 396.0h0.1M421.1 428.5h0.1M397.5 401.8h0.1M419.0 379.9h0.1M423.6 379.2h0.1M373.2 413.7h0.1M417.1 373.8h0.1M383.2 391.1h0.1M414.6 409.7h0.1M387.9 379.6h0.1M395.6 408.8h0.1M429.0 457.1h0.1M425.2 372.2h0.1M369.8 425.7h0.1M386.8 429.0h0.1M401.2 446.7h0.1M407.7 433.7h0.1M438.5 450.2h0.1M436.7 447.1h0.1M401.6 406.5h0.1M404.2 395.7h0.1M382.1 418.1h0.1M416.6 386.8h0.1M418.6 385.9h0.1M391.2 405.3h0.1M396.3 448.2h0.1M380.9 399.7h0.1M452.9 446.4h0.1M393.3 456.4h0.1M419.4 401.2h0.1M437.7 442.3h0.1M450.2 432.8h0.1M370.5 402.6h0.1M427.2 440.0h0.1M399.0 387.7h0.1M397.2 440.4h0.1M392.7 411.4h0.1M389.9 430.8h0.1M426.1 450.9h0.1M403.1 413.6h0.1M455.0 394.6h0.1M432.4 434.2h0.1M398.5 453.6h0.1M412.5 454.7h0.1M454.7 433.1h0.1M359.5 386.8h0.1M369.1 451.4h0.1M438.2 393.2h0.1M454.5 369.1h0.1M394.4 407.6h0.1M374.6 405.2h0.1M445.9 448.6h0.1M430.2 389.9h0.1M377.0 375.0h0.1M392.6 427.4h0.1M454.8 444.5h0.1M412.5 398.0h0.1M415.0 394.4h0.1M365.2 450.0h0.1M426.5 431.0h0.1M393.1 416.5h0.1M362.4 409.6h0.1M434.1 428.6h0.1" stroke="#c9bd98" stroke-width="1.2" stroke-linecap="round" opacity="0.6" fill="none"/>
</g>
<g filter="url(#fc)">
</g><g filter="url(#fh)">
</g><g filter="url(#fc)">
<ellipse cx="405.5" cy="391.3" rx="3.51" ry="2.97" fill="#9a9ccc" opacity="0.3"/>
<ellipse cx="425.7" cy="384.2" rx="2.97" ry="3.24" fill="#9a9ccc" opacity="0.3"/>
<ellipse cx="371.2" cy="397.3" rx="2.43" ry="2.43" fill="#9a9ccc" opacity="0.3"/>
<ellipse cx="425.7" cy="414.5" rx="2.7" ry="2.7" fill="#9a9ccc" opacity="0.3"/>
<ellipse cx="428.7" cy="419.5" rx="2.43" ry="2.7" fill="#9a9ccc" opacity="0.3"/>
<ellipse cx="363.1" cy="453.9" rx="2.97" ry="2.7" fill="#9a9ccc" opacity="0.3"/>
<ellipse cx="405.52" cy="390.98" rx="1.85" ry="1.57" fill="#363873" opacity="0.49"/>
<ellipse cx="405.69" cy="390.85" rx="2.38" ry="2.01" fill="#363873" opacity="0.49"/>
<ellipse cx="405.21" cy="390.84" rx="2.09" ry="1.76" fill="#363873" opacity="0.49"/>
<ellipse cx="425.04" cy="384.29" rx="1.82" ry="1.99" fill="#4d4f90" opacity="0.46"/>
<ellipse cx="425.52" cy="383.59" rx="1.8" ry="1.97" fill="#4d4f90" opacity="0.46"/>
<ellipse cx="425.52" cy="383.52" rx="1.64" ry="1.79" fill="#4d4f90" opacity="0.46"/>
<ellipse cx="371.22" cy="397.79" rx="1.78" ry="1.78" fill="#4d4f90" opacity="0.46"/>
<ellipse cx="371.4" cy="397.24" rx="1.64" ry="1.64" fill="#4d4f90" opacity="0.46"/>
<ellipse cx="371.81" cy="397.36" rx="1.4" ry="1.4" fill="#4d4f90" opacity="0.46"/>
<ellipse cx="425.93" cy="414.73" rx="1.81" ry="1.81" fill="#4d4f90" opacity="0.46"/>
<ellipse cx="425.51" cy="413.85" rx="1.63" ry="1.63" fill="#4d4f90" opacity="0.46"/>
<ellipse cx="425.98" cy="414.68" rx="1.95" ry="1.95" fill="#4d4f90" opacity="0.46"/>
<ellipse cx="428.85" cy="419.63" rx="1.34" ry="1.49" fill="#4d4f90" opacity="0.46"/>
<ellipse cx="428.8" cy="419.48" rx="1.65" ry="1.84" fill="#4d4f90" opacity="0.46"/>
<ellipse cx="428.8" cy="419.45" rx="1.66" ry="1.84" fill="#4d4f90" opacity="0.46"/>
<ellipse cx="362.99" cy="453.65" rx="1.71" ry="1.56" fill="#363873" opacity="0.51"/>
<ellipse cx="362.5" cy="453.49" rx="1.61" ry="1.47" fill="#363873" opacity="0.51"/>
<ellipse cx="363.89" cy="454.63" rx="1.97" ry="1.79" fill="#363873" opacity="0.51"/>
</g>
</g>
<rect x="425.9" y="452.55" width="26.3" height="1.9" fill="#111"/>
<text transform="translate(343.4 421.2) rotate(-90)" font-size="9" text-anchor="middle" textLength="27.6" lengthAdjust="spacingAndGlyphs">Resting</text>
<text transform="translate(352.6 420.9) rotate(-90)" font-size="9" text-anchor="middle" textLength="20.4" lengthAdjust="spacingAndGlyphs">(ASA)</text>
<clipPath id="cp3"><rect x="359" y="463.6" width="96" height="88.4"/></clipPath>
<g clip-path="url(#cp3)">
<rect x="359" y="463.6" width="96" height="88.4" fill="#fafafc"/>
<g filter="url(#fb)">
<path d="M432.8 493.4h1.3M445.1 516.3h1.3M386.7 466.2h1.1M362.1 485.7h0.8M450.5 477.4h1.4M361.8 497.9h1.5M394.6 511.5h1.6M401.9 500.8h1.2M385.4 480.0h0.7M382.3 515.5h1.7M426.7 473.5h0.7M422.6 510.8h1.5M443.2 486.2h1.4M445.3 470.9h0.5M391.2 473.9h1.4M409.8 482.5h0.5M382.8 463.9h1.3M378.8 470.4h1.6M451.8 525.5h1.3M393.5 499.7h0.8M368.2 546.7h0.6M394.3 504.9h0.6M406.0 528.2h1.4M366.9 494.7h1.6M409.7 489.8h1.2M444.7 470.6h1.5M430.1 550.9h1.1M438.4 502.0h0.8M421.5 550.6h0.6M360.0 539.5h1.3M426.4 537.1h0.9M430.9 490.8h1.4M412.4 528.0h0.7M434.3 540.3h0.5M448.0 482.8h0.8M364.8 483.2h1.5M431.2 504.0h0.9M424.1 537.0h1.3M430.1 540.0h1.1M421.0 500.1h1.7M449.5 476.1h0.6M418.7 511.9h1.2M427.8 469.8h1.3M375.8 469.6h1.3M402.1 475.9h0.4M422.1 503.6h1.3M413.4 505.1h1.1M444.3 516.8h1.5M387.2 472.0h0.5M387.6 535.5h1.4M421.4 511.0h1.2M369.4 490.4h1.1M388.9 519.6h1.1M448.9 464.7h1.5M440.7 551.2h1.2M360.8 519.8h1.2M380.8 520.9h1.5M413.5 514.7h1.1M411.6 511.3h1.7M378.3 529.9h0.9M397.2 508.7h1.6M389.6 550.1h1.2M377.4 521.1h1.4M423.8 517.3h1.0M369.5 520.4h1.6M372.2 479.4h1.0M427.0 474.9h0.6M428.4 546.1h1.1M388.9 476.7h1.3M442.6 525.0h1.6M430.0 550.4h0.5M436.8 487.6h0.9M443.8 525.3h1.7M397.5 477.3h1.6M441.7 481.7h0.6M446.0 520.8h0.7M390.1 507.3h1.2" stroke="#34344c" stroke-width="1.4" stroke-linecap="round" opacity="0.8" fill="none"/>
<path d="M382.5 513.4h1.0M417.2 510.9h0.9M446.2 532.4h0.9M374.6 546.7h0.7M410.5 524.9h0.6M366.2 482.7h0.7M426.1 537.2h1.1M364.1 507.2h0.4M398.4 468.7h1.7M413.5 495.3h0.6M377.6 468.6h0.4M443.3 503.7h0.7M387.3 468.5h1.5M408.5 502.2h1.0M396.2 480.3h1.5M369.6 519.6h1.2M378.9 530.4h1.6M374.3 518.2h0.7M374.9 541.6h0.8M363.7 476.3h0.6M423.9 509.0h0.8M374.7 470.1h1.2M417.9 535.4h1.4M449.2 516.0h1.1M427.7 488.0h1.1M368.4 504.2h1.1M373.7 479.6h0.8M368.9 503.8h0.7M436.7 470.8h1.4M417.3 525.8h1.4M369.6 549.0h1.5M375.8 543.7h1.2M415.7 541.6h1.5M404.3 500.8h0.7M448.4 496.8h1.5M383.7 509.7h1.3M432.6 528.8h1.5M361.6 472.2h1.6M394.2 535.2h0.9M365.9 488.5h1.1M364.5 483.3h1.2M406.0 473.4h0.6M424.7 470.2h1.2M430.6 487.2h1.1M450.2 503.1h1.6M433.8 508.7h1.2M404.7 522.9h1.2M377.8 481.5h0.5M358.8 546.4h0.5M374.8 471.8h0.7M450.5 530.8h1.0M437.8 503.0h1.4M399.9 493.4h1.5M375.4 487.4h1.0M438.9 518.8h1.3M440.2 472.5h0.7M377.0 548.0h0.9M403.2 540.4h0.9M438.5 492.4h0.7M442.5 476.5h1.7M391.0 547.2h0.6M422.7 506.3h0.5M389.2 549.3h1.3M403.8 502.3h1.1M381.3 531.9h1.1M431.9 490.2h1.1M374.8 490.2h1.1M378.9 501.3h1.3M422.5 487.7h1.3M403.7 534.8h1.4M380.1 492.8h0.6M363.7 495.2h1.4M429.4 479.4h0.4M446.5 539.8h1.2M379.5 476.2h1.7M405.3 467.3h0.5M369.6 482.9h1.4M360.2 551.3h1.4M408.8 492.3h1.3M414.5 513.9h1.2M381.6 479.8h1.4M374.5 545.9h0.9M421.9 499.6h1.5M370.1 477.6h1.6M359.5 475.1h0.7M362.1 495.3h1.4M362.7 505.1h1.3M384.0 522.2h1.2M389.9 534.1h1.6M397.4 523.6h0.7M381.9 549.9h1.2" stroke="#34344c" stroke-width="1.7" stroke-linecap="round" opacity="0.8" fill="none"/>
<path d="M402.5 475.0h1.3M368.9 503.2h0.6M412.7 491.8h1.2M454.1 517.3h1.0M416.1 500.3h1.1M384.2 470.6h1.5M361.7 542.7h0.7M400.1 505.9h0.5M381.4 496.5h1.3M414.5 488.2h0.6M392.3 520.6h0.9M416.5 481.6h0.6M441.0 526.3h0.7M413.5 485.5h1.2M402.3 540.2h0.7M429.7 463.9h1.0M420.8 463.9h1.7M417.9 505.2h1.2M368.3 493.8h1.1M444.9 517.8h0.7M398.1 526.4h1.4M428.4 518.9h0.7M378.8 530.1h1.2M454.5 531.4h0.5M444.7 532.0h0.6M406.0 493.1h1.5M423.8 542.4h0.5M425.9 499.5h0.8M398.1 478.9h0.9M425.9 526.7h1.6M361.7 502.1h0.6M396.6 542.0h1.7M431.0 471.8h1.1M439.4 545.5h1.3M400.3 500.2h1.4M384.8 476.7h1.6M421.7 465.0h1.0M370.9 513.2h1.3M423.5 475.1h1.4M396.6 479.4h1.5M407.2 511.9h0.5M452.8 500.4h1.4M398.4 528.0h0.9M425.7 523.6h1.5M440.5 530.9h1.3M417.5 500.9h1.3M399.0 472.5h1.6M393.7 519.0h1.2M367.5 498.3h1.4M361.7 465.5h1.1M434.9 531.5h0.8M379.0 477.1h1.3M442.8 499.1h1.6M398.9 504.6h0.6M435.0 526.7h1.6M383.4 467.2h1.2M366.7 551.9h0.9M363.2 470.1h0.6M401.1 464.4h1.3M361.8 542.9h0.6M418.0 519.2h1.0M434.4 530.5h1.3M390.5 539.7h0.8M381.4 498.9h0.4M382.0 497.0h0.7M434.5 508.3h1.5M370.3 530.8h0.8M451.0 474.1h1.3M381.1 535.7h0.8M366.8 469.1h0.7M396.4 472.7h0.8M451.6 464.7h1.5M448.6 542.0h1.0M416.0 479.6h0.8M370.6 503.6h0.9M450.3 472.1h1.2M446.7 488.9h1.1M393.3 509.8h1.4M366.3 496.4h0.7M410.1 546.0h0.9M437.9 533.0h1.4M373.3 482.8h0.8M437.7 543.4h0.8M439.8 522.8h0.5M441.1 494.2h0.8M423.0 497.2h0.8M377.5 539.3h1.4M382.9 514.0h0.6M395.5 511.1h1.0M415.6 520.2h0.4M405.7 471.3h1.3M446.5 467.0h0.4M372.8 483.4h0.5M416.0 519.1h1.1M395.3 526.8h0.8M395.7 471.4h0.8" stroke="#34344c" stroke-width="2" stroke-linecap="round" opacity="0.8" fill="none"/>
<path d="M439.2 474.7h1.5M421.0 474.7h1.4M375.7 515.2h1.4M378.0 507.0h1.1M411.8 492.0h0.9M368.7 543.8h1.1M392.8 468.3h1.3M432.5 477.5h1.5M401.3 470.6h0.8M445.9 487.1h1.7M438.8 467.1h1.4M390.6 525.0h1.3M408.9 484.0h0.8M404.7 512.6h1.3M363.7 542.5h0.6M375.0 548.8h1.4M449.8 468.3h1.5M419.6 522.6h1.0M452.7 506.7h0.7M368.5 481.2h1.7M421.5 507.8h1.1M386.0 546.7h0.6M358.6 540.8h1.5M418.0 529.8h1.3M387.2 526.8h0.7M393.7 535.8h1.4M405.1 482.1h0.6M446.2 525.3h0.7M366.8 539.4h1.6M443.3 526.0h0.7M453.5 520.6h0.5M398.9 515.7h1.3M425.4 513.7h1.1M363.3 550.3h1.0M392.3 497.7h1.6M402.2 484.7h0.5M409.9 472.7h1.2M385.4 481.1h1.4M367.5 480.8h0.9M401.6 494.3h1.0M423.5 533.1h1.4M436.5 491.8h1.4M440.0 508.5h1.0M436.6 525.6h0.7M442.3 488.0h1.4M397.0 527.1h1.0M429.6 514.3h0.8M440.2 551.3h0.6M367.4 518.5h1.1M400.6 523.1h1.6M434.5 478.2h0.9M361.0 486.0h0.6M431.3 466.0h1.0M409.5 517.1h1.7M450.4 540.7h0.5M395.6 548.8h1.0M410.0 543.0h0.7M372.5 486.1h0.5M406.6 510.7h1.2" stroke="#5a5a72" stroke-width="1.4" stroke-linecap="round" opacity="0.6" fill="none"/>
<path d="M398.3 546.7h0.9M415.3 483.2h0.7M413.2 541.4h0.7M400.0 525.8h1.7M401.0 489.3h0.9M444.7 526.5h0.9M370.2 546.4h0.7M426.7 538.1h1.4M442.9 485.0h1.1M366.6 535.9h1.2M379.0 526.0h1.6M359.0 480.5h1.7M437.7 519.8h1.3M444.8 524.5h1.6M386.3 497.7h1.5M374.8 484.7h1.2M405.1 466.2h1.4M397.8 493.1h1.1M372.0 510.5h1.7M400.4 501.1h1.1M400.7 519.3h0.7M361.6 470.1h1.5M381.7 468.9h1.5M407.7 474.2h1.3M423.0 531.7h0.8M360.2 513.0h1.0M432.6 477.8h1.0M400.8 471.1h1.3M373.5 538.7h1.6M448.7 548.2h0.4M441.0 508.1h1.1M406.6 467.6h0.5M392.8 487.4h0.4M441.9 499.7h1.6M419.4 485.6h0.8M362.5 519.6h1.0M362.0 494.6h1.7M388.7 474.7h1.1M390.4 524.4h0.9M444.6 526.8h1.3M439.6 468.2h0.4M440.3 490.3h0.9M388.0 551.8h0.6M366.6 496.3h0.7M443.3 505.3h1.3M388.9 506.6h0.6M366.1 475.9h0.4M385.5 518.4h0.8M414.4 490.0h0.5" stroke="#5a5a72" stroke-width="1.7" stroke-linecap="round" opacity="0.6" fill="none"/>
<path d="M412.1 519.0h0.8M424.8 502.4h1.2M409.7 550.1h1.1M372.2 496.0h0.8M364.3 505.4h1.2M426.8 518.5h1.3M388.9 520.3h0.9M386.5 547.1h0.8M383.7 536.4h1.2M396.0 522.3h1.6M398.4 472.3h1.2M427.5 500.3h0.8M439.1 532.8h0.5M371.2 483.6h1.6M372.3 463.9h0.9M430.3 520.7h0.4M454.2 550.6h0.6M369.2 518.5h1.7M420.1 540.1h0.4M438.9 545.3h0.6M360.8 532.9h1.1M413.5 495.4h1.7M426.3 547.9h1.2M373.4 469.3h1.2M384.0 527.1h1.2M430.3 477.2h0.4M399.5 504.9h1.5M364.0 518.8h1.7M360.9 497.6h0.4M381.2 502.7h1.1M396.4 463.8h1.5M429.7 530.2h1.6M405.4 476.6h1.2M402.2 469.8h0.4M381.0 477.5h0.4M439.9 466.1h0.6M414.0 498.9h0.8M408.5 521.6h1.4M389.7 537.3h1.6M442.0 509.1h1.6M413.6 548.6h1.5M422.2 486.3h0.9M453.6 470.4h1.1M366.0 496.4h0.4M440.1 495.6h1.5M375.5 527.3h0.4M435.9 531.8h1.6M408.9 498.9h1.4M447.0 524.4h0.9M369.0 500.0h1.3M436.0 473.2h1.4M391.8 499.3h0.9M376.4 472.6h1.5M409.0 541.7h1.6M452.9 525.3h0.6M386.8 504.1h0.8M377.9 492.9h1.1M390.4 517.9h0.5M413.5 514.5h0.9M436.2 544.3h0.9M392.4 464.7h0.5M378.3 498.4h0.5" stroke="#5a5a72" stroke-width="2" stroke-linecap="round" opacity="0.6" fill="none"/>
<path d="M447.8 469.9h0.5M435.4 542.0h1.1M413.8 490.1h0.5M390.0 550.0h1.2M429.8 502.0h0.8M374.2 551.8h1.2M444.8 511.3h1.0M453.5 547.2h1.2M368.7 496.7h1.1M367.5 521.8h0.7M375.3 546.4h0.6M411.7 478.3h1.6M364.4 468.7h0.5M364.6 485.7h1.0M392.8 535.8h1.6M384.6 472.8h0.9M387.6 543.4h0.6M390.5 470.2h1.0M400.0 474.3h1.1M437.4 524.0h1.4M440.0 549.2h0.8M420.8 505.8h1.4M454.7 518.2h0.5M380.8 520.8h0.6M437.2 536.5h1.2M403.8 491.7h0.5M435.4 494.7h1.1M380.9 478.8h0.9M438.2 539.1h0.5M373.8 480.1h0.9M367.7 477.4h0.5M393.8 474.5h1.0M402.5 531.3h1.5M444.1 464.8h1.7M434.5 537.2h1.6M400.4 475.6h0.8M385.7 513.8h0.7M418.7 505.8h1.3M385.3 496.0h1.5" stroke="#8a8aa6" stroke-width="1.4" stroke-linecap="round" opacity="0.5" fill="none"/>
<path d="M422.3 523.1h0.9M408.2 514.6h1.4M371.2 472.6h0.8M388.0 492.4h1.5M436.1 490.3h1.1M390.9 520.3h1.2M401.9 542.6h1.4M438.2 550.8h1.6M436.8 514.1h0.5M442.2 478.9h0.9M406.8 540.3h0.8M413.4 478.9h1.6M441.7 477.5h1.3M414.1 525.3h1.3M412.4 539.7h1.6M383.6 529.4h1.4M444.1 545.1h1.6M395.7 468.9h0.9M360.4 475.7h1.1M386.1 500.5h0.6M406.5 504.1h1.6M398.3 465.9h1.3M388.7 518.2h1.1M383.7 493.1h0.6M369.6 474.6h1.4M420.5 477.7h1.4M445.2 504.5h0.8M438.3 497.5h1.0M382.5 505.1h1.4M372.3 485.1h0.5M425.7 545.4h1.4M413.7 467.3h1.5M449.6 499.5h0.8M427.2 515.5h1.1M360.8 464.0h1.7M376.5 536.1h1.3M447.9 526.8h1.4M386.6 497.0h1.1" stroke="#8a8aa6" stroke-width="1.7" stroke-linecap="round" opacity="0.5" fill="none"/>
<path d="M395.1 465.1h1.3M414.4 535.0h1.6M435.9 551.4h1.7M363.4 494.3h1.1M422.1 496.8h0.8M444.3 545.9h0.7M439.8 505.2h1.4M419.7 502.9h1.0M368.9 533.1h1.3M392.1 550.7h1.4M374.0 549.1h1.5M407.1 548.9h1.3M375.5 489.2h0.8M387.7 514.6h0.8M418.4 474.2h1.5M443.4 523.3h1.1M386.8 487.5h0.7M379.8 497.6h1.0M397.7 484.4h0.5M404.3 485.5h1.6M441.1 470.2h0.4M450.9 545.6h1.4M441.4 532.8h1.3M382.0 485.6h1.3M380.4 542.9h1.4M426.6 490.0h1.4M369.2 517.8h0.7M385.5 536.5h1.5M449.3 512.3h1.2M420.7 476.6h0.7M435.3 525.3h1.4M441.2 541.8h0.6M428.2 546.8h1.5M389.5 503.0h1.7M383.5 472.2h0.8M384.4 534.6h1.1M381.6 548.1h0.5M439.9 487.2h1.5M371.4 516.4h0.8M413.5 539.2h0.7M383.4 472.6h0.9M454.7 551.0h0.6M439.2 522.7h1.4M391.4 497.7h1.3M402.3 511.0h1.1M370.6 551.5h0.4M416.6 465.8h0.6M415.2 494.4h1.3M394.5 533.6h0.9" stroke="#8a8aa6" stroke-width="2" stroke-linecap="round" opacity="0.5" fill="none"/>
<path d="M436.7 481.8h0.1M379.0 511.3h0.1M396.2 551.1h0.1M402.7 506.8h0.1M412.3 520.4h0.1M420.0 479.3h0.1M439.5 507.8h0.1M374.7 487.3h0.1M372.0 538.9h0.1M425.0 495.2h0.1M393.4 466.0h0.1M361.0 480.2h0.1M449.5 507.2h0.1M401.6 481.6h0.1M439.8 486.9h0.1M411.3 551.6h0.1M422.7 496.9h0.1M428.4 466.0h0.1M433.4 545.8h0.1M433.3 531.6h0.1M399.2 524.0h0.1M360.2 482.6h0.1M407.8 483.6h0.1M393.0 538.5h0.1M366.6 513.2h0.1M391.8 540.9h0.1M407.0 529.5h0.1M453.7 479.7h0.1M424.9 534.5h0.1M425.4 546.5h0.1M452.0 469.1h0.1M430.4 486.9h0.1M409.9 467.2h0.1M408.3 474.8h0.1M427.6 520.6h0.1M433.2 495.4h0.1M414.9 536.2h0.1M423.8 543.0h0.1M428.0 479.2h0.1M396.1 541.1h0.1M369.9 527.3h0.1M403.9 489.6h0.1M455.0 477.7h0.1M363.7 518.3h0.1M397.9 546.7h0.1M427.9 471.7h0.1M420.6 495.5h0.1M375.7 482.4h0.1M394.6 498.9h0.1M402.3 519.7h0.1M454.8 477.4h0.1M359.5 506.1h0.1M402.7 526.8h0.1M375.9 501.8h0.1M388.1 545.5h0.1M405.5 490.1h0.1M382.0 546.0h0.1M406.1 495.3h0.1M406.5 544.9h0.1M364.8 533.9h0.1M414.5 523.3h0.1M400.3 544.8h0.1M381.4 544.3h0.1M380.7 529.4h0.1M430.5 494.1h0.1M398.5 485.3h0.1M362.4 527.6h0.1M360.1 525.6h0.1M361.1 468.3h0.1M415.8 478.1h0.1M453.6 537.2h0.1M407.1 547.2h0.1M420.6 504.9h0.1M444.4 516.1h0.1M360.6 469.3h0.1M396.6 490.8h0.1M444.8 530.2h0.1M380.0 549.8h0.1M399.1 518.8h0.1M379.5 546.3h0.1M423.9 551.2h0.1M426.7 489.1h0.1M405.3 510.4h0.1M402.6 505.6h0.1M396.4 463.9h0.1M454.2 513.3h0.1M395.0 494.4h0.1M417.2 492.2h0.1M364.7 516.6h0.1M416.2 520.6h0.1M399.0 505.2h0.1M372.4 549.3h0.1M391.1 549.2h0.1M433.8 466.5h0.1M383.5 548.2h0.1M389.2 537.3h0.1M399.5 530.8h0.1M422.6 530.5h0.1M436.7 541.3h0.1M415.9 537.2h0.1M361.8 480.9h0.1M383.0 517.2h0.1M411.6 513.2h0.1M446.9 480.8h0.1M426.4 519.2h0.1M407.0 514.1h0.1M384.5 532.1h0.1M382.9 549.4h0.1M402.2 483.4h0.1M444.0 548.2h0.1M414.2 547.7h0.1M414.8 531.5h0.1M433.8 544.8h0.1M436.7 509.5h0.1M425.1 471.9h0.1M432.6 468.8h0.1M380.1 543.7h0.1M428.9 549.3h0.1M388.4 549.3h0.1M361.6 517.3h0.1M437.8 467.4h0.1M403.6 499.8h0.1M374.8 527.6h0.1M395.5 519.0h0.1M445.4 498.2h0.1M454.4 512.1h0.1M424.8 520.5h0.1M368.6 549.2h0.1M361.2 483.0h0.1M416.2 483.0h0.1M369.2 541.8h0.1M423.8 530.8h0.1M389.9 508.8h0.1M417.7 485.4h0.1M363.0 530.6h0.1M438.8 546.5h0.1M409.4 492.8h0.1M394.3 518.5h0.1M412.2 491.8h0.1M420.9 527.8h0.1M402.1 532.2h0.1M389.7 500.7h0.1M419.4 519.1h0.1M440.4 473.8h0.1M360.9 519.4h0.1M437.3 494.9h0.1M379.6 551.6h0.1M376.2 506.1h0.1M371.5 482.7h0.1M377.7 524.2h0.1M444.9 528.1h0.1M447.6 481.4h0.1M399.7 517.5h0.1M395.8 544.7h0.1M396.8 506.8h0.1M435.2 499.9h0.1M449.1 496.0h0.1M373.0 549.7h0.1M405.7 475.3h0.1M421.6 488.0h0.1M438.8 536.7h0.1M411.2 465.4h0.1M376.4 484.1h0.1M418.9 529.4h0.1M402.9 546.4h0.1M399.4 511.1h0.1M378.7 481.1h0.1M422.8 487.4h0.1M443.8 508.4h0.1M414.8 470.8h0.1M392.4 540.2h0.1M413.5 501.8h0.1M364.5 534.7h0.1M374.1 522.0h0.1M401.7 468.3h0.1M390.8 527.4h0.1M361.5 514.1h0.1M420.7 521.4h0.1M452.4 472.5h0.1M440.6 510.6h0.1M442.8 512.5h0.1M359.6 509.9h0.1M447.9 480.2h0.1M359.6 521.8h0.1M371.9 526.2h0.1M389.4 508.5h0.1M384.6 551.6h0.1" stroke="#a7a7c0" stroke-width="1.2" stroke-linecap="round" opacity="0.6" fill="none"/>
<path d="M359.1 534.2h0.1M427.7 515.7h0.1M369.5 548.5h0.1M372.8 516.3h0.1M422.1 470.4h0.1M370.6 523.4h0.1M387.2 516.8h0.1M392.5 480.6h0.1M447.1 527.1h0.1M382.6 533.9h0.1M399.3 505.4h0.1M389.5 485.4h0.1M437.9 534.1h0.1M415.9 521.4h0.1M448.4 509.0h0.1M452.8 514.2h0.1M363.2 517.8h0.1M378.9 530.6h0.1M440.6 491.9h0.1M376.4 506.0h0.1M378.2 496.4h0.1M426.4 539.9h0.1M361.5 519.5h0.1M396.4 512.0h0.1M392.4 482.3h0.1M364.2 528.7h0.1M432.4 526.0h0.1M400.1 491.3h0.1M407.4 521.4h0.1M445.5 464.2h0.1M448.7 466.3h0.1M397.5 548.3h0.1M420.3 523.5h0.1M372.4 549.6h0.1M429.5 484.5h0.1M443.8 541.3h0.1M443.1 504.4h0.1M446.7 471.6h0.1M392.6 510.1h0.1M380.7 479.2h0.1M444.1 505.7h0.1M415.6 482.5h0.1M442.8 495.2h0.1M437.2 476.1h0.1M372.4 500.6h0.1M385.0 525.7h0.1M375.6 488.7h0.1M381.8 540.6h0.1M391.0 544.9h0.1M398.5 510.2h0.1M453.1 508.9h0.1M378.9 516.9h0.1M411.6 470.5h0.1M412.6 498.1h0.1M373.1 499.8h0.1M401.0 502.0h0.1M448.5 496.8h0.1M422.8 486.2h0.1M411.3 542.2h0.1M418.9 494.7h0.1M382.9 539.0h0.1M452.8 530.9h0.1M369.4 489.3h0.1M386.6 497.2h0.1M427.6 524.5h0.1M430.4 479.7h0.1M385.1 519.7h0.1" stroke="#c9bd98" stroke-width="1.2" stroke-linecap="round" opacity="0.6" fill="none"/>
</g>
<g filter="url(#fc)">
</g><g filter="url(#fh)">
<ellipse cx="369" cy="500" rx="6" ry="8" transform="rotate(0 369 500)" fill="#8d90c6" opacity="0.42"/>
<ellipse cx="420" cy="510" rx="12" ry="9" transform="rotate(30 420 510)" fill="#8d90c6" opacity="0.42"/>
<ellipse cx="425" cy="475" rx="10" ry="5" transform="rotate(-15 425 475)" fill="#8d90c6" opacity="0.42"/>
<ellipse cx="411" cy="528" rx="7" ry="8" transform="rotate(0 411 528)" fill="#8d90c6" opacity="0.42"/>
<ellipse cx="387" cy="514" rx="7" ry="5" transform="rotate(0 387 514)" fill="#8d90c6" opacity="0.42"/>
<ellipse cx="440" cy="500" rx="5" ry="9" transform="rotate(0 440 500)" fill="#8d90c6" opacity="0.42"/>
</g><g filter="url(#fc)">
<path d="M415 505Q428.7 513.5 440 525" stroke="#9597cb" stroke-width="4.4" stroke-linecap="round" opacity="0.4" fill="none"/>
<path d="M415 505Q428.7 513.5 440 525" stroke="#45478e" stroke-width="1.32" stroke-linecap="round" opacity="0.6" fill="none"/>
<path d="M365 490Q373.4 496.6 380 505" stroke="#9597cb" stroke-width="4" stroke-linecap="round" opacity="0.4" fill="none"/>
<path d="M365 490Q373.4 496.6 380 505" stroke="#45478e" stroke-width="1.2" stroke-linecap="round" opacity="0.6" fill="none"/>
<path d="M420 470Q430.6 473.8 440 480" stroke="#9597cb" stroke-width="4" stroke-linecap="round" opacity="0.4" fill="none"/>
<path d="M420 470Q430.6 473.8 440 480" stroke="#45478e" stroke-width="1.2" stroke-linecap="round" opacity="0.6" fill="none"/>
<path d="M405 520Q412.7 529.2 418 540" stroke="#9597cb" stroke-width="4.8" stroke-linecap="round" opacity="0.4" fill="none"/>
<path d="M405 520Q412.7 529.2 418 540" stroke="#45478e" stroke-width="1.44" stroke-linecap="round" opacity="0.6" fill="none"/>
<path d="M440 490Q446.2 499.4 450 510" stroke="#9597cb" stroke-width="3.2" stroke-linecap="round" opacity="0.4" fill="none"/>
<path d="M440 490Q446.2 499.4 450 510" stroke="#45478e" stroke-width="0.96" stroke-linecap="round" opacity="0.6" fill="none"/>
<path d="M365 485Q369.4 492.1 372 500" stroke="#9597cb" stroke-width="3.2" stroke-linecap="round" opacity="0.4" fill="none"/>
<path d="M365 485Q369.4 492.1 372 500" stroke="#45478e" stroke-width="0.96" stroke-linecap="round" opacity="0.6" fill="none"/>
<ellipse cx="369.1" cy="500.4" rx="4.05" ry="5.4" fill="#9a9ccc" opacity="0.3"/>
<ellipse cx="387.3" cy="514.5" rx="4.86" ry="3.51" fill="#9a9ccc" opacity="0.3"/>
<ellipse cx="423.7" cy="508.5" rx="4.32" ry="3.51" fill="#9a9ccc" opacity="0.3"/>
<ellipse cx="397.4" cy="480.2" rx="3.24" ry="2.97" fill="#9a9ccc" opacity="0.3"/>
<ellipse cx="399.4" cy="471.1" rx="2.97" ry="2.43" fill="#9a9ccc" opacity="0.3"/>
<ellipse cx="425.7" cy="475.1" rx="4.86" ry="2.43" fill="#9a9ccc" opacity="0.3"/>
<ellipse cx="368.1" cy="516.5" rx="2.97" ry="3.51" fill="#9a9ccc" opacity="0.3"/>
<ellipse cx="370.1" cy="538.8" rx="3.24" ry="3.78" fill="#9a9ccc" opacity="0.3"/>
<ellipse cx="411.5" cy="528.7" rx="4.05" ry="4.73" fill="#9a9ccc" opacity="0.3"/>
<ellipse cx="437.8" cy="524.6" rx="2.97" ry="3.51" fill="#9a9ccc" opacity="0.3"/>
<ellipse cx="434.8" cy="496.3" rx="2.43" ry="4.59" fill="#9a9ccc" opacity="0.3"/>
<ellipse cx="452" cy="500.4" rx="2.16" ry="3.51" fill="#9a9ccc" opacity="0.3"/>
<ellipse cx="446" cy="532" rx="2.43" ry="2.43" fill="#9a9ccc" opacity="0.3"/>
<ellipse cx="369.2" cy="499.23" rx="2.57" ry="3.43" fill="#363873" opacity="0.54"/>
<ellipse cx="367.99" cy="499.78" rx="2.65" ry="3.54" fill="#363873" opacity="0.54"/>
<ellipse cx="369.96" cy="501.38" rx="2.58" ry="3.45" fill="#363873" opacity="0.54"/>
<ellipse cx="386.26" cy="514.14" rx="3.5" ry="2.53" fill="#363873" opacity="0.54"/>
<ellipse cx="387.56" cy="513.53" rx="3.54" ry="2.56" fill="#363873" opacity="0.54"/>
<ellipse cx="386.53" cy="514.57" rx="2.67" ry="1.93" fill="#363873" opacity="0.54"/>
<ellipse cx="424.66" cy="507.46" rx="2.97" ry="2.41" fill="#363873" opacity="0.54"/>
<ellipse cx="424.87" cy="508.99" rx="2.91" ry="2.36" fill="#363873" opacity="0.54"/>
<ellipse cx="424.27" cy="508.69" rx="2.71" ry="2.2" fill="#363873" opacity="0.54"/>
<ellipse cx="397.9" cy="480.18" rx="2.37" ry="2.17" fill="#363873" opacity="0.54"/>
<ellipse cx="398.06" cy="480.13" rx="2.31" ry="2.12" fill="#363873" opacity="0.54"/>
<ellipse cx="396.57" cy="479.65" rx="1.95" ry="1.79" fill="#363873" opacity="0.54"/>
<ellipse cx="399.2" cy="470.59" rx="1.87" ry="1.53" fill="#363873" opacity="0.49"/>
<ellipse cx="399.87" cy="471.07" rx="1.45" ry="1.18" fill="#363873" opacity="0.49"/>
<ellipse cx="399.91" cy="471.49" rx="2.04" ry="1.67" fill="#363873" opacity="0.49"/>
<ellipse cx="424.65" cy="475.77" rx="3.1" ry="1.55" fill="#4d4f90" opacity="0.46"/>
<ellipse cx="425.74" cy="475.52" rx="3.33" ry="1.66" fill="#4d4f90" opacity="0.46"/>
<ellipse cx="424.8" cy="474.81" rx="3.53" ry="1.76" fill="#4d4f90" opacity="0.46"/>
<ellipse cx="368.59" cy="516.88" rx="2.08" ry="2.45" fill="#363873" opacity="0.54"/>
<ellipse cx="367.6" cy="517.12" rx="2.18" ry="2.57" fill="#363873" opacity="0.54"/>
<ellipse cx="367.94" cy="516.03" rx="1.61" ry="1.9" fill="#363873" opacity="0.54"/>
<ellipse cx="370.13" cy="538.95" rx="1.82" ry="2.12" fill="#363873" opacity="0.51"/>
<ellipse cx="369.97" cy="538.11" rx="1.92" ry="2.24" fill="#363873" opacity="0.51"/>
<ellipse cx="370.18" cy="537.88" rx="2.35" ry="2.74" fill="#363873" opacity="0.51"/>
<ellipse cx="411.1" cy="529.36" rx="2.27" ry="2.64" fill="#4d4f90" opacity="0.41"/>
<ellipse cx="411.91" cy="528.29" rx="2.5" ry="2.92" fill="#4d4f90" opacity="0.41"/>
<ellipse cx="411.33" cy="530.02" rx="2.23" ry="2.6" fill="#4d4f90" opacity="0.41"/>
<ellipse cx="437.88" cy="524.38" rx="1.96" ry="2.31" fill="#363873" opacity="0.49"/>
<ellipse cx="437.88" cy="523.92" rx="1.66" ry="1.96" fill="#363873" opacity="0.49"/>
<ellipse cx="437.3" cy="524.75" rx="1.94" ry="2.29" fill="#363873" opacity="0.49"/>
<ellipse cx="435.03" cy="497.65" rx="1.31" ry="2.48" fill="#4d4f90" opacity="0.46"/>
<ellipse cx="434.33" cy="496.17" rx="1.24" ry="2.33" fill="#4d4f90" opacity="0.46"/>
<ellipse cx="435.09" cy="495.12" rx="1.64" ry="3.09" fill="#4d4f90" opacity="0.46"/>
<ellipse cx="451.65" cy="499.63" rx="1.53" ry="2.48" fill="#363873" opacity="0.49"/>
<ellipse cx="451.6" cy="501.35" rx="1.09" ry="1.77" fill="#363873" opacity="0.49"/>
<ellipse cx="451.57" cy="499.86" rx="1.42" ry="2.3" fill="#363873" opacity="0.49"/>
<ellipse cx="445.42" cy="532.34" rx="1.27" ry="1.27" fill="#4d4f90" opacity="0.46"/>
<ellipse cx="445.91" cy="531.58" rx="1.76" ry="1.76" fill="#4d4f90" opacity="0.46"/>
<ellipse cx="445.91" cy="531.88" rx="1.25" ry="1.25" fill="#4d4f90" opacity="0.46"/>
</g>
</g>
<rect x="425.9" y="548.35" width="26.3" height="1.9" fill="#111"/>
<text transform="translate(353.4 504) rotate(-90)" font-size="9" text-anchor="middle" textLength="36.8" lengthAdjust="spacingAndGlyphs">TRAP-APR</text>
<clipPath id="cp4"><rect x="360" y="559" width="96" height="89.3"/></clipPath>
<g clip-path="url(#cp4)">
<rect x="360" y="559" width="96" height="89.3" fill="#fafafc"/>
<g filter="url(#fb)">
<path d="M438.5 638.8h1.0M407.1 614.4h1.6M378.2 608.4h0.8M427.5 598.1h1.6M379.1 570.3h1.0M362.5 622.6h1.5M391.3 562.6h1.0M418.4 632.6h1.4M397.5 587.1h1.5M432.9 624.5h1.2M444.3 627.7h0.8M364.3 570.4h0.7M361.3 565.4h1.5M453.2 634.5h1.4M423.9 613.8h0.9M413.5 587.6h0.8M442.3 578.3h1.0M446.6 609.5h0.9M361.0 603.2h0.8M424.1 571.8h1.0M364.2 610.0h1.5M441.3 585.6h1.5M451.7 585.2h1.5M392.9 587.2h1.3M434.4 641.6h1.6M426.6 573.7h1.4M360.5 569.3h1.3M366.4 569.7h0.6M453.3 589.6h1.3M436.5 619.6h1.2M401.7 599.9h0.7M440.8 620.0h1.3M439.4 597.2h0.5M398.2 582.1h0.6M409.8 568.9h0.7M396.8 598.9h1.2M387.3 597.1h0.7M435.0 577.9h1.0M368.7 643.6h1.1M427.9 642.0h1.2M364.6 572.0h0.5M442.7 637.8h1.3M384.4 626.6h1.0M371.7 606.8h0.5M444.9 642.0h1.0M377.2 638.2h0.6M425.2 578.4h0.8M406.3 603.5h1.3M420.3 595.3h1.2M361.3 619.6h0.4M424.0 619.2h1.7M424.8 644.6h0.8M401.8 603.5h1.6M385.4 588.7h0.7M415.8 559.4h1.0M419.2 634.1h1.1M366.9 587.2h1.0M436.6 572.2h1.4M361.1 613.4h1.5M395.8 559.1h0.8M378.0 615.6h0.7M430.1 638.9h1.6M421.1 615.4h1.0M424.4 574.3h0.7M404.2 588.4h1.6M391.6 620.0h1.5M364.4 571.8h1.0M412.9 625.2h0.6M404.0 576.8h0.7M402.7 633.9h0.6M429.7 585.7h1.3M451.9 562.9h1.4M382.5 597.0h0.4M421.4 626.9h1.3M375.4 572.5h0.5M363.1 625.7h1.0M440.6 644.2h0.5M422.6 648.1h0.6M440.9 601.5h0.9M417.5 611.9h0.6M440.7 632.3h0.7M397.0 601.2h1.4M370.5 624.7h0.6M373.9 562.5h1.4M440.8 593.7h1.2M429.9 611.2h1.6M408.8 629.2h1.6M360.9 615.1h0.4M381.3 560.6h1.1M440.8 648.3h0.5M409.4 634.9h1.1" stroke="#34344c" stroke-width="1.4" stroke-linecap="round" opacity="0.8" fill="none"/>
<path d="M380.0 588.9h0.7M428.4 578.9h0.5M411.2 624.6h0.8M400.7 578.1h1.1M398.7 584.5h0.5M404.2 601.8h0.5M437.7 619.1h0.9M417.8 601.9h0.6M376.3 593.6h1.3M430.3 608.9h0.7M384.3 625.1h1.1M377.2 622.9h1.7M368.2 615.3h1.0M388.0 603.7h0.6M382.7 634.0h1.3M395.7 591.7h1.6M448.1 559.7h0.5M374.3 575.9h0.5M406.3 608.8h0.6M449.8 582.5h0.9M427.8 633.0h1.5M368.9 568.1h0.7M375.9 591.5h0.7M362.5 609.0h0.8M427.9 642.1h1.6M364.0 642.1h1.2M450.6 621.8h0.7M434.7 586.2h0.9M455.1 624.0h0.6M451.0 582.5h1.4M413.6 620.8h1.4M392.9 596.6h1.4M414.8 581.4h1.4M427.7 607.8h0.9M366.8 581.0h0.9M404.8 574.2h0.7M421.3 622.2h0.8M445.4 560.4h1.1M388.1 572.8h0.7M441.0 625.1h1.0M410.5 570.3h1.1M394.8 565.7h1.3M419.5 611.2h1.0M383.9 613.2h1.7M386.5 562.3h0.7M381.2 561.5h1.1M406.8 562.6h0.5M379.6 644.0h1.0M365.6 616.2h1.4M396.2 589.8h1.0M372.9 614.4h1.5M427.2 625.4h0.6M391.1 631.1h0.5M371.3 591.8h1.3M432.6 597.0h1.2M397.2 607.9h0.9M377.7 644.8h1.2M397.3 587.4h0.5M452.1 639.7h1.2M371.5 592.8h1.6M369.8 610.3h1.3M416.6 573.4h1.1M393.6 644.3h0.8M365.3 593.6h1.3M438.2 620.5h1.5M449.6 626.8h0.8M436.4 606.3h1.5M439.1 586.4h0.9M398.5 567.7h1.1M429.0 590.3h1.7M400.0 623.4h0.5M435.0 639.1h0.7M453.0 614.8h1.0M411.0 642.4h0.4M361.8 631.2h0.8M430.0 610.1h0.8M366.2 603.0h0.4M407.0 638.1h1.6M433.0 626.6h0.7M415.1 600.5h1.1M429.2 585.1h1.1M423.9 603.2h1.5M382.8 598.0h0.7M426.9 585.4h1.4M399.8 597.0h0.5" stroke="#34344c" stroke-width="1.7" stroke-linecap="round" opacity="0.8" fill="none"/>
<path d="M386.6 605.6h1.4M427.3 577.4h0.6M408.2 636.2h0.9M411.2 643.3h1.5M383.9 567.2h1.6M362.7 630.0h0.4M394.1 599.4h0.8M450.4 642.7h0.8M399.1 602.2h0.9M406.1 606.3h1.0M408.9 560.2h0.5M383.3 594.7h0.5M444.6 633.2h1.4M367.9 616.1h0.7M445.6 595.2h1.1M398.0 572.5h1.5M408.4 587.9h1.4M387.7 624.7h0.4M383.0 630.1h0.6M407.5 596.7h0.4M393.2 560.8h0.5M388.4 602.6h1.1M426.4 618.3h1.4M389.9 643.8h0.8M382.2 602.5h1.5M427.9 562.9h1.6M371.5 635.7h1.1M370.8 586.3h0.5M392.1 586.7h1.7M447.4 643.0h1.2M386.3 643.3h1.3M429.4 620.6h1.0M375.2 623.4h0.8M395.6 622.8h1.2M447.4 580.8h1.6M450.3 615.6h0.8M436.4 574.5h1.7M442.3 604.4h0.6M409.5 593.8h0.8M381.0 598.6h0.9M392.5 600.0h0.7M396.0 594.0h1.0M389.7 632.4h1.2M390.4 573.3h0.5M376.1 622.8h1.7M432.2 585.7h1.3M450.8 625.1h1.4M451.1 629.5h0.8M392.3 616.9h0.8M448.0 628.1h0.7M447.7 560.0h1.4M414.4 581.7h0.7M368.1 583.3h0.6M364.4 630.1h1.6M411.3 629.1h1.4M388.5 613.1h0.9M361.2 610.5h1.0M417.3 635.6h1.1M365.4 595.0h1.5M400.8 641.6h0.9M437.6 592.3h0.9M406.6 613.3h0.5M372.6 595.6h1.1M443.2 595.8h0.5M445.9 626.4h1.5M390.1 566.0h0.6M422.0 609.1h0.4M362.3 625.5h0.9M453.3 615.5h1.2M432.4 605.4h1.3M405.6 636.6h0.7M400.4 572.1h1.3M431.2 589.5h1.0M413.3 639.0h0.7M408.8 627.9h0.6M435.6 620.2h0.7M419.7 614.0h0.8" stroke="#34344c" stroke-width="2" stroke-linecap="round" opacity="0.8" fill="none"/>
<path d="M451.8 559.5h0.6M397.8 577.1h0.5M427.9 587.3h0.9M443.5 565.4h1.0M405.1 642.8h0.9M381.2 593.4h0.6M439.8 611.1h1.4M365.2 584.8h0.5M361.4 599.3h1.2M386.7 559.3h0.8M376.2 604.6h1.3M396.7 577.4h0.9M447.9 625.1h1.6M404.2 596.4h0.7M404.4 642.8h1.4M410.8 584.2h0.5M369.2 643.5h1.2M380.9 576.0h1.3M422.3 621.7h1.3M391.1 648.2h0.9M436.4 578.0h1.3M382.1 566.8h0.7M399.6 586.0h0.4M442.1 634.0h0.6M397.1 634.7h1.3M437.0 630.5h1.1M420.7 572.8h1.6M380.4 592.2h0.8M447.9 563.3h0.4M362.1 560.0h0.8M430.9 576.3h1.1M414.8 585.4h1.1M400.3 575.8h1.5M452.3 588.6h0.8M367.1 562.9h0.4M367.4 566.9h1.5M398.8 602.9h1.4M421.4 638.3h1.6M449.7 592.5h1.4M435.7 604.7h0.8M384.3 631.9h1.0M401.5 561.2h1.2M439.8 602.1h1.3M433.8 608.4h1.2M425.0 643.2h1.2M372.6 600.7h1.2M384.0 648.1h1.0M433.7 594.0h0.7M429.1 574.3h0.8M426.0 619.4h0.9M413.8 561.4h1.5" stroke="#5a5a72" stroke-width="1.4" stroke-linecap="round" opacity="0.6" fill="none"/>
<path d="M440.5 570.4h1.4M450.8 575.3h0.6M436.1 574.1h0.6M408.2 581.6h0.4M419.1 621.7h0.6M381.4 581.4h0.9M441.9 611.4h1.0M437.9 647.3h0.4M436.6 573.9h0.7M452.0 634.8h1.3M421.5 646.1h1.2M422.6 609.2h1.5M366.3 559.4h0.9M377.8 569.1h0.5M445.4 622.8h0.9M368.9 585.1h0.6M397.7 612.9h1.0M366.9 578.4h1.5M399.0 559.4h1.0M393.0 561.6h1.4M374.3 627.3h0.9M370.3 614.7h0.9M406.5 585.8h1.5M409.6 598.5h1.1M438.8 609.0h1.0M439.6 642.0h1.1M442.1 598.3h1.4M447.9 604.9h1.4M414.7 643.3h0.4M432.7 645.5h0.5M452.4 602.0h0.8M383.0 587.4h0.6M417.3 570.6h0.7M446.0 644.0h0.9M418.7 638.3h1.1M359.7 567.5h1.3M414.7 566.8h1.0M427.2 644.8h0.5M379.5 633.5h1.5M425.9 595.1h1.1M418.7 607.5h1.5M444.7 602.0h1.0M420.8 624.5h0.8M407.8 628.2h1.1M426.2 628.8h0.8M363.2 596.0h0.7M439.2 618.5h1.6M431.1 636.4h1.5M420.7 594.7h0.9M418.6 580.1h0.6M365.0 609.5h1.4M447.7 570.2h0.8M389.8 587.9h1.1M397.4 599.4h0.8M384.1 598.3h1.0M374.7 616.5h1.3M455.3 601.9h0.7M418.0 625.8h0.4" stroke="#5a5a72" stroke-width="1.7" stroke-linecap="round" opacity="0.6" fill="none"/>
<path d="M434.3 634.6h1.0M442.8 643.8h1.6M376.0 576.6h0.9M390.5 588.4h0.9M417.1 634.9h0.8M436.9 574.6h1.3M445.8 647.4h1.4M450.0 632.8h1.0M427.1 641.2h0.9M394.0 614.9h1.3M394.8 636.4h0.5M438.7 619.2h1.6M432.3 566.2h1.3M450.7 574.1h0.7M411.6 629.2h1.0M367.0 627.7h0.6M412.2 581.6h1.0M373.0 561.5h1.3M392.5 590.4h1.2M441.7 564.5h0.5M369.6 640.0h1.2M367.0 580.5h1.1M438.1 603.4h1.4M363.7 622.6h0.9M386.7 583.7h1.6M451.9 614.2h0.6M443.7 598.2h1.2M361.4 581.5h0.6M453.8 646.9h1.5M400.5 559.0h0.6M385.7 594.1h0.5M427.8 639.1h1.4M384.7 613.0h1.3M421.4 605.5h0.8M428.8 582.4h0.9M404.9 591.5h1.2M454.5 588.9h1.4M425.3 612.1h1.2M420.7 648.2h0.5M406.0 588.2h1.0M436.3 593.5h1.0M435.4 599.5h0.5M421.9 619.3h0.9M441.0 631.4h0.7M413.2 563.4h1.1M403.8 623.4h1.1M428.6 620.3h1.1M439.3 571.5h1.4M384.4 592.5h0.4M374.8 584.2h0.7M411.1 634.0h1.4M372.1 586.3h1.4M386.8 583.6h0.8M418.2 584.6h0.8" stroke="#5a5a72" stroke-width="2" stroke-linecap="round" opacity="0.6" fill="none"/>
<path d="M381.0 616.4h0.4M430.7 560.3h1.3M364.0 646.4h0.7M453.6 643.5h1.3M398.4 624.4h0.8M397.3 599.6h0.8M442.8 615.3h0.5M373.3 634.3h0.6M447.9 563.0h1.5M454.0 606.4h0.5M444.3 599.5h1.2M420.5 600.3h1.4M443.4 637.7h0.6M396.1 610.6h1.6M436.6 590.0h0.5M394.8 607.5h0.7M429.3 629.1h0.5M433.2 602.7h1.6M423.2 644.0h1.3M399.0 615.1h0.8M394.9 580.8h1.2M386.3 593.6h0.6M373.9 609.9h0.7M431.5 570.7h1.4M450.5 564.9h1.5M440.4 628.6h0.9M452.6 565.5h0.5M433.9 605.9h1.1M375.3 622.0h0.5M420.5 625.2h1.4M418.2 584.4h1.3M429.0 643.9h1.5M374.7 562.9h1.1M448.2 585.4h0.9M409.2 641.2h0.6M367.0 591.8h0.8M440.8 567.0h0.9M445.6 566.3h0.5M363.1 598.1h1.4M379.6 582.2h1.0M373.8 601.8h0.7M439.5 593.6h1.6M427.5 634.5h0.5M360.1 644.7h1.4" stroke="#8a8aa6" stroke-width="1.4" stroke-linecap="round" opacity="0.5" fill="none"/>
<path d="M453.9 567.6h1.6M388.5 640.7h0.9M376.0 588.4h0.7M381.9 575.6h1.4M381.5 610.8h0.6M382.4 607.0h1.3M446.8 648.0h0.7M376.9 600.1h0.4M384.8 640.6h1.4M450.9 610.7h0.7M375.9 583.7h1.4M371.2 611.1h1.2M419.8 592.1h1.4M374.4 566.9h1.1M401.0 647.7h1.4M366.2 584.0h1.3M398.0 596.3h1.6M379.2 646.1h1.0M385.5 576.2h1.0M404.7 646.5h1.3M440.9 578.4h1.0M359.7 576.3h1.5M360.0 577.9h0.8M391.4 610.2h1.3M388.8 639.3h1.6M409.2 624.1h0.5M387.8 586.6h1.7M422.3 581.3h1.6M403.3 646.1h0.5M449.8 565.0h1.4M414.2 570.7h1.4M420.7 592.8h0.5M363.0 633.7h0.4M395.9 637.0h0.9M377.2 592.5h0.8M412.9 560.8h1.6M417.8 585.7h1.4M405.0 642.9h0.7M439.8 618.4h0.6M375.3 586.7h0.8M424.9 632.0h0.4M444.2 647.8h1.5M372.0 615.9h0.7M414.8 595.7h0.7M423.0 618.4h1.4M362.4 639.8h0.9M373.5 614.9h0.5M410.6 628.4h1.0M449.9 602.9h0.7M455.4 624.0h0.4M370.3 604.3h1.2M360.1 578.0h1.2M448.7 645.8h0.6" stroke="#8a8aa6" stroke-width="1.7" stroke-linecap="round" opacity="0.5" fill="none"/>
<path d="M419.4 591.0h0.6M411.7 616.7h1.5M434.4 643.3h1.6M374.7 568.7h0.7M400.4 595.1h0.5M399.3 637.4h0.9M384.6 636.2h1.7M375.4 640.0h1.4M426.5 638.3h0.6M363.0 614.0h0.6M400.1 642.8h0.8M405.6 597.1h1.4M416.9 648.3h0.9M427.5 560.7h0.6M422.4 563.2h1.0M394.8 580.2h1.5M380.3 597.5h0.7M410.2 640.7h1.6M364.6 635.4h0.8M420.8 629.3h1.2M436.7 598.8h0.9M440.6 626.9h0.7M412.8 634.3h0.6M415.3 634.9h1.6M442.2 571.7h0.5M386.3 608.7h0.5M428.4 647.5h1.5M393.1 630.3h0.5M451.7 582.6h1.4M421.6 628.2h0.7M372.6 616.5h1.1M390.6 587.7h0.7M453.1 566.5h1.1M433.9 577.4h0.5M426.6 624.8h1.0M451.6 590.7h0.4M407.2 571.9h0.7M430.2 633.8h0.4M366.2 595.6h0.9M379.1 645.6h1.4M435.1 609.0h1.6M426.7 582.2h1.6M434.3 609.9h1.2M380.9 601.6h1.6M405.0 647.2h0.6M364.4 576.0h0.7M386.4 630.7h1.3M424.0 572.6h0.8M412.3 643.7h1.7M363.6 567.6h1.5M369.6 571.7h0.6M432.7 591.9h0.7" stroke="#8a8aa6" stroke-width="2" stroke-linecap="round" opacity="0.5" fill="none"/>
<path d="M417.7 620.4h0.1M448.7 591.5h0.1M370.3 605.6h0.1M392.7 596.0h0.1M374.8 646.0h0.1M361.4 617.2h0.1M431.3 588.5h0.1M402.7 564.9h0.1M373.8 601.2h0.1M392.2 597.9h0.1M361.8 605.3h0.1M452.2 584.0h0.1M378.1 615.6h0.1M452.0 614.9h0.1M369.6 572.4h0.1M367.8 643.0h0.1M428.3 586.6h0.1M421.5 613.4h0.1M424.0 589.5h0.1M450.8 626.8h0.1M378.3 572.4h0.1M385.7 645.1h0.1M369.0 614.5h0.1M440.1 608.2h0.1M432.6 582.2h0.1M439.8 643.5h0.1M432.0 619.2h0.1M443.2 566.3h0.1M431.7 605.9h0.1M452.2 570.6h0.1M384.3 616.9h0.1M442.6 566.7h0.1M378.4 602.8h0.1M408.0 623.0h0.1M430.2 621.7h0.1M419.0 617.9h0.1M446.7 626.3h0.1M438.6 591.1h0.1M435.0 581.3h0.1M425.7 643.8h0.1M360.7 563.0h0.1M403.6 600.9h0.1M380.4 590.5h0.1M417.2 623.9h0.1M433.2 614.7h0.1M452.4 564.6h0.1M449.0 624.1h0.1M438.2 562.5h0.1M440.0 637.1h0.1M415.7 585.2h0.1M434.5 638.7h0.1M391.6 605.8h0.1M365.7 565.5h0.1M384.4 610.9h0.1M378.1 599.8h0.1M424.7 637.7h0.1M437.5 614.0h0.1M447.5 561.6h0.1M436.9 644.8h0.1M431.4 630.7h0.1M433.8 622.5h0.1M455.5 599.0h0.1M448.8 622.3h0.1M445.6 582.2h0.1M441.9 567.0h0.1M420.2 581.1h0.1M404.4 640.5h0.1M364.0 614.7h0.1M399.3 614.8h0.1M430.2 635.1h0.1M384.7 616.7h0.1M406.5 625.5h0.1M441.6 615.9h0.1M445.2 620.8h0.1M376.6 648.0h0.1M429.8 577.2h0.1M390.8 590.9h0.1M408.6 646.1h0.1M441.0 562.2h0.1M445.0 579.1h0.1M419.2 636.0h0.1M366.5 576.9h0.1M374.7 579.9h0.1M387.5 633.7h0.1M386.4 640.9h0.1M407.5 613.2h0.1M436.5 579.5h0.1M379.6 574.8h0.1M434.7 574.8h0.1M404.6 616.8h0.1M383.5 626.4h0.1M427.5 603.4h0.1M375.3 599.0h0.1M448.4 587.9h0.1M431.1 594.1h0.1M447.4 626.1h0.1M361.6 638.0h0.1M451.1 607.3h0.1M364.6 639.7h0.1M409.3 611.1h0.1M376.8 622.2h0.1M433.0 566.2h0.1M439.6 585.9h0.1M455.7 635.1h0.1M450.6 622.8h0.1M393.3 612.2h0.1M362.3 616.0h0.1M411.1 581.0h0.1M416.8 572.6h0.1M404.3 634.9h0.1M452.7 641.7h0.1M451.3 569.4h0.1M406.7 644.9h0.1M367.6 567.5h0.1M379.2 644.6h0.1M383.0 627.1h0.1M410.5 573.0h0.1M397.9 609.8h0.1M384.6 609.2h0.1M382.6 567.0h0.1M441.4 574.5h0.1M366.5 628.2h0.1M405.9 642.1h0.1M380.5 605.8h0.1M389.4 566.9h0.1M406.2 572.6h0.1M399.6 632.7h0.1M445.5 591.2h0.1M365.2 607.2h0.1M403.5 620.1h0.1M455.3 590.7h0.1M399.0 633.4h0.1M384.0 636.3h0.1M377.1 563.3h0.1M371.5 595.9h0.1M404.0 588.0h0.1M414.3 563.9h0.1M411.4 621.6h0.1M382.9 626.6h0.1M452.9 607.1h0.1M386.9 563.8h0.1M431.7 619.9h0.1M365.9 613.8h0.1M386.9 641.9h0.1M416.7 578.9h0.1M409.0 593.8h0.1M387.1 636.7h0.1M417.2 642.7h0.1M420.8 643.1h0.1M409.4 631.4h0.1M404.9 623.9h0.1M389.0 626.6h0.1M442.3 624.1h0.1M365.6 602.6h0.1M455.8 595.1h0.1M439.6 623.6h0.1M437.7 585.3h0.1M432.7 586.6h0.1M384.9 595.8h0.1M376.8 645.8h0.1M418.0 609.5h0.1M391.6 623.9h0.1M432.9 637.9h0.1M400.2 579.0h0.1M437.6 643.7h0.1M386.8 616.6h0.1M388.2 610.9h0.1M388.6 639.5h0.1M410.5 631.0h0.1M400.1 599.9h0.1M422.9 629.6h0.1M367.3 601.0h0.1M441.8 638.9h0.1M363.9 638.3h0.1M395.8 646.9h0.1M448.6 606.2h0.1M436.0 588.9h0.1M443.5 586.9h0.1M403.9 601.2h0.1M379.9 563.7h0.1M418.5 586.9h0.1M378.2 627.8h0.1M402.0 616.2h0.1M455.5 604.5h0.1" stroke="#a7a7c0" stroke-width="1.2" stroke-linecap="round" opacity="0.6" fill="none"/>
<path d="M429.5 590.7h0.1M426.1 618.6h0.1M420.5 620.2h0.1M422.3 587.7h0.1M403.7 567.2h0.1M411.9 598.8h0.1M395.1 647.8h0.1M431.1 564.3h0.1M419.2 600.7h0.1M442.2 567.6h0.1M418.7 576.9h0.1M388.0 617.7h0.1M450.3 596.8h0.1M448.1 575.3h0.1M411.3 604.5h0.1M378.1 625.4h0.1M389.3 595.3h0.1M433.8 627.9h0.1M424.2 647.1h0.1M427.2 622.8h0.1M446.1 588.5h0.1M381.3 570.9h0.1M398.2 583.6h0.1M377.4 593.3h0.1M394.6 630.4h0.1M434.5 639.3h0.1M418.6 615.7h0.1M364.1 579.4h0.1M436.7 581.2h0.1M412.3 575.4h0.1M398.5 644.4h0.1M361.4 614.6h0.1M435.4 638.9h0.1M377.4 567.3h0.1M401.3 588.8h0.1M387.0 589.6h0.1M393.9 593.7h0.1M437.1 574.6h0.1M439.6 623.1h0.1M396.3 567.5h0.1M370.5 622.8h0.1M373.2 588.6h0.1M455.2 638.3h0.1M414.9 622.8h0.1M415.0 640.3h0.1M422.3 627.1h0.1M428.5 563.7h0.1M375.7 614.1h0.1M445.4 564.5h0.1M452.5 619.8h0.1M433.7 565.6h0.1M436.3 611.1h0.1M453.3 642.9h0.1M373.3 584.9h0.1M367.7 641.9h0.1M363.9 587.2h0.1M451.1 585.0h0.1M383.7 648.3h0.1M453.4 572.1h0.1M387.7 595.1h0.1M418.5 596.4h0.1M417.3 579.3h0.1M363.6 569.5h0.1M376.4 577.8h0.1M443.5 598.7h0.1M413.9 568.7h0.1M447.0 635.4h0.1M431.1 638.7h0.1M425.0 587.4h0.1M370.7 577.0h0.1M396.9 601.8h0.1M414.5 571.0h0.1M406.1 618.1h0.1" stroke="#c9bd98" stroke-width="1.2" stroke-linecap="round" opacity="0.6" fill="none"/>
</g>
<g filter="url(#fc)">
</g><g filter="url(#fh)">
<ellipse cx="386" cy="572" rx="6" ry="5" transform="rotate(0 386 572)" fill="#8d90c6" opacity="0.42"/>
<ellipse cx="437" cy="583" rx="5" ry="5" transform="rotate(0 437 583)" fill="#8d90c6" opacity="0.42"/>
<ellipse cx="410" cy="595" rx="5" ry="4" transform="rotate(0 410 595)" fill="#8d90c6" opacity="0.42"/>
<ellipse cx="378" cy="625" rx="6" ry="4" transform="rotate(0 378 625)" fill="#8d90c6" opacity="0.42"/>
</g><g filter="url(#fc)">
<path d="M375 620Q383.2 625.1 390 632" stroke="#9597cb" stroke-width="3.6" stroke-linecap="round" opacity="0.4" fill="none"/>
<path d="M375 620Q383.2 625.1 390 632" stroke="#45478e" stroke-width="1.08" stroke-linecap="round" opacity="0.6" fill="none"/>
<path d="M405 588Q410.7 593.4 415 600" stroke="#9597cb" stroke-width="3.2" stroke-linecap="round" opacity="0.4" fill="none"/>
<path d="M405 588Q410.7 593.4 415 600" stroke="#45478e" stroke-width="0.96" stroke-linecap="round" opacity="0.6" fill="none"/>
<path d="M380 578Q384.5 573.4 390 570" stroke="#9597cb" stroke-width="3.2" stroke-linecap="round" opacity="0.4" fill="none"/>
<path d="M380 578Q384.5 573.4 390 570" stroke="#45478e" stroke-width="0.96" stroke-linecap="round" opacity="0.6" fill="none"/>
<ellipse cx="385.3" cy="563.1" rx="4.05" ry="2.16" fill="#9a9ccc" opacity="0.3"/>
<ellipse cx="401.4" cy="565.1" rx="2.7" ry="2.43" fill="#9a9ccc" opacity="0.3"/>
<ellipse cx="386.3" cy="580.2" rx="2.43" ry="3.78" fill="#9a9ccc" opacity="0.3"/>
<ellipse cx="382.3" cy="585.3" rx="2.43" ry="2.43" fill="#9a9ccc" opacity="0.3"/>
<ellipse cx="437.8" cy="583.3" rx="3.78" ry="4.32" fill="#9a9ccc" opacity="0.3"/>
<ellipse cx="413.6" cy="592.4" rx="2.7" ry="2.7" fill="#9a9ccc" opacity="0.3"/>
<ellipse cx="407.5" cy="597.4" rx="3.24" ry="2.7" fill="#9a9ccc" opacity="0.3"/>
<ellipse cx="362.1" cy="608.5" rx="2.16" ry="3.24" fill="#9a9ccc" opacity="0.3"/>
<ellipse cx="372.2" cy="624.7" rx="2.7" ry="2.97" fill="#9a9ccc" opacity="0.3"/>
<ellipse cx="381.3" cy="624.7" rx="2.43" ry="2.43" fill="#9a9ccc" opacity="0.3"/>
<ellipse cx="410.5" cy="626.7" rx="3.24" ry="3.24" fill="#9a9ccc" opacity="0.3"/>
<ellipse cx="387.3" cy="634.8" rx="2.7" ry="2.7" fill="#9a9ccc" opacity="0.3"/>
<ellipse cx="408.5" cy="573.2" rx="2.43" ry="2.16" fill="#9a9ccc" opacity="0.3"/>
<ellipse cx="372" cy="633" rx="2.43" ry="3.24" fill="#9a9ccc" opacity="0.3"/>
<ellipse cx="384.78" cy="562.53" rx="2.62" ry="1.4" fill="#363873" opacity="0.49"/>
<ellipse cx="384.28" cy="562.78" rx="2.12" ry="1.13" fill="#363873" opacity="0.49"/>
<ellipse cx="385.75" cy="563.09" rx="2.28" ry="1.22" fill="#363873" opacity="0.49"/>
<ellipse cx="401.35" cy="565.01" rx="1.88" ry="1.7" fill="#4d4f90" opacity="0.46"/>
<ellipse cx="401.28" cy="564.96" rx="1.52" ry="1.37" fill="#4d4f90" opacity="0.46"/>
<ellipse cx="400.69" cy="565.51" rx="1.74" ry="1.56" fill="#4d4f90" opacity="0.46"/>
<ellipse cx="386.99" cy="579.39" rx="1.46" ry="2.27" fill="#363873" opacity="0.51"/>
<ellipse cx="386.4" cy="580.38" rx="1.48" ry="2.3" fill="#363873" opacity="0.51"/>
<ellipse cx="386.68" cy="580.99" rx="1.43" ry="2.22" fill="#363873" opacity="0.51"/>
<ellipse cx="382.48" cy="585.35" rx="1.41" ry="1.41" fill="#363873" opacity="0.49"/>
<ellipse cx="382.24" cy="585.75" rx="1.61" ry="1.61" fill="#363873" opacity="0.49"/>
<ellipse cx="382.59" cy="585.97" rx="1.37" ry="1.37" fill="#363873" opacity="0.49"/>
<ellipse cx="437.45" cy="582.4" rx="1.85" ry="2.12" fill="#363873" opacity="0.51"/>
<ellipse cx="437.96" cy="582.76" rx="2.51" ry="2.87" fill="#363873" opacity="0.51"/>
<ellipse cx="438.01" cy="584.01" rx="2.15" ry="2.46" fill="#363873" opacity="0.51"/>
<ellipse cx="414.04" cy="592.31" rx="1.57" ry="1.57" fill="#363873" opacity="0.49"/>
<ellipse cx="414.14" cy="591.62" rx="1.96" ry="1.96" fill="#363873" opacity="0.49"/>
<ellipse cx="413.03" cy="591.82" rx="1.41" ry="1.41" fill="#363873" opacity="0.49"/>
<ellipse cx="408.01" cy="597.76" rx="1.68" ry="1.4" fill="#363873" opacity="0.51"/>
<ellipse cx="408.23" cy="596.9" rx="2.13" ry="1.78" fill="#363873" opacity="0.51"/>
<ellipse cx="407.23" cy="596.99" rx="2.2" ry="1.83" fill="#363873" opacity="0.51"/>
<ellipse cx="361.87" cy="608.48" rx="1.08" ry="1.63" fill="#363873" opacity="0.49"/>
<ellipse cx="361.47" cy="608.81" rx="1.54" ry="2.31" fill="#363873" opacity="0.49"/>
<ellipse cx="361.72" cy="607.88" rx="1.4" ry="2.1" fill="#363873" opacity="0.49"/>
<ellipse cx="372.75" cy="623.96" rx="1.33" ry="1.46" fill="#363873" opacity="0.49"/>
<ellipse cx="372.63" cy="624.73" rx="1.64" ry="1.81" fill="#363873" opacity="0.49"/>
<ellipse cx="372.22" cy="624.63" rx="1.42" ry="1.57" fill="#363873" opacity="0.49"/>
<ellipse cx="381.12" cy="624.69" rx="1.47" ry="1.47" fill="#363873" opacity="0.49"/>
<ellipse cx="381.52" cy="624.95" rx="1.67" ry="1.67" fill="#363873" opacity="0.49"/>
<ellipse cx="381.81" cy="624.76" rx="1.78" ry="1.78" fill="#363873" opacity="0.49"/>
<ellipse cx="411.36" cy="626.95" rx="2.16" ry="2.16" fill="#363873" opacity="0.51"/>
<ellipse cx="410.01" cy="626" rx="1.93" ry="1.93" fill="#363873" opacity="0.51"/>
<ellipse cx="410.18" cy="627.27" rx="1.73" ry="1.73" fill="#363873" opacity="0.51"/>
<ellipse cx="387.9" cy="634.18" rx="1.9" ry="1.9" fill="#363873" opacity="0.49"/>
<ellipse cx="387.2" cy="634.92" rx="1.83" ry="1.83" fill="#363873" opacity="0.49"/>
<ellipse cx="386.69" cy="635.08" rx="1.63" ry="1.63" fill="#363873" opacity="0.49"/>
<ellipse cx="408.17" cy="573.01" rx="1.22" ry="1.08" fill="#4d4f90" opacity="0.46"/>
<ellipse cx="408.18" cy="573.12" rx="1.29" ry="1.15" fill="#4d4f90" opacity="0.46"/>
<ellipse cx="408.69" cy="573.4" rx="1.67" ry="1.48" fill="#4d4f90" opacity="0.46"/>
<ellipse cx="371.81" cy="632.79" rx="1.41" ry="1.88" fill="#363873" opacity="0.49"/>
<ellipse cx="372.52" cy="632.96" rx="1.51" ry="2.02" fill="#363873" opacity="0.49"/>
<ellipse cx="372.23" cy="633.66" rx="1.77" ry="2.37" fill="#363873" opacity="0.49"/>
</g>
</g>
<rect x="425.9" y="643.45" width="26.3" height="1.9" fill="#111"/>
<text transform="translate(343.4 593) rotate(-90)" font-size="9" text-anchor="middle" textLength="36.8" lengthAdjust="spacingAndGlyphs">TRAP-APR</text>
<text transform="translate(353.4 593) rotate(-90)" font-size="9" text-anchor="middle" textLength="20.4" lengthAdjust="spacingAndGlyphs">(ASA)</text>
<clipPath id="cp5"><rect x="360" y="654" width="96" height="89.3"/></clipPath>
<g clip-path="url(#cp5)">
<rect x="360" y="654" width="96" height="89.3" fill="#fafafc"/>
<g filter="url(#fb)">
<path d="M431.4 657.4h1.5M408.1 657.9h0.7M397.5 688.9h0.7M436.3 709.1h0.8M359.6 716.4h1.5M361.0 680.6h0.5M362.1 732.1h1.5M374.4 726.9h1.1M405.5 709.9h0.7M394.8 692.2h1.5M393.9 691.5h1.5M373.9 712.1h1.2M374.8 727.6h1.2M379.5 691.2h1.5M394.1 659.0h1.5M415.7 671.6h0.9M377.3 729.5h0.8M415.0 740.7h1.3M444.8 698.3h0.4M410.4 724.6h1.2M441.7 719.6h0.5M425.8 689.8h0.4M406.5 695.5h1.6M412.4 664.9h0.5M367.4 658.0h0.9M394.7 700.6h0.7M425.3 715.0h0.8M445.9 709.0h0.9M427.6 715.5h1.6M368.4 656.0h1.4M364.3 716.4h0.6M375.5 694.7h1.2M435.4 688.0h1.3M404.4 728.2h1.6M445.4 671.1h0.7M415.4 671.1h1.5M426.7 721.6h0.6M422.6 662.3h1.5M388.3 742.6h1.7M364.2 724.2h0.6M430.1 690.2h1.0M421.9 729.0h1.1M379.0 660.7h0.6M376.7 720.0h0.9M446.6 680.6h1.0M378.8 711.9h0.6M381.2 690.8h0.9M441.8 670.4h0.9M367.6 678.3h0.7M361.8 696.9h1.4M439.9 657.9h1.1M432.9 677.9h1.4M398.1 716.1h1.7M437.5 722.1h0.5M368.7 711.3h0.7M454.1 716.4h0.5M403.7 672.3h1.1M452.5 734.0h1.4M435.0 727.1h0.4M362.1 658.7h1.4M439.0 664.6h1.6M418.4 727.7h1.4M424.9 682.0h1.3M391.9 656.4h1.3M381.5 709.4h1.3M372.7 743.1h0.8M434.7 716.1h0.7M454.5 731.2h0.6M449.1 724.1h0.9M446.3 692.4h0.5M439.5 706.7h0.8M423.9 738.2h0.9M406.1 691.9h1.5M393.9 703.4h1.0M387.4 659.3h0.8M370.8 692.1h1.5M424.4 698.8h1.3M403.0 664.5h0.6M380.4 674.7h1.5M448.8 659.7h1.0M368.1 665.7h1.7M446.3 706.8h1.3M365.7 687.5h0.6" stroke="#34344c" stroke-width="1.4" stroke-linecap="round" opacity="0.8" fill="none"/>
<path d="M402.1 682.2h0.6M377.8 716.0h0.5M438.1 702.8h0.6M392.3 715.2h1.1M375.3 687.8h0.7M388.1 723.2h1.4M385.2 664.0h1.5M426.6 716.3h1.2M435.1 694.7h1.3M387.7 703.3h0.7M439.4 681.1h1.6M435.5 702.3h1.0M423.4 732.0h0.5M379.3 735.2h0.7M381.0 735.4h1.6M444.0 700.6h1.3M436.7 713.7h0.4M444.6 698.0h1.1M400.3 732.7h0.9M442.8 669.4h1.0M428.9 670.5h0.9M429.3 677.7h1.5M405.5 657.3h1.1M416.9 706.3h0.6M367.0 723.4h1.4M382.7 728.8h0.4M442.6 718.1h1.6M376.1 727.0h1.2M453.4 670.5h1.5M375.4 708.5h0.9M441.4 666.4h0.8M428.6 735.7h1.6M382.6 678.9h1.7M449.6 720.7h1.3M409.0 664.5h0.4M412.0 682.2h0.7M371.0 717.1h0.4M448.9 707.3h1.6M419.8 711.1h0.4M407.9 678.7h0.5M437.0 708.9h1.0M437.1 671.1h0.5M430.9 742.5h0.4M377.8 738.1h0.4M361.6 696.6h0.5M420.8 728.5h1.1M446.7 724.9h0.8M412.3 663.0h0.8M414.3 708.8h0.4M383.9 721.6h0.8M443.4 678.7h0.4M450.6 700.0h0.5M429.1 734.6h1.0M449.4 736.7h1.4M416.8 668.1h0.5M385.5 727.9h0.8M454.3 678.0h0.4M393.6 676.9h1.5M437.5 726.2h1.3M378.9 694.1h0.4M440.1 655.1h1.7M406.1 665.7h0.9M366.2 732.4h1.2M362.9 736.3h0.6M382.7 735.7h0.5M378.5 721.6h0.7M433.4 694.1h1.0M420.9 717.5h0.9M399.9 695.9h0.5M410.4 658.7h1.3M429.1 662.8h1.0M408.6 662.2h0.4" stroke="#34344c" stroke-width="1.7" stroke-linecap="round" opacity="0.8" fill="none"/>
<path d="M368.3 704.6h0.9M452.1 695.6h0.7M402.7 674.1h1.4M361.8 687.1h0.6M371.3 731.3h1.1M399.8 696.3h1.3M377.2 722.6h1.7M414.9 676.4h1.7M390.9 704.8h0.4M375.9 683.5h1.5M367.3 701.5h0.6M436.6 725.8h1.4M403.9 699.2h0.5M435.8 663.9h1.1M366.0 733.2h1.0M441.1 654.1h1.0M400.2 728.4h1.1M403.3 741.0h1.0M383.0 686.6h0.9M410.9 699.1h0.4M369.1 690.8h1.5M447.0 655.6h1.6M445.3 727.9h0.5M402.5 736.5h1.0M439.5 695.9h1.3M364.7 677.0h0.5M384.2 678.3h1.4M434.0 662.5h0.9M451.8 658.0h1.0M383.8 655.6h0.6M423.8 661.8h0.5M382.1 667.3h1.6M372.7 720.1h1.3M414.7 676.4h0.9M360.4 710.5h1.6M387.4 681.7h0.5M411.6 683.2h1.6M454.5 685.1h1.5M446.0 666.8h1.4M412.2 710.1h1.2M393.6 674.2h1.6M438.9 691.2h0.5M438.2 699.2h0.4M427.1 721.6h1.5M361.3 674.5h1.2M429.9 711.4h1.2M428.0 675.0h1.7M431.1 702.4h1.1M411.9 666.6h0.5M411.8 663.6h0.9M455.1 690.2h0.6M378.8 658.7h1.5M369.9 669.0h0.6M430.3 681.0h1.7M393.3 667.8h0.5M395.8 741.4h1.3M401.6 710.1h1.4M418.7 730.6h1.7M417.5 682.8h1.4M395.0 674.4h0.9M391.9 699.7h1.7M366.3 662.2h1.0M413.3 688.8h0.6M433.2 723.3h1.2M387.7 662.1h1.5M376.5 655.4h0.9M412.5 669.1h0.9M411.1 691.4h1.1M411.1 658.5h0.6M431.4 674.9h0.7M376.4 680.8h1.3M373.9 728.9h0.4M372.9 694.7h1.3M374.0 697.2h0.9M442.4 682.4h0.7M451.5 732.4h0.5M414.1 710.7h1.2M389.9 689.1h0.7M417.5 736.2h1.3M376.2 724.5h0.5M451.5 656.5h1.1M388.5 729.7h0.4M364.9 726.2h1.0M426.0 732.3h1.4M435.2 684.1h1.3M371.6 654.6h1.1M402.1 719.1h0.8M450.9 717.5h1.6M380.5 692.2h1.6M414.4 672.8h1.5M371.8 660.4h1.3M367.8 719.5h0.5M371.9 726.6h0.9M453.0 722.8h0.8M412.6 700.2h0.7M399.9 718.4h1.4" stroke="#34344c" stroke-width="2" stroke-linecap="round" opacity="0.8" fill="none"/>
<path d="M369.7 714.1h0.5M368.9 741.9h1.1M373.6 741.8h1.6M436.3 739.4h1.1M421.4 696.3h1.1M435.5 683.1h1.4M427.0 685.8h0.8M436.4 727.9h1.4M428.3 655.1h1.6M372.7 740.4h1.6M411.9 701.3h1.1M439.9 678.0h1.4M410.9 681.4h1.5M454.2 731.8h1.0M410.9 674.5h1.6M433.4 708.6h0.9M449.5 736.7h1.6M364.1 713.8h1.6M389.8 718.9h1.1M399.2 702.7h1.7M404.4 708.3h1.1M433.3 717.3h1.2M399.0 669.9h1.7M446.6 659.2h0.8M384.6 704.5h0.8M408.1 684.0h1.4M377.7 679.6h1.6M405.7 723.6h1.5M403.2 694.3h1.2M364.3 707.3h0.7M382.6 708.6h1.1M396.0 671.6h0.6M453.5 655.7h1.1M441.1 696.5h1.0M447.7 717.5h1.5M443.6 691.6h0.7M429.8 679.8h0.7M452.4 659.6h0.4M373.2 659.6h1.0M435.3 697.1h1.5M381.3 690.8h1.6M375.6 677.9h0.5M360.4 694.7h1.3M406.4 700.2h0.5M370.7 670.8h1.7M367.7 718.6h1.1M360.1 699.2h0.7M391.7 719.5h1.4M381.0 666.4h1.1M411.5 703.3h1.4M416.2 705.9h0.7M405.5 670.0h1.1M418.6 722.7h1.2M390.1 737.0h1.4M360.7 663.6h1.6M387.8 672.7h1.2M438.5 678.5h0.8M437.3 727.2h1.0M395.2 727.2h0.8M433.1 679.9h1.4" stroke="#5a5a72" stroke-width="1.4" stroke-linecap="round" opacity="0.6" fill="none"/>
<path d="M420.7 707.7h0.6M404.1 661.2h1.4M442.8 716.0h1.3M370.3 672.8h0.5M415.7 686.2h0.6M383.4 664.3h1.6M407.2 739.3h1.3M393.5 741.7h1.6M399.6 704.8h1.6M417.7 713.0h0.5M423.3 716.4h0.7M444.9 729.0h0.7M412.2 741.0h0.5M380.2 676.8h1.0M386.5 743.0h0.9M381.9 713.5h1.1M455.1 668.5h0.9M385.3 667.6h0.5M412.2 722.4h0.6M412.0 743.1h1.7M409.2 680.8h1.4M432.7 716.3h0.5M392.1 699.6h1.6M405.7 724.7h0.6M454.4 678.0h1.3M422.3 726.7h0.9M414.1 662.3h1.3M433.1 738.5h1.2M435.1 708.3h0.8M415.0 715.0h0.4M397.8 710.7h1.3M372.0 735.0h0.9M404.9 668.4h1.7M379.1 681.6h0.4M396.2 656.7h0.4M374.9 708.7h0.9M428.3 671.1h1.2M432.2 656.9h1.6M428.2 687.2h1.1M386.5 665.0h0.7M372.6 702.4h0.6M450.5 668.4h1.3M440.1 707.1h0.8M384.1 666.3h0.9M395.3 719.0h1.1M447.0 690.0h1.4M369.2 730.6h1.1M437.8 710.9h0.8M413.2 720.3h0.7M382.1 711.4h0.9M426.1 706.7h1.4M441.8 691.5h0.8M425.8 659.9h1.0M452.6 677.6h1.1M444.2 724.9h1.5" stroke="#5a5a72" stroke-width="1.7" stroke-linecap="round" opacity="0.6" fill="none"/>
<path d="M415.3 733.7h0.8M388.2 718.9h0.5M359.5 702.9h1.6M426.9 712.9h0.9M413.1 681.2h0.5M451.5 725.5h1.3M416.0 726.8h0.9M372.7 741.6h1.1M372.5 668.3h1.7M371.6 706.2h1.2M416.0 708.0h0.7M415.8 669.2h1.2M411.8 696.8h1.5M410.7 680.0h1.4M375.7 722.0h0.8M437.1 661.7h0.6M444.1 677.5h1.4M361.9 702.4h0.6M416.0 709.7h0.5M363.4 700.7h1.1M443.9 702.5h0.6M429.3 687.5h0.9M441.8 675.0h1.6M379.4 689.2h1.2M436.3 729.1h1.3M433.6 726.1h1.6M361.4 680.5h1.2M366.9 698.5h1.1M449.1 679.6h1.4M452.8 703.3h0.4M397.0 720.7h0.5M438.0 660.8h0.6M407.9 675.6h1.5M450.2 737.7h1.3M395.5 725.9h1.1M439.4 659.0h0.9M387.9 703.8h1.1M418.2 659.1h0.9M432.3 701.6h1.3M379.5 680.0h0.4M450.4 682.5h1.7M443.1 728.7h1.1M398.3 738.3h1.6M425.9 691.7h1.7M448.0 658.9h1.1M415.4 695.6h1.6M408.7 662.5h0.6M407.4 667.9h0.8M386.5 672.9h1.5M437.1 689.5h0.5M453.1 702.9h1.2M430.7 657.5h0.8M449.9 691.9h1.6M395.8 728.0h0.9M374.8 714.5h1.0M417.1 685.6h0.7M392.8 680.3h1.7M406.8 696.9h0.8M421.4 689.8h0.7M364.8 708.6h0.8" stroke="#5a5a72" stroke-width="2" stroke-linecap="round" opacity="0.6" fill="none"/>
<path d="M420.3 734.7h0.7M371.6 661.4h1.6M386.3 703.3h0.5M394.4 701.3h0.7M399.6 731.3h1.6M360.5 725.1h0.9M366.9 659.5h1.1M368.7 672.4h1.4M387.9 690.2h0.6M427.4 693.4h1.3M367.5 668.8h0.9M407.4 686.3h1.1M411.2 669.1h1.4M360.2 716.4h0.9M417.7 686.3h1.7M386.1 712.8h0.6M369.6 684.9h1.2M419.4 707.8h1.1M405.3 736.8h1.1M431.3 708.7h0.5M416.0 656.7h0.4M380.0 687.4h1.1M411.5 713.1h1.5M446.4 678.5h0.7M374.9 680.0h0.9M375.0 708.8h0.4M444.7 732.3h1.1M391.4 699.5h1.4M384.0 707.4h1.4M444.0 700.1h0.9M369.1 691.2h0.8M367.2 710.9h0.8M405.3 711.9h1.3M421.3 684.4h0.9M372.1 678.3h0.8M450.6 692.0h1.6M364.9 662.1h1.6M360.8 722.1h1.0M385.2 696.0h1.4M413.3 717.9h0.9M363.3 719.4h0.7M365.7 695.4h1.0M398.2 702.5h1.5M420.3 735.6h0.6M387.4 665.5h0.7M435.3 738.1h1.5M373.1 678.3h1.1M365.9 728.5h1.0" stroke="#8a8aa6" stroke-width="1.4" stroke-linecap="round" opacity="0.5" fill="none"/>
<path d="M428.5 716.1h1.6M445.7 737.8h0.7M449.6 659.6h1.5M361.4 662.1h1.2M441.8 682.3h1.2M410.2 716.9h1.1M426.0 693.2h1.3M454.0 706.6h1.0M380.5 726.7h1.7M360.3 740.4h1.2M373.5 721.2h1.0M364.1 677.0h1.0M422.6 729.3h0.6M410.5 688.7h1.3M390.5 678.1h0.9M364.3 734.7h1.1M454.2 727.5h0.9M365.0 742.8h1.2M369.7 732.8h0.9M414.8 695.0h0.6M420.5 709.2h1.2M382.5 713.5h1.3M400.5 717.0h1.2M407.7 670.4h1.5M361.8 717.8h1.5M392.6 741.7h0.7M374.4 673.5h1.1M383.4 742.2h1.4M447.9 662.4h1.1M421.9 716.1h0.8M400.2 681.0h1.6M400.2 712.7h1.6M401.9 715.3h1.1M436.1 654.7h1.5M362.3 668.4h1.3M394.7 658.7h0.6M413.4 666.1h0.8M438.5 728.4h1.3M381.4 702.8h0.9M439.5 697.2h1.1M438.2 654.1h1.0M395.7 716.0h1.4M382.5 676.3h0.7M401.1 679.0h1.0M368.7 657.3h1.2" stroke="#8a8aa6" stroke-width="1.7" stroke-linecap="round" opacity="0.5" fill="none"/>
<path d="M367.4 667.0h0.7M438.9 681.3h1.5M423.6 679.6h0.5M425.6 676.3h0.8M404.2 716.4h1.0M387.5 713.8h0.9M398.1 716.2h1.2M435.2 667.9h1.6M442.0 716.8h0.5M411.1 705.7h0.5M404.3 719.9h1.5M413.8 701.7h0.8M361.6 691.4h1.2M403.4 725.7h0.5M433.9 726.3h0.4M405.3 678.9h0.6M417.4 739.6h1.3M429.6 719.3h0.8M432.8 657.6h1.3M420.9 724.0h0.8M392.0 682.5h0.9M450.9 742.9h0.7M403.9 663.5h0.8M431.8 685.2h0.9M443.6 656.5h1.5M396.3 716.0h1.2M372.6 676.2h0.7M431.1 703.6h0.9M409.1 698.8h1.4M398.2 740.7h0.5M416.4 706.7h0.8M395.9 688.6h1.2M439.3 685.6h1.1M430.2 728.9h0.4M396.0 688.8h1.0M454.4 735.7h1.5M360.5 655.3h1.2M386.3 699.9h1.3M383.2 736.7h0.8M431.7 693.2h0.6M453.3 713.6h0.5M438.3 702.2h1.3M368.7 708.3h0.6M435.1 661.4h1.2M412.7 659.4h1.4M435.2 709.9h1.4" stroke="#8a8aa6" stroke-width="2" stroke-linecap="round" opacity="0.5" fill="none"/>
<path d="M420.9 717.5h0.1M414.3 693.4h0.1M373.6 695.3h0.1M371.9 708.6h0.1M394.2 702.7h0.1M409.1 706.6h0.1M360.3 728.3h0.1M381.1 707.4h0.1M388.4 729.8h0.1M438.3 657.7h0.1M416.9 679.0h0.1M447.1 736.4h0.1M420.6 723.2h0.1M366.2 685.6h0.1M455.8 713.0h0.1M450.7 668.0h0.1M393.1 689.8h0.1M418.9 731.1h0.1M402.9 677.9h0.1M423.4 684.6h0.1M453.0 665.6h0.1M445.0 730.7h0.1M435.1 726.8h0.1M420.1 660.7h0.1M395.7 714.3h0.1M417.0 697.8h0.1M429.6 707.9h0.1M361.0 703.9h0.1M396.1 681.6h0.1M420.0 692.7h0.1M374.5 719.7h0.1M406.3 734.3h0.1M442.1 715.1h0.1M387.3 707.3h0.1M445.5 721.9h0.1M432.0 737.4h0.1M386.2 706.6h0.1M439.3 722.7h0.1M447.8 685.8h0.1M390.2 669.6h0.1M444.6 706.9h0.1M435.3 692.3h0.1M397.9 662.7h0.1M361.6 737.1h0.1M388.4 726.5h0.1M440.6 725.8h0.1M400.9 723.5h0.1M431.8 716.6h0.1M422.5 685.3h0.1M445.3 727.0h0.1M378.8 728.4h0.1M446.6 712.4h0.1M452.7 654.1h0.1M417.8 676.0h0.1M451.4 678.6h0.1M360.1 666.3h0.1M374.0 723.3h0.1M387.0 713.0h0.1M436.9 709.7h0.1M405.7 682.7h0.1M387.9 673.4h0.1M449.4 723.4h0.1M378.2 711.9h0.1M403.3 702.7h0.1M379.8 690.6h0.1M417.9 698.6h0.1M451.1 707.9h0.1M433.6 671.7h0.1M442.0 701.8h0.1M370.2 721.1h0.1M416.1 674.8h0.1M453.1 690.5h0.1M388.9 709.8h0.1M422.4 736.4h0.1M410.8 700.2h0.1M397.1 711.7h0.1M374.4 695.0h0.1M372.2 665.7h0.1M449.8 716.4h0.1M364.1 734.6h0.1M376.1 730.8h0.1M409.8 675.0h0.1M448.4 675.9h0.1M428.1 695.0h0.1M434.3 725.1h0.1M426.9 697.2h0.1M367.5 671.2h0.1M439.6 693.1h0.1M376.4 670.4h0.1M380.3 686.6h0.1M425.4 696.1h0.1M411.2 711.7h0.1M379.6 734.6h0.1M416.7 658.7h0.1M397.1 719.9h0.1M439.6 737.2h0.1M404.6 722.2h0.1M441.0 712.8h0.1M455.1 698.8h0.1M403.4 731.2h0.1M360.7 689.9h0.1M373.8 699.8h0.1M407.3 677.8h0.1M390.7 696.1h0.1M387.2 669.5h0.1M362.8 700.9h0.1M399.7 682.0h0.1M437.0 698.5h0.1M406.7 675.0h0.1M404.9 665.9h0.1M449.7 698.6h0.1M362.8 740.6h0.1M398.5 692.7h0.1M408.0 695.0h0.1M411.8 730.4h0.1M415.7 715.1h0.1M392.0 655.4h0.1M424.8 665.3h0.1M419.6 691.5h0.1M421.1 684.9h0.1M435.1 656.2h0.1M384.6 705.5h0.1M378.4 735.0h0.1M427.5 657.8h0.1M363.9 656.2h0.1M451.0 683.4h0.1M445.7 704.0h0.1M392.0 658.0h0.1M402.6 686.6h0.1M410.2 715.0h0.1M454.5 736.3h0.1M390.0 660.7h0.1M365.2 732.2h0.1M446.0 689.0h0.1M431.0 696.9h0.1M445.7 721.8h0.1M364.4 707.1h0.1M375.6 700.5h0.1M416.9 681.0h0.1M439.3 675.4h0.1M440.7 660.8h0.1M370.6 737.7h0.1M417.9 665.9h0.1M431.4 729.0h0.1M423.8 678.3h0.1M391.6 659.2h0.1M384.4 712.8h0.1M453.9 657.1h0.1M407.9 708.9h0.1M363.8 704.0h0.1M360.1 741.4h0.1M432.7 674.4h0.1M410.4 671.0h0.1M404.9 702.0h0.1M374.6 733.4h0.1M407.2 738.3h0.1M427.7 686.1h0.1M383.3 717.0h0.1M381.4 661.0h0.1M373.8 724.1h0.1M371.1 671.6h0.1M417.8 704.9h0.1M383.9 703.5h0.1M386.3 711.7h0.1M425.6 709.8h0.1M438.9 672.0h0.1M387.5 679.3h0.1M389.5 720.8h0.1M389.1 671.6h0.1M382.4 671.1h0.1M433.6 738.0h0.1M386.9 699.8h0.1M369.3 656.9h0.1M393.0 678.9h0.1M363.7 681.7h0.1M440.2 695.9h0.1M445.5 664.0h0.1" stroke="#a7a7c0" stroke-width="1.2" stroke-linecap="round" opacity="0.6" fill="none"/>
<path d="M428.3 735.0h0.1M374.0 701.1h0.1M386.3 724.8h0.1M373.0 698.2h0.1M452.9 673.4h0.1M370.3 655.3h0.1M365.2 667.9h0.1M431.5 710.1h0.1M444.8 676.6h0.1M372.1 666.0h0.1M367.1 691.3h0.1M444.9 674.0h0.1M363.1 721.4h0.1M406.8 734.0h0.1M374.5 736.0h0.1M392.7 710.9h0.1M450.5 714.6h0.1M395.3 671.4h0.1M389.0 726.9h0.1M453.2 699.7h0.1M422.3 693.4h0.1M400.9 720.0h0.1M377.3 699.6h0.1M439.9 673.5h0.1M414.7 663.7h0.1M374.3 688.4h0.1M419.6 708.7h0.1M411.5 684.9h0.1M387.3 678.7h0.1M412.7 666.8h0.1M407.5 719.6h0.1M368.4 737.0h0.1M416.3 674.0h0.1M399.2 691.8h0.1M370.2 706.8h0.1M433.6 690.3h0.1M412.8 665.2h0.1M432.3 692.1h0.1M370.8 715.4h0.1M438.5 736.1h0.1M373.9 670.5h0.1M395.9 705.7h0.1M451.9 721.3h0.1M444.0 693.0h0.1M376.6 742.3h0.1M386.4 726.8h0.1M416.4 718.6h0.1M368.0 691.2h0.1M420.7 673.0h0.1M431.9 730.3h0.1M370.6 710.5h0.1M452.5 662.6h0.1M401.3 700.3h0.1M368.6 654.1h0.1M360.5 723.1h0.1M392.2 670.5h0.1M443.8 721.9h0.1M401.8 681.0h0.1M423.9 655.0h0.1M396.3 679.4h0.1M446.3 720.0h0.1M381.6 727.7h0.1M447.6 690.0h0.1M399.9 732.7h0.1M375.9 711.5h0.1M383.7 727.5h0.1M381.9 697.5h0.1M420.2 742.6h0.1M419.9 705.6h0.1M403.0 724.5h0.1M385.9 665.7h0.1M440.7 741.5h0.1M429.8 719.7h0.1M388.8 698.7h0.1M395.3 708.5h0.1M381.8 734.0h0.1M371.1 731.6h0.1M422.5 703.0h0.1M431.5 730.4h0.1M428.2 706.2h0.1" stroke="#c9bd98" stroke-width="1.2" stroke-linecap="round" opacity="0.6" fill="none"/>
</g>
<g filter="url(#fc)">
</g><g filter="url(#fh)">
<ellipse cx="440" cy="680" rx="11" ry="13" transform="rotate(0 440 680)" fill="#8d90c6" opacity="0.42"/>
<ellipse cx="392" cy="680" rx="17" ry="8" transform="rotate(-10 392 680)" fill="#8d90c6" opacity="0.42"/>
<ellipse cx="380" cy="713" rx="8" ry="10" transform="rotate(0 380 713)" fill="#8d90c6" opacity="0.42"/>
<ellipse cx="398" cy="712" rx="11" ry="4" transform="rotate(0 398 712)" fill="#8d90c6" opacity="0.42"/>
<ellipse cx="445" cy="725" rx="11" ry="6" transform="rotate(30 445 725)" fill="#8d90c6" opacity="0.42"/>
<ellipse cx="421" cy="730" rx="4" ry="10" transform="rotate(0 421 730)" fill="#8d90c6" opacity="0.42"/>
<ellipse cx="370" cy="688" rx="5" ry="5" transform="rotate(0 370 688)" fill="#8d90c6" opacity="0.42"/>
</g><g filter="url(#fc)">
<path d="M375 682Q389.8 678.2 405 678" stroke="#9597cb" stroke-width="4.4" stroke-linecap="round" opacity="0.4" fill="none"/>
<path d="M375 682Q389.8 678.2 405 678" stroke="#45478e" stroke-width="1.32" stroke-linecap="round" opacity="0.6" fill="none"/>
<path d="M400 672Q405.2 681.5 408 692" stroke="#9597cb" stroke-width="4" stroke-linecap="round" opacity="0.4" fill="none"/>
<path d="M400 672Q405.2 681.5 408 692" stroke="#45478e" stroke-width="1.2" stroke-linecap="round" opacity="0.6" fill="none"/>
<path d="M378 705Q382.4 716.1 384 728" stroke="#9597cb" stroke-width="4.4" stroke-linecap="round" opacity="0.4" fill="none"/>
<path d="M378 705Q382.4 716.1 384 728" stroke="#45478e" stroke-width="1.32" stroke-linecap="round" opacity="0.6" fill="none"/>
<path d="M385 712Q398.4 709.4 412 710" stroke="#9597cb" stroke-width="4" stroke-linecap="round" opacity="0.4" fill="none"/>
<path d="M385 712Q398.4 709.4 412 710" stroke="#45478e" stroke-width="1.2" stroke-linecap="round" opacity="0.6" fill="none"/>
<path d="M415 720Q421.1 728.4 425 738" stroke="#9597cb" stroke-width="4" stroke-linecap="round" opacity="0.4" fill="none"/>
<path d="M415 720Q421.1 728.4 425 738" stroke="#45478e" stroke-width="1.2" stroke-linecap="round" opacity="0.6" fill="none"/>
<path d="M435 718Q444.2 723.0 452 730" stroke="#9597cb" stroke-width="4.8" stroke-linecap="round" opacity="0.4" fill="none"/>
<path d="M435 718Q444.2 723.0 452 730" stroke="#45478e" stroke-width="1.44" stroke-linecap="round" opacity="0.6" fill="none"/>
<path d="M430 668Q441.3 677.8 450 690" stroke="#9597cb" stroke-width="5.2" stroke-linecap="round" opacity="0.4" fill="none"/>
<path d="M430 668Q441.3 677.8 450 690" stroke="#45478e" stroke-width="1.56" stroke-linecap="round" opacity="0.6" fill="none"/>
<path d="M388 690Q394.6 694.3 400 700" stroke="#9597cb" stroke-width="3.6" stroke-linecap="round" opacity="0.4" fill="none"/>
<path d="M388 690Q394.6 694.3 400 700" stroke="#45478e" stroke-width="1.08" stroke-linecap="round" opacity="0.6" fill="none"/>
<ellipse cx="440.8" cy="674.2" rx="4.05" ry="4.32" fill="#9a9ccc" opacity="0.3"/>
<ellipse cx="443.9" cy="682.3" rx="3.51" ry="4.05" fill="#9a9ccc" opacity="0.3"/>
<ellipse cx="434" cy="676" rx="2.97" ry="3.24" fill="#9a9ccc" opacity="0.3"/>
<ellipse cx="385.3" cy="680.3" rx="4.32" ry="2.7" fill="#9a9ccc" opacity="0.3"/>
<ellipse cx="401.4" cy="676.3" rx="2.7" ry="4.05" fill="#9a9ccc" opacity="0.3"/>
<ellipse cx="405.5" cy="681.3" rx="2.16" ry="4.32" fill="#9a9ccc" opacity="0.3"/>
<ellipse cx="394.4" cy="690.4" rx="3.24" ry="2.7" fill="#9a9ccc" opacity="0.3"/>
<ellipse cx="370.1" cy="686.3" rx="2.97" ry="2.97" fill="#9a9ccc" opacity="0.3"/>
<ellipse cx="396.4" cy="711.6" rx="4.59" ry="2.7" fill="#9a9ccc" opacity="0.3"/>
<ellipse cx="381.3" cy="716.6" rx="2.97" ry="4.32" fill="#9a9ccc" opacity="0.3"/>
<ellipse cx="369.1" cy="710.6" rx="2.97" ry="2.97" fill="#9a9ccc" opacity="0.3"/>
<ellipse cx="421.6" cy="730.8" rx="2.7" ry="4.86" fill="#9a9ccc" opacity="0.3"/>
<ellipse cx="444.9" cy="724.7" rx="4.32" ry="3.24" fill="#9a9ccc" opacity="0.3"/>
<ellipse cx="454" cy="708.6" rx="2.16" ry="3.24" fill="#9a9ccc" opacity="0.3"/>
<ellipse cx="431.7" cy="726.7" rx="2.97" ry="2.97" fill="#9a9ccc" opacity="0.3"/>
<ellipse cx="380" cy="672" rx="2.97" ry="2.16" fill="#9a9ccc" opacity="0.3"/>
<ellipse cx="413" cy="665" rx="3.51" ry="2.16" fill="#9a9ccc" opacity="0.3"/>
<ellipse cx="372" cy="733" rx="2.43" ry="2.7" fill="#9a9ccc" opacity="0.3"/>
<ellipse cx="440.96" cy="675.37" rx="2.4" ry="2.56" fill="#363873" opacity="0.54"/>
<ellipse cx="440.31" cy="673.6" rx="2.68" ry="2.85" fill="#363873" opacity="0.54"/>
<ellipse cx="441.54" cy="675.41" rx="2.72" ry="2.91" fill="#363873" opacity="0.54"/>
<ellipse cx="444.28" cy="682.64" rx="1.97" ry="2.27" fill="#363873" opacity="0.54"/>
<ellipse cx="444.79" cy="681.86" rx="1.71" ry="1.97" fill="#363873" opacity="0.54"/>
<ellipse cx="444.77" cy="682.05" rx="1.85" ry="2.14" fill="#363873" opacity="0.54"/>
<ellipse cx="433.93" cy="675.79" rx="2.03" ry="2.22" fill="#363873" opacity="0.51"/>
<ellipse cx="433.54" cy="675.45" rx="1.55" ry="1.69" fill="#363873" opacity="0.51"/>
<ellipse cx="434.81" cy="676.18" rx="2.17" ry="2.37" fill="#363873" opacity="0.51"/>
<ellipse cx="384.75" cy="680.61" rx="2.67" ry="1.67" fill="#363873" opacity="0.51"/>
<ellipse cx="385.34" cy="680.32" rx="3.09" ry="1.93" fill="#363873" opacity="0.51"/>
<ellipse cx="385.04" cy="680.35" rx="3.06" ry="1.91" fill="#363873" opacity="0.51"/>
<ellipse cx="400.91" cy="675.13" rx="1.54" ry="2.32" fill="#363873" opacity="0.51"/>
<ellipse cx="400.99" cy="677.43" rx="1.84" ry="2.75" fill="#363873" opacity="0.51"/>
<ellipse cx="401" cy="677.18" rx="1.94" ry="2.9" fill="#363873" opacity="0.51"/>
<ellipse cx="405.1" cy="680.62" rx="1.24" ry="2.49" fill="#363873" opacity="0.51"/>
<ellipse cx="406.02" cy="680.33" rx="1.06" ry="2.13" fill="#363873" opacity="0.51"/>
<ellipse cx="405.33" cy="681.45" rx="1.16" ry="2.32" fill="#363873" opacity="0.51"/>
<ellipse cx="395.09" cy="689.71" rx="2" ry="1.67" fill="#363873" opacity="0.51"/>
<ellipse cx="394.76" cy="690.35" rx="2.29" ry="1.91" fill="#363873" opacity="0.51"/>
<ellipse cx="395.13" cy="690.36" rx="2" ry="1.67" fill="#363873" opacity="0.51"/>
<ellipse cx="370" cy="685.48" rx="2.05" ry="2.05" fill="#363873" opacity="0.51"/>
<ellipse cx="369.49" cy="686.25" rx="1.61" ry="1.61" fill="#363873" opacity="0.51"/>
<ellipse cx="370.68" cy="686.46" rx="2.02" ry="2.02" fill="#363873" opacity="0.51"/>
<ellipse cx="395.47" cy="711.49" rx="2.85" ry="1.68" fill="#363873" opacity="0.51"/>
<ellipse cx="397.41" cy="711.73" rx="2.49" ry="1.47" fill="#363873" opacity="0.51"/>
<ellipse cx="396.76" cy="712.26" rx="2.27" ry="1.33" fill="#363873" opacity="0.51"/>
<ellipse cx="382.15" cy="717.78" rx="2" ry="2.9" fill="#363873" opacity="0.51"/>
<ellipse cx="381.19" cy="717.55" rx="1.64" ry="2.39" fill="#363873" opacity="0.51"/>
<ellipse cx="380.96" cy="717.65" rx="2.17" ry="3.15" fill="#363873" opacity="0.51"/>
<ellipse cx="369.54" cy="710.29" rx="1.64" ry="1.64" fill="#363873" opacity="0.51"/>
<ellipse cx="368.67" cy="711.09" rx="2" ry="2" fill="#363873" opacity="0.51"/>
<ellipse cx="369" cy="711.38" rx="1.8" ry="1.8" fill="#363873" opacity="0.51"/>
<ellipse cx="422.12" cy="731.81" rx="1.48" ry="2.66" fill="#363873" opacity="0.51"/>
<ellipse cx="421.03" cy="729.5" rx="1.94" ry="3.49" fill="#363873" opacity="0.51"/>
<ellipse cx="421.74" cy="731.69" rx="1.5" ry="2.7" fill="#363873" opacity="0.51"/>
<ellipse cx="443.63" cy="725.39" rx="2.68" ry="2.01" fill="#363873" opacity="0.54"/>
<ellipse cx="444.81" cy="724.24" rx="3" ry="2.25" fill="#363873" opacity="0.54"/>
<ellipse cx="445.96" cy="724.21" rx="2.94" ry="2.21" fill="#363873" opacity="0.54"/>
<ellipse cx="453.89" cy="707.71" rx="1.04" ry="1.56" fill="#363873" opacity="0.51"/>
<ellipse cx="453.55" cy="709.48" rx="1.57" ry="2.35" fill="#363873" opacity="0.51"/>
<ellipse cx="453.69" cy="707.92" rx="1.49" ry="2.23" fill="#363873" opacity="0.51"/>
<ellipse cx="432.47" cy="726.17" rx="1.53" ry="1.53" fill="#363873" opacity="0.49"/>
<ellipse cx="431.17" cy="726.66" rx="1.46" ry="1.46" fill="#363873" opacity="0.49"/>
<ellipse cx="431.68" cy="726.06" rx="1.72" ry="1.72" fill="#363873" opacity="0.49"/>
<ellipse cx="379.39" cy="671.56" rx="1.68" ry="1.22" fill="#363873" opacity="0.49"/>
<ellipse cx="380.68" cy="671.59" rx="2.17" ry="1.58" fill="#363873" opacity="0.49"/>
<ellipse cx="379.94" cy="671.59" rx="1.72" ry="1.25" fill="#363873" opacity="0.49"/>
<ellipse cx="413.12" cy="664.68" rx="2.28" ry="1.4" fill="#4d4f90" opacity="0.46"/>
<ellipse cx="412.87" cy="664.58" rx="2.5" ry="1.54" fill="#4d4f90" opacity="0.46"/>
<ellipse cx="413.57" cy="664.46" rx="2.1" ry="1.29" fill="#4d4f90" opacity="0.46"/>
<ellipse cx="372.36" cy="733.28" rx="1.47" ry="1.63" fill="#363873" opacity="0.49"/>
<ellipse cx="372.19" cy="733.01" rx="1.61" ry="1.79" fill="#363873" opacity="0.49"/>
<ellipse cx="371.64" cy="733.11" rx="1.76" ry="1.96" fill="#363873" opacity="0.49"/>
</g>
</g>
<rect x="425.9" y="739.25" width="26.3" height="1.9" fill="#111"/>
<text transform="translate(332.6 703.7) rotate(-90)" font-size="9" text-anchor="middle" textLength="37" lengthAdjust="spacingAndGlyphs">TRAP-APR</text>
<text transform="translate(343.6 703.6) rotate(-90)" font-size="9" text-anchor="middle" textLength="20.4" lengthAdjust="spacingAndGlyphs">(ASA)</text>
<text transform="translate(354.3 703.3) rotate(-90)" font-size="9" text-anchor="middle" textLength="27.2" lengthAdjust="spacingAndGlyphs">+ rhIL-8</text>
<rect x="0" y="0" width="520" height="1" fill="#000"/>
<rect x="0" y="0" width="1" height="752" fill="#000"/>
<rect x="518" y="0" width="2" height="752" fill="#5a5a5a"/>
<rect x="0" y="750" width="520" height="2" fill="#5a5a5a"/>
</svg></body></html>
